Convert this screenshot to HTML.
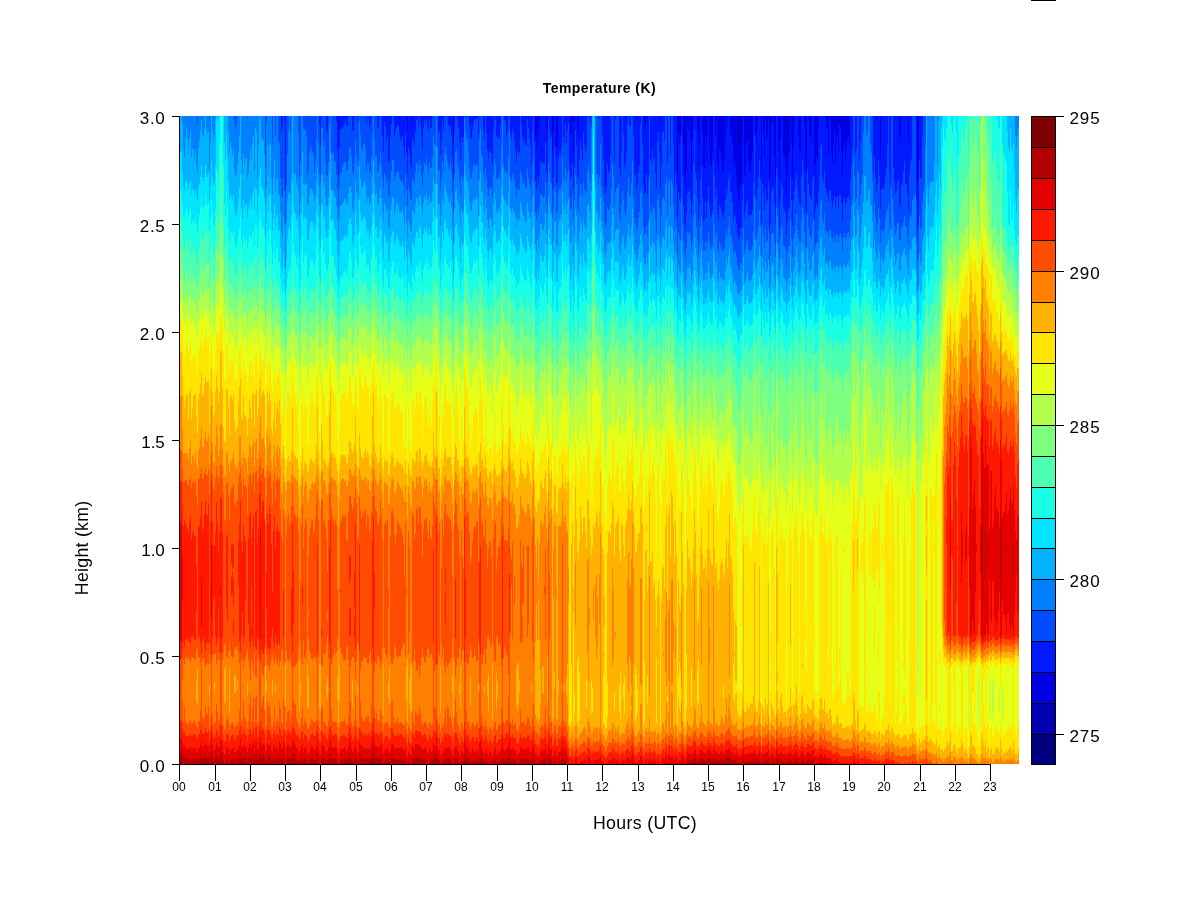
<!DOCTYPE html>
<html>
<head>
<meta charset="utf-8">
<title>Temperature (K)</title>
<style>
html,body{margin:0;padding:0;background:#fff;}
body{width:1200px;height:900px;overflow:hidden;}
svg{display:block;will-change:transform;}
text{font-family:"Liberation Sans",sans-serif;fill:#000;}
.xt{font-size:12px;text-anchor:middle;}
.yt{font-size:17px;text-anchor:end;}
.ct{font-size:17px;text-anchor:start;}
</style>
</head>
<body>
<svg width="1200" height="900" viewBox="0 0 1200 900">
<rect x="0" y="0" width="1200" height="900" fill="#fff"/>
<rect x="1031" y="0" width="25" height="1" fill="#000"/>
<!-- heat map -->
<g transform="translate(179,116)" fill="none" stroke-width="1" shape-rendering="crispEdges">
<path stroke="#0000B2" d="M558.5 0v2m1-2v28m1-28v26m30-26v10m17-10v14m6-14v2"/>
<path stroke="#0000E5" d="M159.5 0v13m69-13v13m4-13v8m29-8v1m13-1v25m7-25v2m28-2v1m47-1v21m1-21v33m1-33v12m1-12v23m1-23v6m7-6v10m1-10v24m5-24v35m1-35v16m3-16v30m1-30v31m13-31v19m1-19v18m1-18v5m1-5v37m1-37v7m3-7v14m1-14v19m58-19v5m8-5v18m1-18v8m2-8v8m13-8v6m17-6v56m1-56v17m1-17v27m1-27v22m3-22v30m1-30v60m1-60v72m1-72v55m1-55v10m1-10v14m1-14v6m1-6v23m1-23v57m1-57v23m5-23v15m1-15v55m1-55v31m3-31v15m1-15v50m1-50v52m1-52v21m1-21v46m1-46v22m1-22v1m1-1v33m1-33v49m1-49v51m1-51v37m3-37v21m1-21v4m1-4v49m1-49v56m1-56v32m1-32v35m1-35v44m1-44v56m1-56v57m1-57v43m1-43v22m2-22v10m3-10v21m1-21v19m1-19v27m1-27v50m1-50v43m1-43v51m1-51v62m1-60v73m1-47v57m1-59v56m1-82v69m1-69v69m1-69v27m2-27v59m1-59v48m1-48v29m1-29v24m1-24v45m1-45v55m1-55v55m1-55v45m1-45v37m3-37v18m1-18v26m1-26v8m4-8v55m2-55v17m1-17v40m1-40v3m1-3v25m1-25v21m1-21v3m1 7v60m1-70v58m1-58v8m2-8v7m1-7v39m1-39v66m3-66v34m1-34v63m1-63v23m2-23v3m1-3v39m1-39v42m1-42v49m1-35v65m1-79v60m1-60v43m1-43v35m2-35v27m1-25v62m1-64v32m1-32v8m4-8v18m1-18v34m1-34v35m4-35v7m1-7v53m1-53v57m2-57v4m1-4v21m1-21v20m1-20v27m3-27v59m1-59v48m1-48v40m1-40v45m1-45v13m7-13v2m1-2v10m1-10v13m1-13v39m1-39v2m1-2v4m1-4v37m1-37v47m1-47v28m1-28v16m1-16v47m1-47v25m1-25v20m1-20v37m1-37v8m1-8v11m1-11v36m1-36v60m1-60v34m1-34v26m1-26v46m1-46v34m1-34v24m1-24v20m1-20v29m27-29v5m4-5v42m19-42v20m1-20v25m8-25v25m8-25v6m1-6v67m1-67v64"/>
<path stroke="#0019FF" d="M102.5 0v15m1-15v11m2-11v5m1-5v74m22-74v1m12-1v8m1-8v30m6-30v14m1-14v17m9-17v5m1-5v34m1-21v46m1-59v31m1-31v13m1-13v13m1-13v12m1-12v10m1-10v8m1-8v3m1-3v10m1-10v10m1-10v1m4-1v14m1-14v15m1-15v1m3-1v5m9-5v8m2-8v1m1-1v12m1-12v9m7-9v12m1-12v11m4-11v20m1-20v36m1-36v6m1-6v11m1-11v25m1-25v20m1-20v45m1-45v46m1-46v20m1-20v8m3-8v20m1-20v16m1-16v12m1-12v9m1-9v10m1-10v18m1-18v25m1-25v21m1-21v20m1-20v30m1-30v42m1-42v17m1-17v37m1-24v44m1-57v32m1-32v38m1-38v48m1-40v44m1-52v22m1-22v24m1-24v30m1-30v16m1-16v4m1-4v3m1-3v11m2-11v8m1-8v22m1-22v34m1-34v13m1-13v4m1-4v7m1-7v3m1-3v10m1-10v15m1-15v2m1-2v12m1-12v12m7-12v16m1-16v15m1-14v38m1-39v25m1-25v6m1-6v15m4-15v1m1-1v9m1-9v13m1-13v10m1-10v19m1-19v41m1-16v39m1-64v15m3-15v5m1-5v12m1-12v26m1-24v43m1-45v21m1-21v26m1-26v21m6-21v10m1-10v23m1-23v22m1-22v14m1-14v7m1-7v3m1-3v5m1-5v2m1-2v3m1-3v19m5-19v14m1-14v23m2-23v17m1-17v34m1-33v42m1-43v36m1-36v34m1-34v38m1-38v47m1-47v14m2-14v4m1-4v20m1-20v23m1-23v21m1-21v23m1-23v9m4-9v5m1-5v4m1-4v20m1-20v16m3-16v18m1-18v23m1-23v13m1-13v17m1-17v25m1-25v35m1-35v47m1-47v33m1-33v38m1-38v36m2-36v10m1-10v21m1-21v27m1-27v24m1-24v30m1-30v29m1-29v3m1-3v12m1-12v22m1-22v30m1-30v50m1-50v15m2-15v26m1-5v44m1-32v40m1-61v49m1-38v45m1-62v53m1-59v44m1-44v48m1-48v47m1-47v47m1-47v47m1-47v26m1-16v45m1-31v42m1-66v1m1-1v14m1-14v22m1-22v21m1 14v38m1-57v46m1-62v31m1-31v41m1-11v37m1-36v36m1-67v43m1-43v37m1-37v38m1-38v30m2-30v21m1-21v27m1-27v9m1-9v27m1-27v14m1-14v7m1-7v49m1-30v44m1-45v43m1-56v43m1-11v36m1-66v44m1-51v15m1-15v30m1-16v45m1-40v44m1-63v43m1-43v24m1-24v35m1-35v44m1-44v17m1-17v29m1-29v36m1-36v33m3-33v2m1-2v8m8-8v3m4-3v21m1-21v43m1-43v71m1-71v78m1-78v71m1-71v48m1-48v57m1-57v55m1-55v39m4-39v47m1-47v3m4-3v52m1-52v61m1-61v37m2-37v18m1-18v49m1-49v53m1-53v37m1-37v8m2-8v11m1-11v10m3-10v20m1-20v58m1-58v59m1-54v68m1-73v67m1-67v56m1-56v50m1-50v9m2-9v28m1-28v69m1-51v60m1-70v69m1-77v58m1-50v71m1-79v62m2-62v44m1-44v48m1-48v33m1-33v43m1-43v41m1-41v57m1-57v72m1-72v26m1-26v17m1-17v37m1-31v68m1-74v50m1-50v16m1-16v16m1-16v25m3-25v48m3-48v39m3-39v29m1-29v72m1-72v57m1-57v68m1-12v45m1-84v59m1-49v57m1-62v64m1-86v19m1-19v61m1-31v59m1-29v48m1-36v42m1-59v43m1-88v68m1-64v62m1-70v68m1-51v60m1-26v42m1-76v63m1-86v48m1-48v14m1-14v56m1-56v64m1-49v67m1-27v49m1-73v58m1-89v64m1-64v51m1-36v67m1-32v55m1-53v52m1-83v65m1-40v56m1-80v63m1-84v69m1-37v56m1-40v50m1-48v51m1-65v57m1-94v45m1-45v60m1-39v61m1-78v69m1-24v49m1-42v48m1-72v57m1-54v56m1-47v52m1-40v44m1-43v46m1-60v53m1-74v62m1-84v72m1-62v68m1-78v64m1-64v57m1-36v55m1-57v58m1-50v59m1-36v54m1-61v56m1-48v50m1-39v46m1-33v43m1-33v39m1-42v39m1-52v43m1-43v43m1-85v58m1-85v68m1-9v43m1-54v47m1-66v58m1-63v60m1-39v54m1-44v45m1-45v43m1-53v54m1-62v57m1-94v67m1-67v19m1-1v62m1-54v59m1-77v64m1-72v61m1-61v44m1-44v64m1-9v51m1-106v68m1-51v61m1-38v54m1-91v70m1-48v62m1-66v63m1-81v62m1 5v47m1-59v50m1-100v69m1-77v71m1-64v67m1-35v50m1-23v41m1-107v52m1-52v59m1-25v56m1-27v50m1-90v59m1-82v66m1-63v68m1-32v53m1-50v52m1-45v48m1-18v40m1-59v45m1-62v51m1-59v57m1-92v61m1-34v57m1-20v46m1-78v52m1-76v67m1-75v65m1-65v57m1-57v72m1-54v64m1-48v54m1-53v55m1-90v61m1-61v44m1-44v56m1-49v68m1-22v43m1-39v41m1-98v53m1-49v64m1-47v59m1-60v62m1-55v57m1-84v66m1-66v60m1-1v45m1-56v46m1-54v48m1-43v46m1-78v63m1-76v59m1-59v31m1-31v27m1-27v62m1-62v66m1-66v54m1-52v70m1-62v67m1-64v66m1-40v47m1-84v73m1-71v70m1-37v48m1-38v44m1-63v57m1-69v64m1-33v45m1-67v56m1-61v61m1-44v55m1-84v71m1-68v68m1-43v51m1-27v45m1-71v52m1-60v56m1-36v44m1-56v52m1-62v57m1-61v60m1-51v55m1-84v64m1-64v50m1-50v33m3-33v37m1-37v33m3-33v45m1-45v25m13-25v56m1-56v40m1-40v61m1-56v70m1-75v68m1-68v45m1-45v60m1-18v51m1-93v74m1-74v72m1-72v74m1-74v69m1-69v61m1-61v51m1-51v29m2-29v58m1-58v69m3-69v52m1-52v65m1-65v78m1-78v75m1-75v67m1-67v63m1-43v68m1-63v65m1-90v69m1-69v67m1-67v56m1-56v45m1-45v68m1-68v68m1-68v78m1-53v70m1-95v58m1-58v47m1-47v43m5-37v79m1-18v47m1-50v45m1-109v45m1-45v62m1-62v62m1-62v19"/>
<path stroke="#004CFF" d="M18.5 0v8m12-8v3m25-3v3m1-3v13m1-13v8m11-8v2m18-2v51m1-51v7m6-7v29m3-29v20m3-20v25m1-25v27m1-27v62m1-47v66m1-70v70m1-81v62m1-57v70m1-1v34m1-108v69m1-69v38m1-38v14m2-14v16m8-16v15m1-15v60m1-60v46m3-46v12m1-12v14m1-14v14m1-14v21m1-20v58m1-59v56m1-56v38m1-38v29m1-29v33m1-33v36m1-36v39m1-39v56m1-56v45m1-45v23m2-23v27m1-19v50m1-28v37m1-67v11m1-11v12m1-12v31m1-31v24m1-24v46m1-32v45m1-42v43m1-60v46m1-46v7m2-7v37m1-37v37m1-37v38m1-38v45m1-45v46m1-41v54m1-25v39m1-14v32m1-60v39m1-57v44m1-44v43m1-44v39m1-41v38m1-40v38m1-43v43m1-36v44m1-44v44m1-53v44m1-45v32m1-32v31m1-31v39m1-25v42m1-41v44m1-58v46m1-47v23m1-23v39m1-34v45m1-50v45m1-45v5m1-5v19m1-19v32m1-32v35m1-35v29m1-29v27m1-27v32m1-24v47m1-55v47m1-46v46m1-35v45m1-48v48m1-57v41m1-41v18m2-18v23m1-23v40m1-40v40m1-28v44m1-45v45m1-56v48m1-48v36m1-36v49m1-29v42m1-26v37m1-67v51m1-46v49m1-35v42m1-47v43m1-18v35m1-34v35m1-61v43m1-55v47m1-55v44m1-44v44m1-24v45m1-49v44m1-48v44m1-47v46m1-45v46m1-38v43m1-36v40m1-44v43m1-44v45m1-35v40m1-28v36m1-61v42m1-22v37m1-17v32m1-57v39m1-33v38m1-28v34m1-30v32m1-62v42m1-40v40m1-34v37m1-51v40m1-52v43m1-44v45m1-37v45m1-56v44m1-36v41m1-27v38m1-26v36m1-57v44m1-53v43m1-40v42m1-46v39m1-32v41m1-36v43m1-56v44m1-34v40m1-40v40m1-52v42m1-42v20m1-20v28m1-28v29m2-29v32m1-16v39m1-40v39m1-15v36m1-50v38m1-57v40m1-31v40m1-55v37m1-37v30m1-30v39m1-38v44m1-36v42m1-38v40m1-43v38m1-29v38m1-16v35m1-12v32m1-81v43m1-58v36m1-36v34m1-29v44m1-37v41m1-27v38m1-19v34m1-58v38m1-33v38m1-43v40m1-61v2m1-2v15m1-15v24m1-24v22m1-22v36m1-26v43m1-30v40m1-41v39m1-47v41m1-48v43m1-47v45m1-43v46m1-49v47m1-46v46m1-30v43m1-62v23m1-23v13m1-13v38m1-38v41m1-27v43m1-34v42m1-65v52m1-35v45m1-28v38m1-29v37m1-44v37m1-39v37m1-33v35m1-26v33m1-66v44m1-58v43m1-39v44m1-28v43m1-40v40m1-42v40m1-38v40m1-54v47m1-56v30m2-30v48m1-43v52m1-53v51m1-35v37m1-41v41m1-57v41m1-41v14m1 4v45m1-40v42m1-52v45m1-41v44m1-36v40m1-30v37m1-25v34m1-48v39m1-34v36m1-38v38m1-74v55m1-45v49m1-38v43m1-37v41m1-44v43m1-37v42m1-43v43m1-69v50m1-41v50m1-40v46m1-38v41m1-21v33m1-68v49m1-64v42m1-16v41m1-2v31m1-23v31m1-43v32m1-25v31m1-40v31m1-46v34m1-30v31m1-32v34m1-34v35m1-35v33m1-54v40m1-11v31m1-20v31m1-96v46m1-33v44m1-36v43m1-44v46m1 6v29m1-40v31m1-62v41m1-31v35m1-9v29m1-29v30m1-54v34m1-40v36m1-35v35m1-43v38m1-68v41m1-20v41m1-35v38m1-56v43m1-25v40m1-53v44m1-51v47m1-5v32m1-18v31m1-33v31m1-44v32m1-7v30m1-52v34m1-70v44m1-29v38m1-9v32m1-28v33m1-53v37m1-56v44m1-33v40m1-31v37m1-64v49m1-37v44m1-37v42m1-45v43m1-76v55m1-55v50m1-48v56m1-50v58m1-66v13m4-13v2m1-2v58m1-58v58m1-55v65m1-68v61m1-61v28m1-28v71m1-50v58m1-36v43m1-15v35m1-28v33m1-40v36m1-59v43m1-34v37m1-39v39m1-55v49m1-88v72m1-72v47m1-47v60m1-13v43m1-87v74m1-77v73m1-73v72m1-72v68m1-16v46m1-37v45m1-69v52m1-89v75m1-57v65m1-34v46m1-42v47m1-63v54m1-83v69m1-77v61m1-50v69m1-70v69m1-79v67m1-67v45m1-25v62m1-24v44m1-43v48m1-34v42m1-48v45m1-56v46m1-52v46m1-87v68m1-77v74m1-46v63m1-22v42m1-33v41m1-42v41m1-60v52m1-31v41m1-58v44m1-106v59m1-15v51m1-47v49m1-64v56m1-46v50m1-52v52m1-36v47m1-32v45m1-91v58m1-67v61m1-41v55m1-18v43m1-67v49m1-83v67m1-67v65m1-56v60m1-85v68m1-68v62m1-14v50m1-98v66m1-66v64m1-25v51m1-90v64m1-64v69m1-40v61m1-18v43m1-58v46m1-35v44m1-11v37m1-62v40m1-32v38m1-36v39m1-106v63m1-21v48m1-20v37m1-18v30m1-24v30m1-46v34m1-54v39m1-41v42m1-44v42m1-33v39m1-23v34m1-47v40m1-78v54m1-88v64m1-22v42m1-34v47m1-29v41m1-19v34m1-49v39m1-64v46m1-59v49m1-18v42m1-19v30m1-31v31m1-49v40m1-24v33m1-50v40m1-55v47m1-28v38m1-28v33m1-30v32m1-40v35m1-84v54m1-39v49m1-27v39m1-48v43m1-18v34m1-28v32m1-47v37m1-35v38m1-33v36m1-32v34m1-31v32m1-39v36m1-48v39m1-51v41m1-35v42m1-56v47m1-54v44m1-25v42m1-41v44m1-35v42m1-24v34m1-39v36m1-34v35m1-28v33m1-23v31m1-25v30m1-33v33m1-42v35m1-35v35m1-62v39m1-56v43m1-9v35m1-42v38m1-46v40m1-43v40m1-25v35m1-34v35m1-37v36m1-35v35m1-40v36m1-63v48m1-96v62m1-1v41m1-36v39m1-52v45m1-56v50m1-67v51m1-31v46m1-4v32m1-70v42m1-32v42m1-26v38m1-59v40m1-26v38m1-41v41m1-60v48m1 4v31m1-40v31m1-62v42m1-48v46m1-43v43m1-28v39m1-21v34m1-89v40m1-33v41m1-10v38m1-15v29m1-60v40m1-56v44m1-39v42m1-21v37m1-35v36m1-33v36m1-14v31m1-45v32m1-43v36m1-38v38m1-69v44m1-21v39m1-13v31m1-57v39m1-48v43m1-53v45m1-53v41m1-26v42m1-32v40m1-34v38m1-36v35m1-64v44m1-61v48m1-36v43m1-24v41m1-20v35m1-33v34m1-79v46m1-31v44m1-32v40m1-38v39m1-37v39m1-57v43m1-49v44m1 0v31m1-41v35m1-41v38m1-35v36m1-51v38m1-55v40m1-68v55m1-59v56m1-21v41m1-37v42m1-54v43m1-25v42m1-37v40m1-38v37m1-30v35m1-46v39m1-40v40m1-29v37m1-31v34m1-40v37m1-42v40m1-28v34m1-45v38m1-38v38m1-27v35m1-48v41m1-41v39m1-31v35m1-17v30m1-49v35m1-39v35m1-27v34m1-38v35m1-40v36m1-37v36m1-32v37m1-57v40m1-54v40m1-57v50m1-83v42m1-42v61m1-24v48m1-52v49m1-82v55m1-55v57m1-12v45m1-65v54m1-79v68m1-68v58m1-58v17m3-17v20m1-20v16m3-16v28m1-28v37m1-37v65m1-9v39m1-55v46m1-25v40m1-26v40m1-47v40m1-63v47m1-32v42m1-9v34m1-53v40m1-42v42m1-40v43m1-48v43m1-51v42m1-52v45m1-67v64m1-93v87m1-29v51m1-40v45m1-114v73m1-73v83m1-31v46m1-33v45m1-32v40m1-43v39m1-47v40m1-44v44m1-19v36m1-34v35m1-56v42m1-44v45m1-56v50m1-61v55m1-32v42m1-42v43m1-33v42m1-25v35m1-72v46m1-57v52m1-56v58m1-101v84m1-84v83m1-83v80m1-80v78m1 7v42m1-13v32m1-37v35m1-99v55m1-38v52m1-52v49m1-92v68m1-87v76m1-76v68m1-68v30"/>
<path stroke="#007FFF" d="M3.5 0v7m1-7v32m1-32v41m1-41v21m1-21v12m1-12v23m1-23v34m1-34v23m1-23v16m1-16v41m1-41v33m1-33v33m1-33v42m1-42v33m1-33v50m1-42v49m1-57v32m1-32v25m1-25v15m1-15v4m1-4v18m1-18v20m1-20v12m2-12v12m1-12v17m1-17v16m1-13v51m1-54v27m2-27v14m1-14v23m1-23v19m1-19v3m13-3v15m1-15v37m1-37v26m1-26v32m1-32v40m1-40v33m1-30v50m1-40v47m1-52v50m1-58v48m1-48v36m1-36v20m2-20v44m1-44v57m1-57v38m1-38v48m1-48v43m1-43v42m1-40v60m1-62v57m1-57v45m1-45v33m1-33v44m1-44v27m1-27v20m1-20v55m1-55v12m1-12v15m1-15v61m1-61v29m1-29v4m2-4v23m1-23v23m1-23v25m1-25v38m1 13v37m1-81v63m1-70v30m1-30v59m1-59v28m1-28v29m1-29v62m1-33v50m1-79v63m1-63v43m1-23v56m1-76v63m1-63v62m1-37v52m1-50v52m1-17v35m1-16v36m1-36v40m1-59v38m1-25v34m1-1v44m1-83v37m1-68v47m1-71v64m1-78v76m1-60v63m1-79v62m2-62v56m1-56v59m1-59v58m1-58v69m1-69v65m1-50v60m1-15v39m1-53v41m1-87v61m1-61v36m1-24v56m1-54v55m1-55v53m1-46v47m1-9v31m1-34v32m1-50v40m1-49v43m1-39v40m1-37v39m1-36v39m1-22v29m1-40v34m1-56v42m1-65v51m1-24v43m1-12v31m1-22v30m1-86v47m1-46v47m1-28v40m1-47v42m1-20v35m1-22v31m1-30v30m1-44v35m1-74v48m1-55v35m1 2v37m1-37v37m1-36v37m1-30v35m1-34v35m1-22v32m1-18v32m1-14v34m1-55v33m1-46v33m1-34v33m1-38v37m1-40v38m1-40v37m1-37v37m1-29v34m1-34v32m1-41v33m1-46v39m1-40v39m1-31v37m1-20v36m1-33v38m1-50v37m1-61v41m1-25v37m1-26v35m1-40v36m1-76v45m1-31v44m1-31v40m1-37v36m1-42v40m1-42v39m1-34v37m1-14v31m1-39v34m1-34v35m1-25v32m1-32v30m1-46v37m1-60v44m1-62v45m1-22v44m1-27v39m1-39v37m1-21v33m1-33v32m1-40v34m1-46v36m1-23v33m1-20v33m1-22v31m1-47v30m1-27v30m1-23v30m1-34v30m1-13v32m1-31v32m1-50v31m1-39v33m1-44v37m1-37v38m1-17v34m1-39v33m1-37v32m1-33v31m1-30v34m1-29v34m1-30v32m1-33v32m1-31v29m1-24v29m1-21v32m1-51v32m1-17v32m1-17v33m1-51v33m1-28v33m1-27v32m1-30v32m1-52v31m1-31v31m1-28v31m1-42v33m1-42v35m1-34v35m1-27v33m1-45v34m1-29v32m1-21v30m1-20v28m1-41v30m1-40v33m1-31v34m1-41v36m1-27v33m1-26v31m1-43v34m1-28v34m1-34v33m1-43v34m1-56v41m1-33v39m1-38v39m1-68v30m1 2v37m1-14v34m1-35v34m1-13v35m1-47v36m1-53v36m1-27v34m1-52v36m1-43v38m1-29v37m1-31v35m1-29v34m1-32v34m1-39v34m1-25v34m1-15v34m1-14v32m1-70v35m1-57v39m1-41v39m1-24v35m1-31v35m1-24v34m1-19v32m1-52v34m1-29v34m1-37v34m1-93v45m1-32v44m1-35v41m1-43v43m1-29v38m1-21v34m1-24v33m1-35v33m1-39v32m1-37v33m1-35v34m1-31v33m1-35v32m1-32v33m1-20v38m1-77v41m1-51v43m1-18v37m1-34v35m1-19v32m1-24v32m1-45v30m1-20v30m1-20v32m1-24v33m1-40v31m1-33v30m1-28v30m1-23v31m1-53v30m1-45v34m1-29v35m1-20v33m1-33v32m1-34v31m1-29v32m1-39v31m1-57v41m1-71v51m1-3v32m1-23v29m1-31v29m1-27v31m1-31v32m1-48v36m1-63v46m1 3v30m1-28v31m1-38v34m1-31v36m1-32v31m1-24v29m1-20v30m1-39v31m1-29v31m1-31v29m1-48v31m1-27v32m1-27v32m1-28v32m1-33v34m1-29v34m1-34v33m1-52v34m1-25v33m1-27v33m1-30v31m1-19v31m1-50v32m1-54v37m1-12v33m1-4v32m1-24v32m1-43v31m1-25v32m1-41v30m1-42v30m1-29v29m1-27v32m1-31v32m1-34v29m1-43v30m1-10v32m1-21v32m1-82v34m1-23v31m1-24v31m1-29v31m1 4v32m1-41v32m1-53v33m1-29v30m1-10v33m1-32v34m1-54v32m1-36v31m1-31v30m1-35v30m1-57v35m1-14v28m1-25v29m1-42v33m1-18v31m1-40v30m1-34v29m1-2v30m1-17v34m1-36v34m1-46v30m1-7v37m1-55v34m1-60v34m1-25v32m1-9v33m1-28v34m1-50v35m1-47v33m1-26v34m1-28v36m1-51v37m1-30v36m1-31v35m1-37v35m1-56v35m1-40v38m1-30v37m1-29v38m1-91v62m4-73v70m1-14v40m1-40v37m1-27v39m1-46v41m1-74v54m1-11v34m1-26v34m1-27v34m1-14v31m1-26v30m1-34v29m1-45v35m1-32v33m1-33v33m1-39v36m1-52v39m1-64v45m1-32v39m1-9v34m1-47v38m1-42v40m1-41v42m1-46v44m1-14v36m1-28v33m1-50v38m1-52v43m1-35v39m1-27v36m1-31v34m1-43v36m1-50v41m1-57v47m1-28v41m1-42v41m1-53v44m1-66v48m1-11v37m1-17v32m1-27v31m1-23v31m1-34v30m1-40v32m1-38v33m1-52v42m1-45v43m1-26v35m1-15v31m1-23v30m1-31v30m1-38v28m1-18v29m1-43v31m1-78v45m1-9v35m1-33v33m1-41v36m1-32v35m1-35v35m1-24v32m1-19v33m1-66v40m1-46v42m1-28v37m1-12v32m1-50v34m1-50v39m1-41v40m1-36v39m1-56v43m1-49v42m1-6v34m1-66v46m1-48v45m1-19v37m1-63v46m1-41v44m1-23v37m1-12v31m1-43v32m1-23v31m1-5v31m1-53v33m1-27v33m1-30v32m1-75v42m1-15v32m1-15v30m1-18v29m1-23v29m1-41v32m1-47v34m1-33v34m1-36v31m1-25v30m1-19v31m1-38v33m1-57v36m1-60v43m1-23v34m1-21v30m1-18v32m1-17v30m1-40v32m1-50v32m1-42v34m1-10v29m1-18v29m1-29v29m1-38v32m1-23v29m1-39v30m1-38v29m1-19v30m1-25v30m1-28v29m1-34v29m1-59v33m1-23v29m1-17v30m1-35v30m1-14v31m1-27v30m1-40v30m1-27v32m1-29v31m1-29v30m1-29v30m1-33v32m1-41v32m1-42v29m1-22v30m1-39v29m1-39v32m1-15v31m1-28v31m1-24v31m1-21v30m1-33v30m1-29v30m1-25v29m1-21v27m1-22v25m1-25v25m1-32v27m1-27v28m1-51v32m1-45v30m1-4v30m1-34v33m1-39v34m1-37v32m1-22v30m1-29v31m1-32v31m1-31v30m1-34v29m1-44v30m1-64v43m1-3v30m1-27v29m1-36v29m1-35v30m1-46v35m1-20v30m1-2v30m1-58v32m1-22v32m1-20v32m1-51v33m1-21v31m1-31v29m1-41v31m1 4v26m1-35v29m1-49v31m1-33v29m1-29v32m1-21v34m1-21v30m1-79v35m1-27v34m1-6v32m1-18v27m1-47v31m1-43v33m1-30v35m1-19v32m1-31v32m1-29v31m1-14v25m1-38v30m1-37v32m1-32v32m1-57v34m1-16v33m1-15v29m1-47v32m1-37v33m1-41v31m1-43v32m1-16v32m1-24v34m1-30v33m1-34v29m1-49v31m1-44v36m1-29v36m1-19v32m1-17v32m1-31v32m1-65v34m1-21v33m1-25v34m1-33v35m1-33v31m1-45v31m1-36v31m1 0v29m1-35v32m1-35v33m1-32v34m1-47v33m1-48v34m1-47v37m1-40v38m1-18v33m1-28v32m1-43v34m1-17v33m1-30v31m1-32v30m1-25v31m1-38v31m1-31v31m1-23v31m1-28v30m1-33v30m1-32v30m1-24v30m1-37v31m1-31v32m1-24v30m1-37v30m1-32v31m1-27v31m1-18v28m1-42v30m1-34v30m1-23v28m1-31v30m1-34v31m1-32v30m1-25v30m1-47v30m1-44v35m1-42v38m1-79v45m1-26v39m1-15v36m1-39v37m1-64v39m1-37v41m1-8v43m1-54v42m1-53v41m1-51v40m1-81v69m1-86v60m1-60v60m1-40v66m1-70v68m1-84v75m1-75v73m1-45v61m1-52v52m1-24v40m1-10v37m1-46v37m1-22v33m1-19v30m1-37v34m1-50v37m1-27v34m1-9v29m1-42v29m1-29v30m1-27v31m1-36v31m1-40v31m1-38v33m1-36v35m1-41v37m1-15v28m1-23v29m1-70v40m1-30v38m1-23v33m1-21v30m1-22v31m1-35v30m1-37v30m1-30v30m1-13v30m1-29v30m1-44v28m1-27v28m1-34v29m1-35v32m1-22v29m1-28v31m1-22v30m1-20v29m1-55v33m1-38v34m1-32v33m1-50v39m1-40v40m1-43v41m1-43v43m1 6v31m1-12v28m1-30v30m1-74v38m1-24v35m1-38v35m1-59v38m1-49v44m1-52v47m1-85v64m2-94v70m1-70v89m1-89v71m1-71v66m1-66v65m1-65v66m1-66v66m1-66v45m3-45v49m1-49v4m77-4v20m1-20v31m1-31v19m1-19v11"/>
<path stroke="#00B2FF" d="M0.5 0v41m1-41v35m1-35v37m1-30v50m1-25v39m1-30v33m1-53v46m1-55v52m1-41v44m1-33v39m1-50v44m1-51v48m1-23v37m1-45v40m1-40v40m1-31v36m1-45v40m1-23v31m1-24v29m1-54v39m1-46v43m1-53v46m1-57v46m1-32v44m1-42v45m1-53v49m1-61v48m1-36v46m1-41v44m1-45v42m1-4v30m1-57v43m1-70v45m1-31v48m1-39v46m1-50v47m1-63v46m1-49v3m1-3v1m1-1v6m6-6v26m1-26v44m1-44v18m1-18v41m1-26v50m1-28v47m1-58v52m1-46v49m1-41v44m1-51v46m1-26v38m1-31v38m1-40v42m1-52v43m1-55v46m1-62v52m1-72v58m1-14v48m1-35v45m1-64v46m1-36v45m1-50v47m1-48v46m1-26v39m1-44v36m1-48v42m1-54v51m1-40v46m1-63v53m1-60v54m1-19v39m1-82v59m1-56v58m1-12v38m1-70v51m1-76v57m1-61v53m1-30v48m1-48v49m1-47v49m1-36v44m1 6v34m1-52v37m1-77v50m1-21v36m1-67v50m1-49v49m1-16v35m1-18v36m1-52v39m1-59v45m1-12v35m1-48v36m1-37v37m1-22v38m1-36v35m1-17v34m1-14v34m1-30v34m1-55v38m1-29v42m1 1v24m1-70v38m1-59v38m1-45v35m1-37v35m1-32v37m1-54v37m1-99v69m1-13v34m1-31v37m1-38v40m1-29v36m1-40v37m1-27v39m1-15v42m1-54v38m1-64v36m1-61v45m1-13v36m1-35v33m1-35v34m1-33v36m1-14v34m1-36v36m1-46v36m1-42v34m1-33v32m1-30v31m1-28v33m1-26v31m1-37v30m1-44v31m1-45v31m1-12v31m1-12v34m1-26v35m1-74v30m1-29v31m1-19v32m1-37v34m1-19v33m1-24v32m1-32v31m1-40v32m1-58v32m1-52v39m1 0v31m1-31v29m1-28v29m1-24v33m1-32v33m1-23v33m1-19v34m1-14v37m1-59v38m1-51v36m1-37v35m1-36v37m1-39v36m1-39v37m1-37v36m1-31v35m1-37v33m1-41v30m1-37v32m1-33v32m1-26v32m1-16v35m1-30v34m1-47v36m1-56v31m1-19v33m1-24v34m1-38v34m1-65v34m1-21v34m1-25v33m1-34v32m1-34v34m1-37v34m1-31v34m1-17v32m1-37v32m1-31v32m1-25v34m1-36v32m1-41v33m1-49v35m1-52v33m1-11v32m1-20v33m1-35v34m1-22v33m1-34v34m1-40v32m1-42v29m1-19v32m1-19v35m1-26v39m1-56v31m1-28v31m1-24v31m1-35v32m1-13v33m1-32v33m1-52v32m1-38v32m1-39v34m1-33v34m1-17v30m1-36v33m1-38v33m1-35v32m1-28v34m1-29v34m1-32v34m1-35v33m1-35v31m1-26v32m1-21v33m1-52v34m1-19v35m1-19v35m1-53v32m1-27v30m1-25v32m1-30v35m1-56v32m1-32v32m1-29v33m1-42v33m1-40v33m1-32v33m1-27v33m1-44v31m1-28v31m1-22v33m1-25v34m1-45v31m1-38v32m1-29v33m1-38v33m1-27v33m1-28v32m1-41v33m1-27v33m1-34v33m1-42v30m1-45v30m1-24v32m1-31v35m1-73v38m1 1v33m1-13v32m1-33v33m1-11v34m1-45v33m1-50v34m1-27v35m1-51v34m1-39v35m1-27v36m1-32v33m1-28v33m1-31v33m1-38v32m1-23v33m1-14v33m1-15v34m1-69v33m1-51v36m1-38v35m1-24v32m1-28v33m1-23v34m1-21v35m1-53v35m1-30v33m1-36v32m1-80v36m1-24v31m1-25v32m1-32v34m1-25v34m1-21v32m1-23v32m1-34v32m1-39v32m1-36v32m1-33v32m1-30v31m1-34v30m1-29v31m1-13v30m1-66v36m1-44v34m1-15v31m1-30v31m1-18v32m1-24v31m1-46v30m1-20v31m1-19v31m1-22v30m1-39v31m1-34v31m1-29v30m1-22v29m1-52v31m1-42v32m1-26v32m1-19v31m1-32v32m1-35v31m1-28v30m1-38v30m1-46v29m1-49v30m1-1v30m1-24v29m1-31v29m1-25v32m1-31v30m1-42v32m1-49v32m1 1v31m1-28v31m1-35v31m1-26v33m1-34v32m1-27v31m1-21v31m1-39v33m1-31v32m1-34v31m1-48v32m1-27v31m1-26v32m1-28v31m1-30v32m1-27v31m1-32v30m1-48v33m1-25v31m1-25v30m1-29v32m1-20v31m1-49v31m1-48v32m1-11v32m1-4v33m1-25v31m1-43v30m1-23v32m1-43v31m1-43v30m1-30v33m1-28v33m1-32v31m1-36v30m1-43v32m1-10v32m1-21v32m1-80v32m1-24v33m1-26v33m1-31v31m1 5v31m1-40v31m1-51v32m1-31v36m1-13v36m1-34v35m1-57v36m1-41v35m1-36v34m1-39v32m1-54v31m1-17v31m1-27v32m1-41v33m1-20v33m1-43v31m1-36v30m1-2v38m1-21v38m1-40v37m1-53v37m1-7v34m1-55v36m1-62v34m1-27v34m1-10v35m1-29v35m1-50v35m1-49v37m1-29v38m1-30v37m1-51v35m1-29v37m1-33v38m1-40v38m1-59v34m1-36v33m1-26v32m1-23v32m1-61v43m1-118v58m2-58v65m1 7v43m1-17v32m1-35v32m1-20v30m1-35v31m1-51v35m1-12v32m1-24v30m1-23v29m1-12v30m1-26v29m1-34v30m1-40v31m1-30v28m1-28v30m1-33v31m1-44v31m1-50v35m1-28v34m1-9v31m1-40v30m1-32v32m1-31v33m1-35v33m1-11v31m1-26v30m1-42v32m1-41v30m1-26v32m1-23v32m1-29v30m1-37v30m1-39v29m1-39v30m1-17v29m1-30v30m1-39v32m1-50v36m1-10v31m1-16v29m1-25v30m1-22v27m1-31v27m1-35v30m1-35v29m1-39v28m1-30v29m1-20v30m1-14v29m1-22v27m1-28v26m1-36v27m1-16v27m1-39v30m1-63v31m1-5v30m1-30v30m1-35v30m1-27v31m1-31v30m1-22v30m1-16v28m1-54v36m1-40v34m1-25v32m1-12v27m1-43v30m1-41v31m1-32v32m1-29v32m1-45v32m1-39v33m1-5v31m1-51v30m1-33v31m1-13v33m1-50v32m1-29v31m1-17v30m1-11v27m1-38v30m1-22v29m1-3v25m1-45v28m1-22v25m1-23v25m1-58v36m1-19v29m1-14v26m1-15v26m1-20v26m1-35v23m1-36v25m1-24v26m1-31v28m1-23v26m1-14v25m1-30v24m1-45v31m1-48v33m1-22v30m1-21v29m1-15v26m1-13v24m1-32v25m1-43v30m1-38v31m1-12v25m1-14v24m1-24v24m1-30v24m1-18v23m1-32v24m1-33v27m1-16v25m1-20v23m1-22v23m1-28v26m1-52v29m1-23v28m1-15v27m1-32v28m1-11v25m1-22v24m1-34v25m1-20v23m1-21v22m1-21v23m1-22v24m1-25v22m1-31v25m1-38v28m1-20v27m1-37v29m1-36v29m1-13v27m1-24v26m1-19v24m1-15v23m1-26v23m1-22v24m1-20v23m1-17v23m1-20v23m1-23v22m1-27v22m1-21v22m1-41v24m1-39v28m1-2v21m1-22v22m1-27v23m1-28v24m1-16v22m1-20v22m1-23v22m1-23v23m1-28v25m1-39v28m1-49v33m1-6v26m1-24v25m1-32v27m1-32v29m1-40v30m1-20v29m1-1v25m1-51v30m1-20v27m1-15v24m1-42v28m1-18v26m1-28v27m1-37v28m1 2v23m1-29v24m1-42v27m1-31v27m1-24v27m1-14v24m1-15v23m1-67v32m1-25v31m1-5v23m1-14v23m1-39v26m1-36v29m1-24v28m1-15v23m1-22v23m1-21v23m1-12v22m1-30v22m1-27v23m1-23v23m1-46v30m1-13v25m1-11v22m1-37v25m1-29v26m1-36v29m1-40v30m1-14v28m1-18v24m1-21v23m1-28v25m1-43v29m1-37v31m1-24v32m1-19v27m1-12v23m1-22v24m1-55v31m1-19v28m1-19v25m1-23v24m1-26v26m1-40v29m1-34v30m1-1v23m1-26v23m1-25v24m1-22v23m1-37v28m1-42v31m1-41v30m1-32v30m1-15v30m1-26v29m1-38v31m1-15v28m1-27v27m1-29v26m1-20v27m1-34v28m1-28v28m1-20v25m1-23v26m1-29v26m1-28v26m1-20v24m1-30v26m1-25v26m1-20v25m1-32v26m1-27v26m1-22v26m1-16v24m1-36v26m1-30v27m1-22v25m1-26v25m1-28v26m1-28v28m1-23v26m1-43v30m1-39v31m1-35v34m1-68v36m1-23v34m1-13v32m1-34v34m1-59v36m1-32v38m1-3v37m1-49v41m1-53v44m1-55v45m1-57v46m1-72v50m1-50v51m1-25v46m1-48v46m1-55v45m1-47v43m1-27v44m1-44v43m1-27v41m1-14v34m1-43v35m1-24v31m1-20v27m1-30v30m1-43v33m1-26v30m1-10v24m1-37v27m1-26v28m1-24v27m1-32v27m1-36v29m1-34v29m1-30v30m1-34v29m1-16v28m1-22v28m1-58v29m1-21v30m1-20v31m1-22v28m1-19v28m1-33v28m1-35v28m1-28v28m1-11v25m1-24v24m1-40v28m1-27v28m1-33v29m1-32v29m1-22v28m1-25v28m1-20v26m1-17v24m1-46v30m1-34v31m1-30v29m1-40v30m1-30v31m1-33v32m1-32v33m1 4v25m1-9v24m1-24v24m1-60v32m1-21v29m1-32v30m1-51v34m1-39v38m1-43v40m1-61v43m1-137v82m1-12v50m1-31v45m1-63v48m1-53v45m1-46v46m1-45v47m1-47v45m1-66v53m1-98v78m1-78v65m1-16v50m1-95v79m1-83v56m1-56v71m1-71v10m66-10v15m1-15v31m1-31v36m1-36v13m1-13v32m1-32v37m1-37v27m1-27v54m1-34v63m1-52v65m1-77v60m1-68v62"/>
<path stroke="#00E5FF" d="M0.5 41v36m1-42v38m1-36v38m1-18v31m1-17v29m1-26v28m1-35v28m1-31v28m1-25v27m1-21v28m1-34v29m1-32v28m1-14v31m1-36v32m1-32v31m1-26v30m1-35v28m1-20v28m1-23v30m1-45v32m1-35v30m1-37v30m1-41v32m1-20v30m1-27v29m1-33v29m1-42v32m1-22v30m1-27v29m1-32v29m1-3v30m1-44v33m1-58v39m1-22v34m1-27v39m1-42v43m1-60v44m1-90v50m1-52v55m1-50v56m1-62v27m4-27v50m1-24v62m1-44v56m1-82v56m1-33v50m1-26v46m1-27v40m1-46v38m1-35v36m1-33v35m1-40v37m1-25v33m1-26v32m1-30v32m1-41v34m1-43v36m1-46v39m1-53v41m1-7v32m1-22v29m1-47v36m1-27v33m1-36v33m1-35v35m1-22v31m1-39v33m1-39v34m1-37v36m1-30v34m1-44v38m1-44v39m1-19v35m1-58v37m1-35v37m1-11v33m1-52v38m1-57v44m1-52v45m1-27v40m1-39v40m1-38v38m1-30v36m1 4v32m1-47v31m1-58v36m1-21v34m1-51v36m1-36v36m1-17v34m1-16v34m1-47v35m1-49v37m1-14v32m1-44v33m1-33v34m1-18v31m1-32v32m1-15v32m1-12v23m1-19v22m1-39v31m1-18v24m1 1v18m1-50v28m1-49v40m1-50v43m1-45v39m1-34v38m1-55v41m1-71v37m1-16v39m1-33v41m1-39v42m1-35v44m1-47v40m1-28v40m1-13v32m1-48v40m1-68v40m1-56v39m1-16v42m1-44v38m1-39v36m1-33v35m1-15v38m1-38v38m1-48v39m1-47v39m1-40v37m1-36v37m1-32v37m1-32v37m1-44v35m1-48v34m1-48v31m1-12v37m1-15v38m1-29v35m1-79v33m1-31v34m1-21v36m1-39v36m1-22v33m1-25v32m1-33v34m1-42v35m1-61v34m1-47v32m1-1v35m1-37v35m1-34v36m1-27v37m1-36v38m1-28v36m1-21v29m1-6v20m1-41v30m1-45v37m1-39v36m1-35v35m1-38v35m1-37v35m1-36v36m1-32v36m1-40v38m1-49v38m1-43v34m1-35v34m1-28v36m1-17v35m1-31v32m1-43v33m1-58v36m1-22v35m1-25v34m1-38v34m1-65v33m1-20v33m1-25v33m1-35v35m1-35v33m1-36v34m1-31v34m1-19v35m1-40v34m1-33v34m1-25v35m1-39v32m1-40v31m1-45v32m1-51v29m1-8v32m1-19v30m1-31v30m1-19v33m1-33v34m1-42v34m1-47v34m1-21v35m1-19v34m1-21v29m1-54v35m1-32v32m1-25v32m1-35v32m1-12v27m1-26v27m1-47v31m1-37v31m1-36v30m1-29v29m1-16v29m1-32v33m1-38v35m1-38v33m1-27v35m1-30v34m1-32v33m1-35v32m1-36v32m1-26v32m1-20v28m1-46v34m1-18v30m1-14v23m1-44v29m1-26v28m1-21v26m1-21v25m1-49v31m1-31v33m1-29v34m1-43v33m1-40v34m1-33v34m1-28v33m1-46v35m1-32v37m1-26v38m1-29v34m1-48v35m1-41v35m1-31v35m1-40v32m1-26v31m1-27v33m1-41v33m1-27v33m1-34v34m1-46v35m1-50v33m1-25v34m1-30v33m1-68v33m1 1v33m1-14v32m1-32v30m1-7v29m1-41v32m1-48v32m1-24v35m1-52v35m1-39v34m1-25v36m1-35v36m1-31v33m1-31v32m1-38v32m1-22v33m1-14v29m1-10v23m1-59v30m1-45v31m1-34v32m1-24v29m1-24v31m1-20v32m1-18v28m1-46v34m1-31v33m1-37v32m1-76v34m1-27v33m1-26v33m1-31v32m1-23v32m1-21v32m1-23v30m1-32v31m1-38v33m1-37v32m1-33v29m1-28v33m1-37v33m1-31v31m1-14v28m1-58v31m1-41v32m1-16v32m1-31v34m1-20v33m1-26v31m1-47v31m1-20v30m1-18v30m1-22v28m1-36v31m1-34v31m1-30v30m1-23v28m1-49v29m1-39v29m1-23v29m1-17v30m1-30v31m1-35v32m1-30v30m1-38v30m1-47v30m1-49v30m1-1v31m1-26v32m1-34v33m1-26v33m1-34v30m1-40v29m1-46v31m1 1v31m1-28v31m1-35v30m1-23v31m1-33v31m1-27v32m1-22v30m1-36v31m1-30v31m1-34v31m1-47v31m1-27v31m1-25v30m1-27v31m1-29v31m1-27v30m1-32v29m1-44v31m1-25v30m1-25v30m1-27v33m1-22v28m1-46v31m1-47v32m1-11v32m1-3v29m1-23v27m1-40v28m1-19v28m1-40v30m1-43v30m1-27v31m1-26v31m1-32v31m1-37v29m1-40v32m1-10v29m1-18v27m1-75v32m1-23v34m1-27v34m1-34v32m1 4v30m1-39v29m1-48v32m1-27v33m1-10v30m1-29v30m1-51v33m1-39v34m1-36v34m1-41v33m1-56v34m1-20v35m1-30v35m1-43v34m1-21v34m1-46v34m1-40v34m1 2v34m1-17v31m1-34v31m1-47v33m1-6v30m1-49v32m1-60v35m1-28v35m1-10v33m1-27v31m1-46v32m1-44v35m1-26v33m1-26v32m1-48v34m1-26v32m1-27v33m1-35v35m1-60v32m1-35v31m1-25v31m1-22v30m1-48v34m1-94v53m1-111v19m1 46v51m1-1v32m1-17v29m1-32v29m1-19v29m1-33v29m1-45v31m1-11v30m1-24v30m1-24v29m1-11v26m1-23v26m1-30v25m1-34v25m1-27v26m1-24v25m1-27v26m1-39v29m1-44v31m1-25v31m1-9v26m1-36v28m1-28v28m1-26v28m1-30v29m1-9v23m1-19v23m1-33v26m1-37v28m1-22v27m1-18v25m1-24v22m1-29v25m1-35v27m1-36v29m1-17v27m1-27v28m1-35v29m1-43v32m1-11v27m1-14v26m1-21v24m1-19v23m1-27v24m1-29v23m1-29v25m1-36v27m1-28v28m1-18v26m1-11v24m1-19v24m1-26v24m1-33v25m1-14v24m1-33v24m1-56v30m1-5v25m1-25v26m1-31v27m1-23v25m1-26v26m1-18v25m1-13v25m1-43v24m1-30v26m1-19v26m1-11v24m1-37v26m1-36v28m1-28v28m1-25v28m1-41v30m1-36v31m1-5v24m1-45v29m1-31v30m1-10v26m1-44v30m1-28v29m1-16v26m1-10v24m1-32v25m1-18v26m1-4v24m1-41v24m1-21v24m1-22v24m1-46v23m1-13v24m1-12v25m1-14v25m1-19v26m1-38v24m1-35v22m1-20v23m1-26v23m1-20v25m1-14v26m1-32v24m1-38v23m1-38v27m1-19v25m1-17v26m1-15v26m1-15v24m1-31v24m1-37v24m1-31v24m1-11v24m1-14v24m1-24v24m1-30v23m1-18v23m1-31v23m1-29v22m1-13v23m1-20v23m1-22v24m1-26v24m1-47v25m1-20v26m1-14v26m1-30v26m1-12v24m1-22v24m1-33v24m1-21v22m1-21v23m1-21v23m1-21v25m1-28v22m1-28v22m1-32v25m1-18v25m1-33v25m1-32v25m1-11v23m1-21v24m1-19v24m1-16v23m1-26v23m1-21v23m1-20v24m1-18v24m1-21v25m1-26v24m1-29v22m1-21v22m1-39v23m1-34v23m1-4v21m1-21v21m1-25v22m1-26v22m1-16v22m1-20v22m1-23v22m1-22v23m1-26v24m1-35v24m1-40v25m1-5v22m1-21v23m1-28v24m1-27v23m1-33v25m1-16v26m1-2v26m1-47v25m1-18v25m1-16v24m1-38v23m1-15v24m1-25v25m1-34v24m1 1v24m1-29v23m1-38v24m1-28v22m1-19v24m1-14v24m1-16v23m1-58v24m1-18v24m1-6v23m1-14v23m1-36v23m1-30v24m1-20v22m1-14v22m1-21v23m1-21v23m1-13v22m1-30v22m1-26v22m1-22v23m1-39v24m1-12v23m1-12v23m1-35v24m1-27v22m1-29v23m1-33v25m1-11v23m1-17v23m1-21v22m1-25v22m1-36v24m1-30v25m1-17v23m1-15v23m1-12v23m1-21v24m1-48v24m1-15v22m1-16v22m1-21v23m1-23v24m1-35v24m1-28v23m1-1v23m1-26v24m1-25v24m1-23v23m1-32v24m1-35v25m1-36v27m1-29v28m1-13v24m1-21v22m1-29v23m1-10v23m1-23v23m1-26v24m1-17v25m1-31v25m1-25v24m1-19v23m1-20v25m1-28v24m1-26v22m1-18v23m1-27v23m1-22v23m1-18v25m1-31v23m1-24v24m1-20v25m1-17v23m1-33v25m1-28v24m1-21v24m1-25v24m1-26v24m1-24v24m1-21v25m1-38v24m1-32v25m1-26v26m1-58v34m1-23v31m1-12v28m1-28v27m1-50v33m1-27v33m1 1v23m1-31v26m1-35v32m1-42v37m1-48v39m1-61v45m1-44v44m1-23v39m1-41v39m1-49v44m1-48v46m1-29v38m1-39v39m1-25v32m1-12v27m1-35v27m1-20v25m1-18v24m1-24v23m1-33v24m1-20v23m1-9v23m1-33v23m1-21v23m1-20v23m1-28v23m1-30v25m1-30v26m1-26v24m1-29v24m1-12v23m1-17v24m1-53v29m1-20v26m1-15v22m1-16v23m1-14v25m1-30v26m1-33v25m1-25v24m1-10v23m1-23v23m1-35v24m1-23v24m1-28v24m1-27v25m1-19v24m1-21v24m1-18v23m1-16v23m1-39v23m1-26v24m1-25v25m1-35v26m1-25v26m1-27v27m1-26v27m1 2v24m1-9v25m1-25v25m1-53v25m1-17v26m1-28v27m1-44v27m1-28v26m1-29v28m1-46v35m1-90v45m1-7v38m1-24v36m1-51v44m1-52v45m1-45v43m1-41v41m1-43v44m1-57v44m1-64v46m1-59v41m1-7v41m1-57v45m1-72v53m1-38v48m1-109v71m1-81v33m1-33v12m1-12v23m1-23v25m1-25v13m5-13v10m1-10v18m1-18v4m3-4v16m1-16v39m39-39v2m1-2v6m1-6v12m1-12v13m3-13v29m1-29v37m1-37v40m1-40v43m1-43v47m1-32v61m1-45v77m1-72v73m1-96v60m1-41v70m1-65v67m1-77v60m1-33v59m1-30v40m1-27v32m1-49v41m1-47v45"/>
<path stroke="#19FFE5" d="M0.5 77v30m1-34v31m1-29v31m1-18v31m1-19v31m1-29v34m1-41v31m1-34v30m1-28v29m1-22v31m1-36v30m1-34v30m1-13v30m1-34v29m1-30v29m1-25v30m1-37v30m1-22v32m1-25v32m1-45v30m1-35v30m1-37v29m1-38v30m1-20v31m1-29v31m1-35v30m1-40v30m1-22v30m1-28v30m1-33v30m1-3v31m1-42v30m1-49v34m1-22v31m1-19v29m1-28v28m1-44v33m1-73v45m1-42v43m1-37v44m1-79v55m1-82v48m1-48v35m1-35v57m1-7v59m1-21v41m1-29v34m1-60v43m1-26v35m1-15v29m1-16v31m1-39v27m1-26v27m1-25v29m1-32v29m1-21v30m1-24v30m1-28v29m1-36v29m1-36v28m1-35v27m1-39v31m1-6v26m1-19v26m1-37v29m1-23v27m1-30v27m1-27v27m1-18v29m1-35v29m1-34v28m1-29v27m1-23v30m1-36v30m1-35v31m1-15v32m1-53v32m1-30v31m1-9v30m1-44v31m1-44v31m1-38v33m1-20v33m1-32v31m1-31v32m1-26v33m1 3v24m1-40v29m1-51v30m1-17v33m1-48v35m1-35v34m1-17v32m1-14v27m1-39v31m1-43v33m1-15v28m1-39v32m1-31v31m1-18v26m1-26v26m1-9v19m1-8v18m1-15v18m1-26v18m1-12v18m1 1v19m1-41v20m1-29v20m1-27v23m1-29v26m1-22v24m1-38v32m1-66v47m1-24v39m1-31v35m1-32v33m1-24v28m1-35v32m1-20v27m1-8v23m1-31v24m1-52v35m1-52v40m1-14v30m1-36v32m1-35v32m1-30v32m1-9v24m1-24v22m1-31v25m1-33v30m1-33v31m1-30v31m1-26v28m1-23v26m1-35v29m1-43v34m1-51v38m1-13v33m1-10v23m1-17v23m1-69v40m1-37v38m1-23v31m1-34v32m1-21v28m1-21v26m1-25v25m1-32v28m1-55v35m1-50v35m1-1v30m1-32v31m1-29v31m1-21v27m1-25v26m1-18v21m1-13v21m1-7v21m1-32v21m1-29v21m1-24v21m1-21v20m1-23v22m1-24v23m1-23v24m1-20v22m1-24v23m1-34v28m1-37v30m1-31v31m1-23v28m1-10v21m1-20v21m1-31v25m1-47v35m1-22v28m1-19v24m1-28v27m1-59v37m1-24v34m1-26v31m1-31v31m1-33v31m1-33v31m1-28v30m1-14v24m1-30v26m1-25v26m1-16v22m1-29v25m1-34v27m1-40v31m1-53v33m1-9v31m1-20v27m1-28v27m1-13v24m1-23v24m1-32v27m1-40v32m1-18v26m1-11v21m1-13v20m1-39v24m1-24v25m1-18v22m1-25v23m1-8v21m1-20v21m1-37v23m1-29v24m1-30v26m1-26v26m1-13v23m1-22v23m1-26v23m1-28v25m1-17v22m1-18v21m1-20v22m1-25v22m1-26v24m1-18v22m1-14v21m1-33v22m1-10v20m1-11v21m1-36v20m1-18v21m1-16v21m1-17v20m1-38v23m1-21v23m1-18v22m1-32v25m1-31v27m1-26v26m1-21v24m1-35v29m1-24v27m1-15v23m1-18v22m1-35v27m1-33v29m1-25v26m1-34v28m1-23v28m1-22v26m1-34v29m1-23v27m1-27v26m1-37v31m1-48v35m1-26v32m1-29v31m1-66v35m1-1v32m1-14v26m1-28v27m1-5v23m1-32v23m1-39v27m1-16v24m1-41v30m1-35v32m1-21v28m1-27v27m1-25v27m1-26v26m1-32v28m1-17v25m1-10v23m1-10v24m1-53v24m1-38v28m1-30v30m1-25v27m1-20v27m1-15v24m1-14v23m1-35v23m1-21v23m1-28v25m1-67v31m1-25v34m1-27v33m1-32v32m1-23v30m1-19v27m1-20v27m1-28v28m1-33v28m1-33v28m1-32v28m1-23v28m1-32v30m1-30v29m1-15v27m1-54v29m1-38v30m1-14v30m1-27v30m1-17v27m1-22v27m1-43v29m1-19v27m1-15v25m1-19v24m1-29v24m1-27v25m1-25v26m1-21v25m1-45v28m1-38v29m1-23v27m1-14v26m1-25v26m1-29v26m1-26v26m1-34v27m1-44v29m1-48v30m1 0v30m1-24v29m1-30v30m1-23v27m1-31v28m1-39v28m1-43v31m1 1v27m1-24v27m1-32v28m1-20v25m1-27v27m1-22v27m1-19v27m1-32v27m1-26v27m1-30v28m1-44v29m1-25v28m1-23v28m1-24v27m1-25v28m1-25v28m1-31v29m1-42v29m1-24v28m1-23v29m1-23v28m1-22v26m1-41v27m1-42v31m1-10v31m1-5v28m1-24v27m1-39v27m1-18v28m1-38v28m1-41v29m1-25v28m1-23v28m1-29v29m1-37v30m1-38v29m1-10v28m1-19v27m1-70v30m1-19v30m1-23v30m1-32v32m1 2v29m1-39v29m1-45v28m1-22v29m1-9v27m1-26v27m1-45v29m1-34v28m1-30v31m1-39v34m1-56v33m1-18v33m1-28v31m1-40v32m1-19v31m1-43v32m1-38v33m1 3v31m1-17v29m1-32v29m1-43v31m1-7v28m1-45v30m1-55v33m1-26v34m1-11v31m1-27v29m1-43v30m1-39v29m1-22v30m1-24v31m1-45v30m1-24v29m1-23v30m1-30v33m1-61v33m1-37v31m1-25v30m1-22v31m1-45v37m1-78v40m1-132v69m1 28v37m1-6v32m1-20v31m1-34v30m1-20v28m1-32v28m1-42v29m1-10v29m1-23v29m1-24v29m1-14v26m1-23v25m1-30v26m1-35v25m1-26v26m1-25v25m1-26v24m1-34v27m1-40v27m1-21v25m1-8v25m1-33v26m1-26v26m1-24v24m1-25v24m1-10v24m1-20v24m1-31v25m1-34v25m1-20v25m1-18v24m1-26v23m1-27v24m1-32v25m1-32v25m1-15v25m1-24v25m1-31v26m1-37v25m1-9v25m1-13v25m1-22v25m1-21v24m1-27v23m1-29v24m1-28v25m1-34v26m1-26v25m1-17v26m1-13v26m1-21v25m1-27v24m1-32v24m1-14v24m1-33v25m1-51v25m1-5v25m1-24v26m1-30v26m1-24v24m1-24v25m1-18v26m1-14v24m1-43v23m1-27v25m1-18v25m1-12v26m1-37v25m1-33v26m1-26v27m1-24v26m1-37v26m1-31v25m1-6v25m1-41v25m1-26v26m1-10v26m1-40v25m1-24v25m1-15v24m1-10v24m1-31v25m1-17v25m1-5v23m1-40v24m1-21v24m1-22v24m1-47v23m1-12v24m1-11v24m1-13v23m1-16v25m1-39v25m1-38v22m1-19v23m1-26v24m1-19v24m1-12v23m1-31v25m1-40v24m1-35v25m1-19v26m1-17v25m1-14v24m1-15v25m1-32v23m1-36v24m1-31v23m1-10v23m1-13v22m1-22v22m1-29v22m1-17v22m1-30v23m1-30v23m1-13v23m1-20v24m1-22v25m1-27v27m1-49v25m1-19v26m1-14v24m1-28v25m1-13v24m1-22v24m1-33v23m1-22v23m1-21v22m1-20v22m1-18v25m1-31v25m1-31v23m1-30v25m1-18v25m1-33v25m1-32v25m1-13v25m1-22v24m1-19v24m1-17v24m1-27v26m1-24v25m1-21v25m1-19v24m1-20v26m1-28v27m1-34v26m1-25v25m1-41v25m1-36v22m1-5v24m1-24v24m1-27v22m1-26v22m1-16v28m1-26v25m1-26v23m1-22v23m1-25v25m1-36v25m1-40v24m1-7v25m1-23v27m1-31v25m1-29v23m1-31v24m1-14v25m1-1v27m1-49v26m1-19v25m1-17v26m1-41v24m1-15v24m1-24v24m1-34v24m1 1v29m1-35v29m1-43v25m1-31v24m1-19v26m1-16v26m1-19v26m1-60v24m1-18v23m1-6v26m1-17v30m1-43v26m1-32v24m1-22v25m1-17v26m1-24v26m1-24v26m1-17v27m1-35v26m1-30v26m1-25v24m1-39v23m1-12v24m1-13v27m1-38v25m1-30v25m1-31v23m1-31v25m1-13v24m1-18v25m1-24v26m1-29v25m1-37v24m1-29v24m1-18v24m1-16v24m1-13v27m1-24v26m1-50v25m1-18v24m1-18v25m1-23v26m1-25v27m1-38v24m1-29v23m1-1v28m1-30v29m1-30v28m1-28v27m1-35v26m1-36v25m1-34v26m1-27v25m1-14v23m1-22v23m1-29v24m1-11v25m1-25v25m1-27v25m1-17v26m1-32v25m1-26v24m1-20v25m1-20v29m1-33v27m1-31v24m1-19v27m1-31v24m1-23v24m1-17v25m1-33v27m1-27v27m1-22v26m1-20v26m1-34v25m1-29v25m1-22v26m1-27v25m1-27v24m1-24v24m1-20v27m1-41v24m1-31v25m1-25v25m1-49v25m1-17v26m1-10v25m1-26v25m1-42v25m1-19v24m1 0v24m1-29v27m1-30v29m1-34v28m1-37v26m1-42v29m1-29v30m1-14v28m1-30v29m1-34v27m1-29v26m1-17v29m1-29v27m1-20v27m1-12v27m1-35v26m1-21v25m1-19v25m1-26v24m1-33v23m1-20v23m1-9v26m1-36v23m1-21v23m1-20v25m1-30v23m1-28v24m1-28v25m1-27v25m1-30v23m1-12v24m1-17v25m1-49v27m1-21v24m1-17v23m1-16v22m1-11v24m1-28v25m1-33v24m1-25v24m1-11v26m1-26v28m1-39v24m1-23v24m1-28v25m1-27v25m1-20v25m1-22v24m1-19v25m1-18v28m1-44v24m1-26v25m1-25v25m1-34v23m1-22v24m1-24v24m1-23v25m1 1v25m1-9v28m1-28v29m1-57v25m1-16v25m1-26v25m1-42v27m1-29v25m1-26v25m1-36v26m1-71v38m1-7v30m1-18v30m1-37v30m1-37v33m1-35v33m1-33v33m1-32v33m1-46v38m1-56v44m1-62v52m1-18v38m1-50v39m1-58v41m1-31v42m1-80v48m1-96v59m1-80v48m1-37v53m1-51v57m1-69v59m1-72v39m1-39v45m1-45v33m1-33v7m1 3v52m1-44v55m1-69v55m1-59v41m1-41v55m1-39v62m1-39v70m1-109v52m1-52v41m1-41v35m1-35v11m1-11v21m1-21v27m1-27v24m1-24v11m1-11v1m1-1v9m1-9v53m11-53v5m10-5v21m2-21v6m1-6v46m1-46v45m1-45v39m1-39v38m1-36v51m1-47v58m1-52v61m1-60v53m2-66v29m1 0v80m1-72v75m1-72v71m1-68v68m1-64v68m1-39v48m1-16v23m1-22v22m1-58v48m1-19v27m1-25v26m1-43v36m1-10v22m1-12v23m1-18v24m1-32v25m1-27v23"/>
<path stroke="#4CFFB2" d="M0.5 107v30m1-33v30m1-28v30m1-17v29m1-17v32m1-27v31m1-41v32m1-36v31m1-30v34m1-25v31m1-37v32m1-36v32m1-15v28m1-33v29m1-30v29m1-24v28m1-35v30m1-20v28m1-21v27m1-42v29m1-34v31m1-39v30m1-38v28m1-17v31m1-29v31m1-36v31m1-41v33m1-25v31m1-29v29m1-32v30m1-2v27m1-39v30m1-45v28m1-19v30m1-20v28m1-28v28m1-39v28m1-56v34m1-33v34m1-27v32m1-56v43m1-77v59m1-72v64m1-42v57m1-5v32m1-12v32m1-27v30m1-47v30m1-21v28m1-14v27m1-12v25m1-37v26m1-25v26m1-22v26m1-29v26m1-17v24m1-18v22m1-21v22m1-29v24m1-32v26m1-34v27m1-35v27m1-7v25m1-18v23m1-31v25m1-21v24m1-27v25m1-25v25m1-14v23m1-29v23m1-29v24m1-26v24m1-17v24m1-30v25m1-29v26m1-9v22m1-43v29m1-28v28m1-7v22m1-35v26m1-39v29m1-34v30m1-17v28m1-29v28m1-27v28m1-21v25m1 2v22m1-33v22m1-43v27m1-11v21m1-34v26m1-27v28m1-13v24m1-11v23m1-31v23m1-33v24m1-11v24m1-31v23m1-23v22m1-14v20m1-20v18m1-8v18m1-8v18m1-15v19m1-27v18m1-12v18m1 2v20m1-41v19m1-28v20m1-24v20m1-23v20m1-18v21m1-27v21m1-40v26m1-11v22m1-18v22m1-21v22m1-18v21m1-24v22m1-15v22m1-7v22m1-29v24m1-41v24m1-36v25m1-9v22m1-26v23m1-26v23m1-21v23m1-8v23m1-25v23m1-29v22m1-25v22m1-24v23m1-22v23m1-21v24m1-21v22m1-28v23m1-32v23m1-36v27m1-7v22m1-9v23m1-17v23m1-52v23m1-22v23m1-15v23m1-25v24m1-17v24m1-19v23m1-23v24m1-28v22m1-42v25m1-40v30m1-1v23m1-24v22m1-20v22m1-16v22m1-21v21m1-18v21m1-13v20m1-6v22m1-33v21m1-29v20m1-23v20m1-21v20m1-21v20m1-21v21m1-20v21m1-19v21m1-22v20m1-26v20m1-27v21m1-21v21m1-16v21m1-10v21m1-20v21m1-27v20m1-32v21m1-15v20m1-15v22m1-23v22m1-44v25m1-15v22m1-17v21m1-21v21m1-23v22m1-24v22m1-20v21m1-11v20m1-24v20m1-19v20m1-14v20m1-24v21m1-28v22m1-31v22m1-42v30m1-8v22m1-15v23m1-24v22m1-11v21m1-20v22m1-27v22m1-30v21m1-13v22m1-12v21m1-14v19m1-34v21m1-20v21m1-17v21m1-23v21m1-8v21m1-20v21m1-35v22m1-27v21m1-25v22m1-22v23m1-13v22m1-21v21m1-24v21m1-24v22m1-17v21m1-18v21m1-19v21m1-24v23m1-25v22m1-18v21m1-14v21m1-32v20m1-10v20m1-10v21m1-37v20m1-17v22m1-17v22m1-19v20m1-35v22m1-20v22m1-18v22m1-29v23m1-27v22m1-22v22m1-19v22m1-28v22m1-19v23m1-15v22m1-18v22m1-30v23m1-27v23m1-22v23m1-29v24m1-19v24m1-20v24m1-29v23m1-19v23m1-24v24m1-30v23m1-36v24m1-18v23m1-21v23m1-54v32m1-1v22m1-10v23m1-24v26m1-8v25m1-34v23m1-35v23m1-15v24m1-35v23m1-26v23m1-16v23m1-23v23m1-21v23m1-23v24m1-28v24m1-16v23m1-10v24m1-10v28m1-57v23m1-33v24m1-24v24m1-22v24m1-17v24m1-15v24m1-15v25m1-37v23m1-21v23m1-26v24m1-60v28m1-19v27m1-21v26m1-26v24m1-17v25m1-17v26m1-19v25m1-25v27m1-32v26m1-31v25m1-29v25m1-20v25m1-27v25m1-26v26m1-14v27m1-52v27m1-35v28m1-12v24m1-21v24m1-14v25m1-20v27m1-41v26m1-18v26m1-16v25m1-20v25m1-30v24m1-26v25m1-24v25m1-21v25m1-42v27m1-36v26m1-22v23m1-11v26m1-25v26m1-29v25m1-25v25m1-32v26m1-41v27m1-45v29m1 1v26m1-21v27m1-27v27m1-23v26m1-29v27m1-38v28m1-40v27m1 1v26m1-23v27m1-31v28m1-23v24m1-24v26m1-21v27m1-19v30m1-35v27m1-26v28m1-30v28m1-43v26m1-23v27m1-22v26m1-23v27m1-24v28m1-25v28m1-30v28m1-41v27m1-23v29m1-23v29m1-24v28m1-24v27m1-41v27m1-38v28m1-7v29m1-6v27m1-24v27m1-39v29m1-19v27m1-37v28m1-40v28m1-25v27m1-22v26m1-26v25m1-32v27m1-36v28m1-10v27m1-19v27m1-67v28m1-17v30m1-23v30m1-30v30m1 1v25m1-35v27m1-44v28m1-21v28m1-10v24m1-23v24m1-40v27m1-33v29m1-28v28m1-33v30m1-53v31m1-16v31m1-28v31m1-39v30m1-18v29m1-40v32m1-37v34m1 0v32m1-20v26m1-29v25m1-37v29m1-8v26m1-41v26m1-48v31m1-23v33m1-13v27m1-25v26m1-39v29m1-39v28m1-20v26m1-19v24m1-39v28m1-23v27m1-20v26m1-23v27m1-55v32m1-38v31m1-26v29m1-20v28m1-36v35m1-73v44m1-107v52m1 13v37m1-11v33m1-22v29m1-33v30m1-22v28m1-32v27m1-40v26m1-7v27m1-21v28m1-23v26m1-14v27m1-25v27m1-31v26m1-36v28m1-28v28m1-28v25m1-27v24m1-31v26m1-39v26m1-22v25m1-8v26m1-33v25m1-25v25m1-25v25m1-26v25m1-11v22m1-18v23m1-29v24m1-33v25m1-20v25m1-19v26m1-29v26m1-29v24m1-31v25m1-32v25m1-15v24m1-23v25m1-30v26m1-38v25m1-9v24m1-12v23m1-20v26m1-23v26m1-30v25m1-30v24m1-27v25m1-33v25m1-26v26m1-17v27m1-14v28m1-24v28m1-31v27m1-35v22m1-12v25m1-33v25m1-51v25m1-5v28m1-26v26m1-30v24m1-24v23m1-22v25m1-17v25m1-15v26m1-46v24m1-26v26m1-19v29m1-15v28m1-40v28m1-35v27m1-26v25m1-23v26m1-37v26m1-32v26m1-7v29m1-45v25m1-25v25m1-9v24m1-39v25m1-24v25m1-16v26m1-12v26m1-32v25m1-17v24m1-6v28m1-44v27m1-24v27m1-25v25m1-49v24m1-12v23m1-10v23m1-13v27m1-18v37m1-51v27m1-43v25m1-21v22m1-24v24m1-19v26m1-15v27m1-33v26m1-42v26m1-36v24m1-17v23m1-15v26m1-16v28m1-18v27m1-36v24m1-36v23m1-31v24m1-11v24m1-15v27m1-27v27m1-34v25m1-20v26m1-33v25m1-32v25m1-15v23m1-19v25m1-22v26m1-26v25m1-49v26m1-19v24m1-14v24m1-27v23m1-12v27m1-25v29m1-39v27m1-26v27m1-26v26m1-24v27m1-20v26m1-32v25m1-33v27m1-32v27m1-20v26m1-34v25m1-32v25m1-13v24m1-22v24m1-19v25m1-18v30m1-31v28m1-27v28m1-24v29m1-24v32m1-26v42m1-43v42m1-50v37m1-37v33m1-49v26m1-40v29m1-10v27m1-27v27m1-32v27m1-31v26m1-14v29m1-30v32m1-35v32m1-31v31m1-31v28m1-39v27m1-43v24m1-6v30m1-26v29m1-35v30m1-36v28m1-35v26m1-15v27m1-1v52m1-75v28m1-22v30m1-21v34m1-51v27m1-18v33m1-33v33m1-43v27m1 3v47m1-53v36m1-54v30m1-37v35m1-28v30m1-20v32m1-25v43m1-79v25m1-20v27m1-7v29m1-16v39m1-56v30m1-38v31m1-28v35m1-26v31m1-29v28m1-26v29m1-19v34m1-43v31m1-35v29m1-30v29m1-45v27m1-15v30m1-16v33m1-46v28m1-33v28m1-36v29m1-35v27m1-16v31m1-24v31m1-29v33m1-37v36m1-49v29m1-34v29m1-23v30m1-22v31m1-17v35m1-33v39m1-64v33m1-27v33m1-26v32m1-29v30m1-28v27m1-41v28m1-34v27m1 0v42m1-43v39m1-41v39m1-40v44m1-53v37m1-48v30m1-38v29m1-31v30m1-21v35m1-34v33m1-38v29m1-15v31m1-31v33m1-35v33m1-24v30m1-37v28m1-30v28m1-23v30m1-21v34m1-40v32m1-39v32m1-24v35m1-42v30m1-29v29m1-21v33m1-39v34m1-34v33m1-29v34m1-28v41m1-50v33m1-37v32m1-28v32m1-34v32m1-35v31m1-31v31m1-24v37m1-54v35m1-41v31m1-31v28m1-52v25m1-16v25m1-10v30m1-31v28m1-45v24m1-19v24m1 0v40m1-42v32m1-33v30m1-36v34m1-45v32m1-45v26m1-25v26m1-12v30m1-31v33m1-40v29m1-32v26m1-14v32m1-34v29m1-22v28m1-13v31m1-40v27m1-23v27m1-21v29m1-31v29m1-39v27m1-24v29m1-12v32m1-45v30m1-28v29m1-24v29m1-36v31m1-35v25m1-28v23m1-25v23m1-30v25m1-13v28m1-20v30m1-52v25m1-22v26m1-20v27m1-21v28m1-15v31m1-34v28m1-37v28m1-29v25m1-10v28m1-26v29m1-44v33m1-32v30m1-33v29m1-31v29m1-24v30m1-28v30m1-24v31m1-21v47m1-67v29m1-30v25m1-25v25m1-36v25m1-23v24m1-24v25m1-23v25m1 1v30m1-11v43m1-42v39m1-71v29m1-20v30m1-31v29m1-44v29m1-33v27m1-28v28m1-38v29m1-62v27m1-4v29m1-17v33m1-40v31m1-35v31m1-33v30m1-30v30m1-29v31m1-39v34m1-46v33m1-43v31m1-11v35m1-46v37m1-54v38m1-27v38m1-70v40m1-77v47m1-79v53m1-37v49m1-43v45m1-55v49m1-82v58m1-52v63m1-75v60m1-86v50m1 5v54m1-43v47m1-61v54m1-72v59m1-45v54m1-31v43m1-12v25m1-82v61m1-72v62m1-68v58m1-82v53m1-43v56m1-50v55m1-58v54m1-67v57m1-67v57m1-49v55m1-11v56m1-109v36m1-36v5m1-5v21m1-21v34m1-34v30m1-30v18m1-18v5m1-5v22m1-22v34m1-34v39m1-34v66m1-71v8m6-8v18m1-18v23m1-23v32m1-11v63m1-84v57m1-51v59m1-19v66m1-67v67m1-73v66m1-67v59m1-44v59m1-48v54m1-45v49m1-56v53m1-119v52m1-23v78m1 2v24m1-21v25m1-26v24m1-24v25m1-21v26m1-17v24m1-17v22m1-22v23m1-33v23m1-15v23m1-22v23m1-30v24m1-12v22m1-11v24m1-18v25m1-32v24m1-28v24"/>
<path stroke="#7FFF7F" d="M0.5 137v28m1-31v30m1-28v29m1-17v25m1-10v20m1-16v20m1-29v23m1-28v25m1-21v22m1-16v21m1-26v22m1-26v24m1-11v21m1-25v21m1-22v22m1-18v23m1-28v22m1-14v22m1-16v23m1-36v23m1-26v23m1-32v26m1-36v27m1-13v25m1-23v24m1-29v25m1-33v28m1-22v26m1-26v26m1-28v27m1-2v22m1-31v21m1-38v26m1-15v25m1-17v26m1-26v27m1-38v28m1-50v32m1-31v32m1-27v30m1-43v32m1-50v33m1-41v36m1-21v30m1-3v32m1-12v27m1-24v26m1-43v27m1-20v26m1-13v24m1-11v22m1-33v23m1-22v24m1-20v24m1-27v22m1-15v22m1-18v22m1-21v22m1-27v22m1-28v21m1-28v21m1-29v25m1-7v23m1-18v22m1-28v21m1-18v22m1-24v23m1-23v23m1-14v23m1-29v20m1-25v20m1-22v22m1-15v21m1-26v21m1-24v21m1-8v22m1-36v21m1-21v21m1-6v21m1-30v24m1-34v23m1-27v23m1-12v22m1-23v24m1-23v22m1-18v22m1 2v22m1-33v22m1-38v22m1-12v20m1-28v21m1-20v22m1-11v24m1-12v23m1-31v23m1-32v23m1-10v23m1-31v23m1-24v21m1-15v20m1-22v19m1-9v19m1-9v23m1-19v21m1-30v20m1-14v23m1-1v23m1-45v21m1-29v20m1-24v21m1-24v21m1-18v22m1-28v21m1-35v22m1-11v23m1-19v23m1-22v23m1-20v23m1-25v23m1-16v25m1-10v28m1-33v27m1-44v25m1-36v24m1-11v24m1-27v23m1-26v24m1-22v25m1-10v26m1-28v25m1-32v23m1-26v23m1-24v23m1-22v24m1-21v24m1-23v24m1-29v22m1-31v23m1-32v22m1-7v22m1-8v24m1-18v20m1-49v23m1-22v22m1-14v24m1-25v23m1-16v24m1-20v25m1-24v24m1-30v23m1-40v22m1-32v23m1-1v22m1-24v22m1-20v21m1-15v22m1-22v21m1-18v23m1-16v27m1-11v25m1-37v22m1-31v22m1-25v21m1-22v21m1-22v22m1-22v22m1-21v21m1-19v23m1-25v24m1-30v20m1-26v21m1-21v21m1-16v21m1-10v24m1-23v25m1-32v22m1-33v20m1-15v21m1-14v22m1-23v22m1-41v22m1-15v22m1-18v22m1-22v22m1-23v22m1-24v21m1-20v20m1-11v20m1-24v20m1-19v20m1-14v22m1-25v21m1-27v21m1-30v22m1-34v21m1-7v22m1-14v22m1-24v23m1-13v23m1-21v23m1-28v23m1-32v22m1-13v22m1-13v23m1-18v25m1-38v23m1-22v22m1-18v23m1-25v21m1-8v25m1-24v25m1-38v23m1-29v22m1-25v22m1-21v22m1-13v24m1-24v22m1-25v23m1-25v22m1-18v23m1-20v24m1-22v24m1-25v23m1-26v24m1-21v27m1-20v30m1-42v22m1-12v25m1-14v25m1-42v23m1-18v24m1-19v26m1-25v30m1-43v23m1-21v22m1-18v23m1-29v23m1-28v23m1-23v23m1-20v23m1-29v23m1-19v22m1-15v22m1-18v23m1-30v23m1-27v24m1-23v25m1-30v24m1-19v24m1-20v25m1-31v24m1-20v25m1-25v27m1-34v25m1-37v23m1-18v23m1-21v23m1-45v23m1-2v23m1-10v25m1-23v25m1-8v27m1-38v29m1-41v25m1-16v24m1-36v23m1-26v22m1-15v25m1-25v24m1-22v25m1-24v26m1-30v25m1-18v26m1-12v28m1-10v28m1-62v27m1-36v23m1-23v24m1-22v25m1-18v24m1-15v25m1-15v27m1-41v25m1-23v26m1-28v26m1-58v25m1-17v26m1-21v25m1-27v24m1-16v26m1-17v26m1-20v27m1-25v25m1-31v27m1-33v27m1-31v27m1-22v26m1-28v26m1-26v27m1-14v30m1-55v27m1-34v26m1-14v23m1-20v24m1-13v26m1-19v25m1-40v26m1-18v28m1-19v30m1-25v30m1-36v29m1-30v29m1-28v31m1-27v34m1-49v27m1-37v27m1-26v26m1-11v32m1-31v30m1-34v28m1-28v27m1-33v27m1-41v26m1-42v26m1 1v27m1-21v29m1-29v28m1-25v30m1-32v30m1-40v28m1-41v27m1 0v30m1-26v29m1-32v27m1-26v31m1-29v28m1-22v28m1-17v27m1-35v29m1-27v27m1-29v25m1-42v25m1-21v27m1-23v30m1-26v31m1-27v27m1-24v25m1-27v26m1-40v32m1-26v29m1-23v27m1-23v27m1-24v26m1-40v27m1-37v28m1-6v26m1-5v31m1-28v34m1-44v28m1-20v29m1-38v27m1-39v27m1-25v27m1-23v27m1-28v28m1-33v26m1-34v26m1-9v24m1-16v26m1-65v27m1-14v26m1-19v25m1-25v23m1 3v33m1-41v28m1-44v26m1-19v26m1-12v31m1-30v32m1-45v31m1-35v28m1-28v27m1-30v26m1-48v34m1-19v30m1-27v28m1-37v29m1-18v27m1-35v26m1-29v28m1 4v32m1-26v35m1-39v30m1-38v24m1-6v39m1-54v28m1-45v24m1-14v26m1-12v28m1-27v29m1-39v25m1-36v26m1-20v26m1-21v30m1-41v28m1-24v27m1-21v30m1-26v33m1-56v26m1-33v27m1-24v27m1-19v26m1-27v29m1-58v41m1-96v50m1 0v35m1-13v24m1-17v21m1-24v24m1-18v24m1-29v26m1-40v28m1-8v27m1-20v28m1-25v33m1-20v37m1-35v45m1-50v36m1-44v30m1-30v24m1-27v29m1-32v34m1-39v28m1-41v26m1-23v27m1-9v27m1-35v27m1-27v27m1-27v28m1-29v26m1-15v33m1-28v31m1-36v27m1-35v28m1-23v28m1-21v30m1-33v29m1-34v27m1-33v26m1-33v26m1-17v27m1-25v26m1-30v25m1-38v26m1-11v26m1-15v32m1-26v35m1-32v42m1-47v31m1-37v27m1-29v30m1-38v25m1-25v25m1-15v29m1-15v43m1-39v40m1-44v30m1-43v30m1-17v31m1-39v30m1-56v28m1-5v28m1-28v30m1-36v28m1-29v34m1-31v31m1-23v34m1-23v44m1-66v27m1-27v25m1-15v28m1-15v45m1-57v34m1-42v29m1-30v28m1-25v32m1-43v28m1-34v27m1-5v29m1-49v27m1-27v24m1-9v23m1-37v26m1-25v27m1-17v28m1-14v29m1-36v27m1-20v31m1-9v40m1-57v36m1-33v41m1-41v39m1-64v25m1-14v28m1-15v36m1-22v43m1-24v33m1-57v40m1-58v36m1-35v32m1-32v33m1-26v37m1-25v38m1-45v41m1-57v31m1-43v27m1-21v28m1-17v33m1-21v44m1-35v42m1-54v39m1-52v30m1-37v28m1-15v32m1-20v33m1-33v30m1-39v27m1-21v34m1-42v29m1-36v26m1-18v30m1-24v31m1-27v34m1-35v43m1-66v27m1-22v30m1-20v37m1-41v34m1-19v44m1-40v44m1-56v43m1-42v40m1-40v38m1-35v36m1-30v40m1-47v40m1-46v35m1-40v30m1-24v39m1-48v32m1-39v30m1-19v34m1-32v36m1-30v48m1-36v44m1-47v46m1-45v43m1-38v42m1-34v52m1-36v53m1-54v56m1-69v60m1-64v59m1-82v38m1-49v28m1-11v55m1-55v59m1-64v54m1-59v50m1-35v52m1-50v55m1-58v63m1-63v62m1-65v61m1-73v43m1-62v32m1-8v45m1-42v60m1-65v60m1-68v52m1-61v37m1-25v51m1 0v55m1-102v53m1-45v60m1-47v64m1-88v40m1-25v68m1-68v65m1-81v50m1 0v64m1-81v69m1-93v54m1-56v44m1-42v60m1-48v71m1-53v65m1-119v32m1-25v34m1-12v63m1-40v66m1-92v67m1-74v51m1-44v67m1-62v69m1-70v66m1-63v65m1-50v71m1-83v69m1-75v66m1-67v63m1-81v35m1-20v63m1-46v70m1-88v56m1-61v56m1-63v48m1-56v41m1-26v66m1-59v72m1-68v72m1-73v65m1-85v46m1-51v38m1-31v64m1-55v62m1-44v69m1-63v69m1-100v42m1-36v57m1-51v65m1-64v63m1-64v70m1-83v37m1-44v38m1 4v60m1-64v68m1-70v72m1-68v71m1-87v72m1-90v56m1-65v44m1-45v43m1-29v55m1-56v56m1-65v39m1-23v67m1-65v68m1-70v60m1-54v75m1-84v62m1-64v56m1-49v58m1-45v68m1-76v69m1-76v59m1-48v65m1-77v49m1-49v48m1-36v62m1-67v55m1-56v57m1-52v61m1-48v65m1-82v61m1-66v58m1-54v69m1-71v65m1-69v60m1-60v63m1-50v66m1-85v60m1-70v44m1-47v46m1-73v29m1-20v33m1-13v43m1-46v37m1-58v35m1-30v41m1-1v79m1-89v65m1-68v60m1-62v45m1-58v36m1-55v36m1-35v34m1-16v40m1-38v43m1-54v43m1-49v42m1-24v40m1-45v45m1-39v52m1-34v57m1-70v49m1-45v50m1-42v59m1-61v62m1-74v37m1-32v40m1-20v73m1-88v42m1-41v47m1-42v51m1-56v48m1-58v35m1-40v29m1-31v26m1-31v27m1-12v37m1-27v48m1-75v30m1-26v33m1-26v40m1-33v58m1-42v67m1-73v63m1-72v55m1-59v48m1-30v57m1-54v59m1-70v57m1-59v43m1-47v35m1-37v33m1-27v34m1-32v43m1-36v68m1-42v58m1-96v65m1-70v38m1-38v33m1-44v29m1-28v29m1-28v32m1-30v37m1-6v64m1-32v51m1-54v54m1-96v44m1-34v59m1-61v63m1-78v37m1-43v36m1-36v37m1-46v33m1-68v29m1-4v34m1-18v36m1-45v33m1-37v27m1-30v31m1-31v37m1-35v34m1-39v33m1-46v34m1-46v31m1-7v36m1-45v37m1-53v39m1-28v34m1-64v36m1-66v39m1-65v49m1-37v39m1-37v35m1-41v32m1-56v37m1-26v33m1-48v40m1-76v59m1 0v28m1-24v28m1-35v27m1-40v32m1-23v27m1-15v26m1-13v25m1-46v27m1-37v30m1-40v35m1-64v52m1-39v42m1-37v39m1-43v41m1-51v46m1-56v51m1-45v47m1-2v23m1-96v54m1-85v51m1-35v54m1-41v61m1-65v59m1-71v58m1-71v65m1-48v65m1-53v65m1-60v67m1-35v49m1-112v70m3-78v44m1-44v65m1-65v45m1-27v62m1-57v64m1-55v68m1-16v38m1-65v56m1-48v52m1-5v21m1-21v21m1-28v24m1-32v31m1-16v24m1-18v23m1-19v23m1-26v26m1-93v63m1-8v25m1 1v24m1-20v24m1-26v25m1-24v25m1-20v25m1-18v24m1-19v24m1-23v23m1-33v23m1-15v24m1-23v24m1-30v24m1-14v26m1-13v26m1-19v25m1-33v26m1-30v26"/>
<path stroke="#B2FF4C" d="M0.5 165v22m1-23v21m1-20v21m1-13v21m1-11v20m1-16v20m1-26v22m1-25v22m1-21v21m1-16v22m1-26v22m1-24v21m1-11v21m1-25v21m1-21v21m1-16v22m1-28v22m1-14v22m1-15v24m1-37v23m1-26v22m1-28v22m1-31v24m1-12v23m1-22v22m1-26v22m1-27v22m1-18v23m1-23v24m1-25v24m1-4v21m1-31v22m1-34v22m1-12v24m1-15v26m1-25v27m1-37v27m1-45v26m1-25v26m1-23v27m1-38v30m1-47v32m1-37v32m1-23v32m1-3v29m1-14v27m1-25v25m1-41v24m1-18v24m1-13v24m1-13v25m1-35v23m1-21v24m1-20v23m1-28v23m1-16v25m1-21v29m1-28v27m1-32v26m1-33v22m1-29v22m1-26v23m1-7v23m1-19v23m1-30v21m1-17v24m1-25v25m1-25v25m1-16v27m1-36v23m1-28v21m1-21v22m1-16v24m1-29v21m1-24v21m1-7v26m1-41v22m1-22v21m1-6v25m1-31v25m1-36v23m1-27v21m1-11v23m1-22v23m1-24v24m1-20v22m1 2v30m1-41v25m1-41v23m1-15v24m1-31v22m1-20v23m1-10v27m1-16v25m1-33v21m1-30v23m1-10v22m1-30v21m1-24v21m1-16v20m1-23v21m1-11v23m1-9v24m1-22v23m1-33v23m1-14v22m1 0v38m1-62v22m1-31v23m1-26v25m1-28v28m1-24v27m1-34v26m1-39v22m1-10v26m1-22v25m1-24v25m1-22v28m1-30v27m1-18v27m1-9v37m1-43v34m1-53v27m1-39v25m1-12v29m1-33v32m1-34v32m1-29v31m1-15v31m1-34v28m1-37v28m1-31v27m1-28v27m1-25v27m1-24v27m1-26v28m1-35v28m1-36v24m1-34v23m1-8v29m1-13v31m1-29v34m1-60v24m1-24v27m1-17v29m1-31v27m1-19v27m1-22v26m1-26v26m1-33v26m1-44v25m1-34v23m1-2v25m1-27v28m1-27v28m1-21v25m1-26v26m1-21v27m1-16v27m1-13v30m1-45v27m1-36v24m1-28v23m1-24v27m1-27v26m1-26v25m1-25v25m1-21v27m1-28v28m1-38v31m1-36v26m1-26v24m1-19v26m1-12v31m1-29v28m1-38v28m1-41v25m1-19v30m1-22v30m1-31v29m1-48v24m1-17v24m1-20v24m1-24v25m1-26v29m1-32v28m1-28v26m1-17v25m1-29v27m1-26v28m1-20v28m1-32v28m1-34v27m1-35v25m1-38v22m1-7v24m1-16v25m1-26v25m1-15v26m1-24v25m1-30v25m1-35v25m1-16v25m1-15v26m1-19v25m1-40v26m1-26v26m1-21v23m1-27v24m1-7v24m1-23v26m1-41v25m1-32v26m1-29v26m1-25v27m1-16v28m1-30v27m1-29v26m1-29v29m1-24v26m1-22v27m1-25v27m1-29v26m1-28v26m1-20v25m1-15v28m1-48v30m1-17v29m1-18v30m1-49v25m1-19v25m1-18v30m1-25v31m1-51v25m1-24v25m1-20v27m1-33v26m1-31v25m1-25v25m1-22v27m1-33v24m1-21v25m1-18v26m1-21v28m1-35v27m1-30v27m1-25v28m1-34v28m1-23v29m1-24v29m1-36v26m1-21v29m1-27v31m1-40v33m1-47v26m1-21v26m1-24v28m1-50v23m1-2v28m1-13v28m1-26v26m1-7v35m1-44v28m1-44v28m1-20v27m1-40v26m1-30v27m1-17v26m1-27v29m1-26v28m1-26v26m1-31v29m1-21v29m1-13v29m1-11v38m1-73v29m1-42v28m1-27v25m1-22v29m1-23v25m1-15v23m1-11v29m1-45v26m1-23v28m1-30v30m1-63v26m1-17v28m1-24v29m1-32v30m1-20v28m1-19v28m1-21v35m1-35v32m1-36v28m1-34v29m1-33v31m1-27v27m1-29v27m1-26v28m1-12v34m1-62v29m1-37v27m1-18v31m1-27v28m1-15v26m1-20v29m1-43v26m1-16v29m1-18v30m1-25v29m1-36v27m1-28v28m1-25v30m1-23v46m1-68v36m1-46v33m1-33v37m1-16v36m1-37v34m1-40v30m1-31v35m1-41v32m1-47v30m1-46v27m1 1v34m1-26v32m1-33v28m1-23v27m1-29v26m1-38v28m1-42v27m1 3v29m1-26v30m1-35v31m1-26v36m1-37v33m1-27v32m1-22v44m1-50v39m1-39v37m1-41v33m1-50v25m1-19v27m1-20v31m1-26v32m1-32v33m1-32v32m1-33v30m1-38v28m1-25v30m1-26v32m1-28v31m1-29v37m1-50v26m1-35v25m1-5v36m1-10v45m1-39v44m1-60v44m1-35v45m1-56v49m1-61v46m1-44v34m1-30v45m1-45v42m1-49v31m1-39v31m1-16v46m1-36v52m1-90v28m1-16v32m1-26v34m1-36v32m1 4v50m1-63v53m1-71v34m1-27v39m1-20v46m1-44v47m1-61v42m1-49v41m1-42v40m1-44v38m1-52v29m1-18v31m1-30v34m1-42v30m1-21v44m1-53v36m1-37v34m1 2v52m1-43v44m1-53v45m1-59v39m1-6v41m1-67v44m1-65v35m1-23v37m1-21v46m1-44v48m1-62v48m1-58v35m1-29v44m1-35v48m1-61v43m1-40v46m1-37v47m1-40v51m1-81v30m1-36v27m1-24v30m1-23v45m1-43v72m1-89v44m1-90v45m1-10v30m1-19v36m1-32v34m1-34v31m1-25v35m1-38v32m1-44v26m1-7v50m1-42v54m1-46v49m1-32v54m1-44v58m1-72v55m1-69v49m1-55v50m1-48v49m1-47v49m1-60v56m1-71v35m1-31v36m1-18v54m1-62v55m1-55v53m1-52v51m1-54v43m1-25v51m1-48v49m1-58v47m1-54v46m1-41v49m1-40v47m1-51v48m1-55v49m1-56v41m1-48v34m1-24v51m1-50v47m1-52v36m1-48v32m1-17v47m1-30v48m1-39v48m1-38v43m1-59v49m1-59v48m1-47v49m1-62v41m1-41v43m1-29v48m1-20v46m1-45v40m1-54v42m1-55v44m1-30v48m1-57v45m1-73v29m1-6v47m1-45v45m1-53v44m1-39v43m1-43v47m1-36v45m1-24v39m1-78v49m1-51v49m1-36v47m1-17v50m1-73v44m1-57v48m1-50v52m1-45v47m1-62v42m1-49v34m1-10v44m1-66v38m1-41v35m1-21v48m1-59v39m1-37v37m1-26v39m1-24v38m1-47v39m1-28v35m1-4v32m1-53v33m1-25v30m1-32v30m1-69v34m1-20v35m1-14v32m1-11v41m1-32v50m1-67v32m1-54v31m1-34v37m1-36v39m1-28v33m1-20v31m1-35v33m1-59v38m1-54v37m1-30v44m1-28v39m1-16v36m1-29v35m1-50v35m1-57v39m1-48v39m1-22v36m1-23v27m1-30v28m1-40v35m1-22v34m1-47v36m1-46v35m1-23v31m1-24v30m1-23v28m1-20v21m1-60v43m1-35v42m1-25v37m1-44v38m1-13v36m1-32v35m1-48v33m1-35v31m1-33v33m1-32v35m1-25v34m1-41v35m1-46v38m1-48v43m1-28v36m1-52v43m1-52v46m1-31v41m1-37v44m1-26v33m1-25v34m1-35v34m1-36v38m1-34v45m1-27v45m1-28v41m1-39v44m1-53v47m1-52v48m1-92v58m1-79v56m1-12v46m1-42v44m1-54v52m1-61v59m1-42v50m1-45v49m1-44v45m1-46v43m1-47v43m1-73v63m1-93v75m1-38v61m1-43v49m1-54v50m1-66v52m1-76v64m1-38v58m1-3v49m1-98v64m1-49v55m1-38v43m1-91v68m1-25v42m1-45v41m1-72v54m1 10v45m1-57v48m1-87v54m1-66v56m1-38v51m1-28v45m1-33v42m1-129v69m1-60v69m1-18v48m1-22v46m1-71v44m1-67v59m1-36v41m1-34v46m1-50v48m1-46v47m1-26v45m1-59v43m1-52v41m1-45v40m1-86v68m1-25v45m1-21v55m1-87v51m1-56v53m1-68v61m1-76v67m1-27v45m1-32v48m1-44v56m1-64v49m1-88v68m1-81v77m1-44v53m1-46v52m1-27v47m1-41v49m1-107v63m1-42v54m1-40v48m1-49v51m1-45v47m1-93v69m1-75v66m1-2v49m1-45v51m1-49v52m1-49v51m1-66v47m1-81v61m1-82v70m1-72v66m1-40v56m1-56v55m1-81v71m1-27v47m1-44v43m1-53v50m1-29v52m1-74v50m1-58v54m1-45v55m1-32v55m1-62v52m1-69v53m1-36v46m1-74v60m1-61v62m1-36v50m1-62v55m1-54v52m1-43v47m1-30v48m1-69v47m1-55v54m1-39v56m1-62v51m1-60v55m1-52v54m1-38v51m1-76v58m1-84v76m1-77v71m1-115v53m1-40v77m1-47v81m1-90v80m1-103v61m1-50v71m1 7v57m1-81v67m1-75v78m1-95v95m1-117v81m1-100v47m1-48v54m1-30v91m1-86v78m1-89v77m1-84v80m1-64v82m1-82v77m1-64v66m1-43v49m1-70v56m1-51v53m1-36v46m1-45v45m1-82v62m1-54v59m1-6v41m1-87v61m1-55v54m1-45v51m1-59v52m1-75v60m1-71v63m1-68v69m1-73v59m1-34v62m1-41v54m1-99v51m1-44v68m1-54v64m1-39v52m1-27v36m1-46v39m1-56v47m1-58v51m1-24v46m1-41v49m1-62v49m1-65v62m1-74v65m1-69v64m1-57v62m1-51v59m1-27v47m1-31v44m1-75v44m1-76v65m1-70v64m1-79v57m1-56v65m1-61v65m1-58v60m1-2v48m1-29v216m0 1v17m1-234v190m0 7v17m0 6v12m1-284v53m1-28v48m1-46v49m1-90v66m1-73v65m1-64v64m1-77v66m1-105v32m1-2v64m1-46v77m1-89v82m1-92v55m1-54v54m1-48v62m1-63v66m1-72v61m1-73v41m1-56v43m1-14v63m1-71v52m1-66v38m1-32v44m1-72v40m1-67v34m1-50v31m1-29v30m1-32v28m1-37v28m1-47v32m1-25v31m1-39v31m1-48v29m1-1v29m1-25v28m1-36v27m1-35v28m1-24v28m1-17v28m1-16v30m1-49v28m1-35v27m1-32v27m1-39v25m1-22v26m1-24v25m1-27v23m1-28v24m1-29v24m1-22v24m1-3v23m0 395v61m1-521v34m1-68v53m1-34v42m1-22v32m1-38v36m1-49v44m1-50v48m1-31v38m1-26v31m1-24v27m0 434v35m1-482v28m0 402v59m1-531v45m1-123v71m1-71v55m1-11v63m1-42v49m1-69v64m1-29v42m1-35v38m1-25v29m1-7v24m0 417v38m1-488v23m1-19v22m1-6v20m0 414v30m1-464v20m0 411v42m1-477v22m1-23v24m1-16v24m1-19v23m1-19v25m1-25v28m0 398v25m1-481v25m1-8v23m1 2v28m0 383v37m1-444v26m1-27v25m1-24v25m1-20v25m1-19v24m1-19v24m1-24v24m1-34v23m1-14v24m1-23v25m1-31v25m1-13v28m1-15v25m1-19v22m1-29v24m1-28v26"/>
<path stroke="#E5FF19" d="M0.5 187v21m1-23v20m1-19v21m1-13v21m1-12v30m1-26v33m1-37v29m1-32v26m1-26v24m1-18v29m1-33v28m1-31v26m1-16v37m1-41v35m1-35v33m1-27v31m1-37v30m1-22v36m1-27v37m1-51v27m1-31v28m1-34v27m1-34v24m1-13v30m1-30v28m1-32v24m1-29v22m1-17v25m1-24v26m1-27v25m1-8v43m1-52v28m1-40v22m1-10v29m1-18v40m1-38v37m1-47v27m1-46v26m1-25v27m1-23v32m1-40v30m1-45v30m1-35v31m1-22v34m1-8v34m1-21v50m1-50v48m1-65v30m1-24v28m1-17v29m1-17v32m1-44v29m1-26v26m1-23v26m1-31v26m1-17v35m1-27v33m1-34v30m1-36v33m1-44v32m1-39v25m1-28v25m1-9v31m1-27v34m1-43v29m1-22v33m1-33v33m1-33v34m1-23v37m1-50v39m1-46v32m1-31v30m1-22v36m1-44v33m1-36v29m1-10v36m1-55v28m1-29v28m1-9v28m1-34v32m1-45v27m1-33v25m1-13v28m1-27v27m1-27v26m1-24v27m1 5v38m1-54v32m1-50v27m1-18v27m1-36v26m1-23v28m1-11v32m1-23v31m1-43v29m1-36v25m1-13v30m1-39v28m1-31v27m1-23v29m1-31v23m1-11v25m1-10v33m1-32v43m1-53v27m1-19v32m1 6v50m1-90v39m1-47v30m1-31v30m1-30v33m1-30v36m1-44v27m1-44v24m1-8v27m1-24v34m1-33v38m1-32v40m1-43v35m1-26v58m1-30v63m1-72v65m1-91v40m1-54v30m1-13v46m1-47v40m1-42v38m1-36v42m1-26v64m1-70v66m1-75v46m1-50v32m1-33v31m1-29v31m1-28v36m1-34v41m1-48v35m1-47v31m1-42v27m1-6v31m1-13v54m1-49v66m1-102v29m1-26v29m1-17v34m1-38v34m1-26v38m1-34v47m1-47v46m1-53v38m1-57v26m1-37v27m1-4v29m1-28v31m1-30v33m1-29v35m1-35v33m1-27v37m1-26v60m1-43v66m1-84v52m1-64v34m1-39v32m1-29v30m1-31v30m1-31v29m1-29v28m1-22v32m1-32v34m1-41v29m1-39v25m1-27v29m1-22v35m1-16v30m1-31v31m1-41v31m1-47v27m1-16v28m1-20v40m1-42v51m1-75v26m1-19v25m1-21v33m1-32v35m1-32v33m1-37v29m1-31v26m1-18v32m1-34v29m1-27v30m1-22v39m1-43v32m1-39v28m1-38v26m1-42v29m1-12v29m1-20v31m1-32v31m1-20v34m1-33v40m1-45v40m1-50v28m1-19v36m1-25v64m1-58v75m1-89v32m1-32v30m1-28v34m1-37v36m1-19v71m1-68v68m1-84v36m1-42v33m1-36v32m1-30v33m1-21v39m1-42v40m1-43v41m1-41v39m1-37v33m1-28v34m1-32v38m1-41v40m1-42v41m1-36v68m1-55v62m1-80v33m1-21v66m1-54v66m1-90v39m1-33v68m1-56v64m1-58v60m1-86v32m1-31v34m1-27v39m1-46v35m1-41v30m1-30v30m1-25v39m1-48v33m1-29v30m1-22v33m1-26v63m1-71v41m1-44v33m1-30v28m1-34v36m1-30v43m1-38v53m1-63v39m1-31v47m1-43v50m1-57v32m1-53v31m1-26v33m1-29v33m1-60v29m1-3v33m1-18v46m1-46v45m1-17v59m1-75v62m1-78v37m1-30v47m1-61v28m1-31v27m1-18v34m1-32v35m1-33v35m1-35v35m1-37v29m1-21v39m1-23v58m1-31v47m1-91v33m1-47v27m1-29v26m1-19v40m1-38v41m1-33v65m1-47v66m1-85v39m1-34v62m1-62v60m1-97v27m1-16v26m1-21v30m1-32v33m1-25v33m1-24v49m1-35v61m1-64v57m1-65v53m1-58v44m1-46v44m1-44v40m1-42v39m1-37v44m1-22v60m1-93v37m1-47v30m1-17v38m1-37v33m1-22v61m1-52v62m1-79v39m1-26v58m1-46v61m1-57v62m1-71v62m1-62v61m1-56v60m1-37v48m1-80v63m1-76v43m1-39v69m1-49v60m1-63v61m1-71v67m1-63v64m1-73v71m1-88v47m1-66v36m1-1v49m1-43v63m1-68v67m1-63v65m1-68v56m1-66v40m1-55v32m1 0v43m1-39v44m1-48v46m1-36v50m1-54v51m1-46v50m1-28v39m1-50v46m1-48v46m1-54v50m1-75v51m1-43v55m1-44v51m1-45v41m1-40v46m1-46v50m1-53v51m1-61v50m1-45v49m1-43v48m1-45v48m1-40v44m1-68v47m1-57v40m1-9v44m1-9v31m1-26v30m1-46v36m1-26v32m1-39v32m1-47v39m1-49v44m1-29v33m1-36v35m1-53v47m1-55v47m1-17v37m1-21v30m1-92v47m1-31v45m1-37v45m1-49v48m1 6v32m1-42v35m1-72v52m1-40v42m1-16v34m1-31v32m1-51v36m1-44v42m1-44v43m1-49v44m1-67v49m1-36v53m1-49v52m1-64v53m1-30v43m1-60v50m1-53v51m1 3v36m1-35v42m1-50v40m1-60v49m1-14v52m1-75v39m1-69v40m1-26v45m1-20v39m1-35v43m1-57v45m1-68v42m1-27v37m1-24v34m1-52v39m1-33v35m1-25v38m1-27v42m1-93v54m1-63v51m1-45v56m1-34v66m1-37v65m1-110v106m1-151v106m1-86v99m1-82v71m1-69v59m1-62v62m1-52v61m1-67v46m1-64v48m1-5v55m1-43v55m1-52v58m1-36v60m1-46v63m1-80v71m1-91v56m1-61v48m1-47v49m1-47v50m1-54v57m1-93v49m1-44v46m1-10v64m1-71v51m1-53v46m1-47v43m1-54v54m1-28v58m1-57v58m1-69v46m1-54v49m1-41v60m1-53v61m1-64v50m1-56v48m1-63v47m1-61v49m1-22v42m1-45v45m1-61v46m1-62v44m1-14v45m1-27v56m1-47v56m1-51v47m1-57v47m1-58v49m1-47v50m1-71v43m1-41v38m1-19v46m1-20v57m1-62v57m1-69v54m1-65v49m1-31v54m1-66v46m1-90v44m1-3v44m1-44v47m1-56v44m1-40v35m1-31v47m1-38v62m1-47v97m1-126v42m1-44v45m1-34v69m1-36v96m1-125v71m1-80v44m1-42v50m1-48v48m1-68v37m1-52v38m1-4v72m1-100v39m1-45v41m1-14v37m1-57v36m1-36v37m1-24v36m1-22v43m1-51v32m1-25v38m1-10v89m1-109v52m1-47v66m1-68v67m1-102v32m1-17v44m1-26v56m1-26v78m1-60v86m1-121v61m1-84v38m1-35v49m1-46v49m1-44v58m1-47v66m1-68v61m1-82v45m1-62v34m1-20v38m1-27v49m1-29v64m1-58v73m1-88v53m1-71v40m1-49v37m1-23v41m1-37v50m1-52v50m1-55v43m1-31v52m1-63v40m1-51v32m1-24v36m1-30v40m1-35v43m1-42v49m1-66v31m1-24v33m1-21v48m1-54v49m1-26v54m1-51v60m1-75v62m1-66v44m1-44v37m1-34v35m1-26v41m1-47v43m1-51v40m1-45v34m1-26v41m1-50v37m1-43v31m1-21v39m1-32v38m1-31v43m1-34v64m1-65v56m1-54v54m1-43v50m1-32v70m1-57v86m0 1v97m1-179v182m1-188v130m0 1v41m0 8v5m1-189v81m0 46v15m0 26v21m1-223v49m1-72v46m1-12v59m1-57v60m1-62v59m1-61v56m1-48v53m1-49v56m1-55v63m1-66v63m1-67v50m1-60v42m1-60v41m1-18v54m1-48v57m1-61v52m1-66v48m1-60v45m1-25v49m1-3v186m1-220v49m1-43v45m1-40v49m1-72v44m1-27v57m1-61v53m1-71v41m1 14v177m1-186v118m0 31v6m0 17v5m1-210v53m1-63v55m1-42v48m1-31v68m1-59v183m1-243v41m1-32v41m1-11v52m1-28v50m1-77v50m1-58v47m1-42v53m1-41v48m1-50v47m1-46v48m1-29v187m1-203v83m1-94v55m1-60v53m1-71v41m1-21v56m1-22v177m1-213v48m1-51v47m1-54v48m1-57v45m1-27v53m1-37v60m1-48v123m0 6v57m1-201v43m1-63v45m1-49v44m1-35v51m1-45v49m1-29v102m0 40v14m1-148v163m1-207v51m1-39v47m1-39v48m1-46v49m1-47v50m1-74v53m1-62v50m1-3v118m0 22v47m1-181v182m1-179v180m1-178v184m1-203v197m1-217v56m1-68v52m1-58v53m1-37v58m1-59v61m1-71v53m1-33v58m1-59v61m1-64v58m1-35v44m0 6v111m0 9v12m1-206v55m1-59v57m1-47v57m0 111v5m1-150v192m1-202v194m1-210v59m1-49v203m1-217v56m1-55v56m1-42v196m1-203v162m0 19v17m1-200v94m1-90v81m0 10v98m0 9v2m1-182v197m1-219v63m0 6v152m1-222v64m0 6v151m1-204v203m1-214v209m1-214v64m0 2v121m1-185v189m1-176v197m1-215v87m0 3v123m1-221v62m1-68v55m1-117v72m1-35v54m1-20v46m1-56v52m1-94v56m1-35v55m1 9v200m1-214v69m0 7v132m1-205v48m0 26v133m1-207v43m0 24v142m1-245v71m0 46v128m1-298v90m1-84v88m1-27v236m1-244v245m1-257v83m0 24v144m1-255v78m0 45v126m1-231v240m1-245v69m0 44v133m1-244v60m0 55v130m1-239v55m0 51v133m1-253v44m0 84v20m0 45v52m1-243v48m0 72v126m1-236v57m0 42v147m1-246v55m0 44v154m1-273v45m0 107v30m0 33v24m1-234v48m0 84v104m1-201v235m1-261v74m0 25v154m1-254v80m0 12v160m1-246v248m1-255v74m0 28v90m0 1v41m1-249v42m1-50v44m1-43v45m1-59v52m1-24v42m1-29v96m0 19v15m0 23v85m1-286v56m1-32v42m1-32v43m1-30v71m1-62v246m1-253v245m1-254v40m0 131v7m0 23v31m1-239v43m1-21v248m1-240v242m1-255v253m1-256v231m0 5v17m1-262v81m0 112v10m0 7v28m0 10v8m1-261v48m0 24v2m0 147v20m0 12v6m1-254v80m0 51v3m0 72v9m0 6v14m1-227v245m1-225v238m1-225v229m1-260v170m0 24v8m1-213v47m0 4v55m1-112v45m1-67v52m1-43v51m1-47v51m1-49v49m1-3v237m1-50v1m0 17v38m1-82v7m0 17v6m0 12v40m1-271v257m1-237v246m1-243v245m1-269v265m1-273v273m1-273v272m1-283v54m0 66v10m1-203v76m1-14v62m1-31v264m1-271v211m0 2v55m1-305v71m0 231v1m1-303v73m1-59v65m0 208v16m1-286v63m0 19v30m0 2v174m1-299v71m0 29v11m0 19v172m1-334v87m0 226v17m1-343v74m1-25v301m1-320v92m0 8v219m1-347v107m0 38v122m0 17v41m0 6v12m1-331v337m1-369v70m0 206v92m1-401v45m0 286v72m1-422v37m0 317v73m1-426v32m0 324v61m1-421v29m0 331v61m1-430v27m0 347v56m1-445v27m1-21v26m1-34v26m1-45v28m1 0v29m0 347v67m1-440v29m0 343v67m1-448v29m0 372v38m1-446v28m1-24v29m0 358v5m0 7v45m1-433v31m0 342v67m1-426v32m0 325v75m1-453v28m0 354v62m1-452v28m0 363v59m1-455v28m0 374v52m1-468v27m1-23v28m1-27v27m0 377v63m1-471v24m0 383v71m1-482v24m0 389v60m1-478v24m0 393v62m1-477v24m0 389v74m1-467v45m0 344v6m0 61v21m1-508v23m0 442v17m1-497v24m1-16v23m1-13v23m0 426v24m1-475v25m0 427v30m1-487v25m0 450v12m1-489v26m0 407v58m1-484v26m0 398v64m1-483v26m0 391v73m1-487v25m0 388v21m0 35v24m1-478v38m0 358v6m0 59v21m1-507v28m0 398v67m1-545v50m1-66v60m1-8v27m0 428v26m1-474v27m0 416v48m1-496v26m1-13v26m0 403v61m1-487v25m0 403v55m1-479v24m0 402v52m1-461v30m0 371v16m0 38v25m1-490v23m0 391v63m1-474v21m0 390v61m1-458v32m0 362v20m0 30v23m1-467v31m0 362v18m0 42v16m1-471v31m0 367v67m1-464v31m0 369v57m1-449v33m0 356v65m1-450v33m0 353v63m1-443v32m0 346v67m1-442v31m0 343v24m0 25v23m1-479v25m0 409v32m1-451v30m0 370v57m1-427v29m0 332v22m0 37v19m1-437v27m0 335v67m1-431v26m0 337v70m1-432v25m0 337v69m1-426v24m0 335v62m1-416v24m0 328v68m1-415v23m0 324v66m1-413v23m0 326v60m1-420v23m0 338v58m1-409v23m0 327v62m1-410v23m0 327v57m1-413v25m1-10v21m0 318v61m1-390v18m0 308v71m1-394v18m0 303v75m1-401v16m0 314v64m1-396v18m0 315v58"/>
<path stroke="#FFE500" d="M0.5 208v36m1-39v32m1-30v29m1-21v44m1-26v47m1-40v52m1-60v52m1-58v52m1-54v56m1-45v68m1-73v47m1-52v48m1-27v57m1-63v53m1-55v42m1-38v37m1-44v42m1-28v52m1-42v59m1-83v48m1-51v45m1-52v44m1-54v42m1-25v48m1-50v48m1-56v46m1-53v47m1-39v43m1-41v41m1-43v42m1-7v49m1-73v39m1-57v36m1-17v41m1-19v43m1-44v42m1-62v41m1-61v43m1-41v52m1-43v60m1-70v59m1-74v35m1-39v36m1-24v62m1-36v75m1-46v61m1-63v62m1-97v45m1-41v42m1-30v48m1-33v59m1-74v37m1-37v36m1-33v38m1-43v35m1-17v45m1-39v49m1-53v51m1-54v52m1-64v40m1-54v38m1-41v33m1-11v49m1-42v45m1-59v35m1-24v42m1-42v44m1-43v46m1-32v49m1-60v42m1-56v38m1-39v46m1-32v44m1-55v31m1-38v36m1-10v43m1-70v38m1-39v35m1-16v42m1-44v36m1-54v34m1-42v32m1-17v36m1-36v32m1-33v30m1-27v31m1 12v43m1-65v42m1-65v30m1-21v33m1-43v33m1-28v36m1-15v42m1-34v41m1-55v41m1-52v33m1-16v44m1-55v34m1-38v31m1-25v35m1-43v31m1-17v41m1-18v46m1-35v41m1-67v55m1-42v54m1 2v22m1-73v58m1-75v67m1-68v65m1-62v68m1-62v61m1-78v68m1-88v44m1-25v69m1-59v63m1-58v59m1-51v54m1-62v62m1-30v40m1-7v22m1-29v23m1-74v59m1-83v68m1-35v56m1-63v57m1-61v59m1-53v57m1-19v27m1-31v29m1-58v50m1-68v64m1-66v66m1-64v66m1-58v60m1-53v53m1-66v61m1-77v65m1-80v40m1-15v62m1-21v37m1-20v25m1-98v48m1-45v63m1-46v63m1-67v67m1-55v59m1-46v48m1-49v51m1-66v62m1-93v44m1-54v30m1-5v66m1-63v65m1-62v63m1-57v61m1-63v62m1-52v58m1-24v32m1-9v20m1-52v40m1-70v59m1-66v62m1-61v61m1-62v62m1-64v64m1-65v67m1-57v63m1-61v61m1-73v64m1-78v65m1-63v64m1-51v58m1-44v48m1-48v46m1-56v49m1-69v42m1-30v65m1-45v59m1-50v52m1-101v67m1-61v76m1-64v72m1-69v69m1-68v70m1-78v72m1-77v73m1-59v67m1-72v67m1-64v67m1-50v60m1-71v73m1-84v71m1-83v45m1-58v35m1-18v68m1-57v67m1-68v72m1-58v64m1-57v57m1-62v58m1-80v65m1-48v62m1-23v33m1-16v24m1-81v66m1-68v65m1-59v63m1-64v63m1-11v25m1-25v26m1-74v61m1-70v62m1-66v64m1-61v66m1-48v57m1-59v58m1-60v56m1-58v55m1-59v63m1-57v57m1-51v51m1-52v53m1-54v56m1-24v27m1-20v25m1-72v59m1-14v27m1-15v25m1-76v56m1-21v26m1-18v24m1-22v23m1-77v60m1-57v58m1-46v51m1-62v58m1-69v59m1-59v60m1-46v56m1-71v57m1-56v58m1-47v58m1-21v29m1-59v52m1-63v57m1-59v58m1-56v54m1-41v49m1-34v39m1-63v58m1-42v47m1-40v41m1-66v60m1-82v54m1-47v63m1-59v67m1-98v33m1-3v66m1-38v51m1-52v51m1-9v28m1-41v29m1-70v55m1-38v45m1-78v63m1-67v64m1-48v59m1-56v54m1-52v52m1-52v52m1-60v60m1-42v49m1-14v25m1-9v21m1-79v49m1-69v56m1-59v63m1-42v54m1-51v52m1-20v28m1-9v21m1-67v51m1-23v25m1-27v26m1-96v37m1-27v65m1-56v68m1-67v67m1-59v60m1-35v45m1-19v26m1-33v31m1-43v38m1-52v50m1-52v53m1-57v55m1-58v56m1-49v51m1-13v25m1-81v57m1-74v64m1-43v59m1-63v63m1-24v31m1-21v24m1-64v50m1-18v31m1-16v24m1-19v22m1-31v24m1-25v24m1-20v24m1-13v22m1-39v24m1-57v52m1-22v27m1-16v23m1-25v25m1-29v27m1-26v28m1-30v27m1-68v56m1-86v66m1-18v42m1-22v27m1-28v28m1-26v28m1-40v35m1-61v43m1-66v46m1-3v34m1-29v34m1-36v33m1-19v27m1-30v30m1-26v33m1-22v32m1-36v36m1-38v34m1-38v30m1-54v38m1-26v35m1-28v34m1-38v37m1-31v36m1-32v32m1-34v30m1-41v28m1-24v28m1-23v31m1-28v36m1-32v36m1-57v33m1-50v40m1-5v37m1-15v39m1-35v40m1-50v38m1-32v38m1-45v38m1-46v31m1-36v32m1-28v36m1-37v37m1-43v33m1-41v33m1-13v35m1-26v36m1-81v36m1-22v38m1-30v36m1-37v29m1 9v34m1-41v33m1-53v32m1-30v31m1-13v38m1-37v39m1-54v33m1-35v31m1-32v32m1-37v33m1-51v32m1-15v33m1-30v35m1-46v36m1-23v37m1-47v37m1-39v36m1 3v243m1-236v237m1-247v64m0 123v55m1-253v55m1-17v81m0 25v113m1-255v65m0 160v18m1-272v46m1-27v59m1-40v72m0 111v60m1-235v72m0 98v70m1-252v65m0 133v46m1-270v57m1-47v63m1-53v65m1-78v61m1-59v59m1-46v61m1-46v62m0 132v28m1-261v53m1-65v65m1-54v73m1-41v59m1-31v49m0 126v32m1-211v44m0 142v24m1-255v68m1-55v59m1-70v63m1-73v62m1-62v68m1-59v69m1-90v74m1-90v50m1 0v52m1-40v64m1-58v65m0 121v47m1-209v83m0 31v27m0 2v68m1-194v199m1-208v207m1-242v67m0 129v35m1-244v59m1-57v57m1-54v57m1-54v43m1-87v64m1-62v69m1-15v64m0 134v19m1-237v54m1-61v57m1-61v59m1-59v53m1-23v59m0 134v26m1-218v69m0 111v46m1-249v54m1-59v59m1-40v61m0 139v14m1-206v64m0 121v36m1-235v47m1-55v50m1-66v56m1-68v52m1-32v47m1-47v48m1-63v54m1-72v53m1-22v51m1-22v38m1-29v53m0 116v53m1-226v59m0 121v43m1-233v58m0 148v23m1-238v58m1-55v55m1-83v58m1-61v58m1-31v50m1-13v214m1-219v94m0 62v60m1-231v60m1-76v51m0 4v20m1-52v93m0 85v28m1-226v88m1-134v59m1-18v89m1-86v86m1-98v87m1-92v128m1-112v105m1-81v101m1-51v78m0 31v65m1-258v130m1-129v115m1-80v94m1-34v166m1-220v95m1-131v97m1-89v87m1-87v109m1-140v78m1-92v73m1-5v98m0 97v4m1-260v75m1-79v68m1-45v97m1-118v52m1-51v57m1-45v71m1-50v90m1-109v67m1-54v88m1-9v178m1-235v90m0 97v21m1-189v98m0 56v46m1-201v105m0 58v42m1-275v75m1-48v88m1-58v90m1-38v177m1-151v154m1-214v78m0 64v54m1-242v74m1-60v77m1-74v78m1-64v73m1-54v71m0 81v38m1-197v65m1-102v77m1-105v66m1-48v70m1-48v91m1-56v104m0 48v32m1-169v84m0 41v44m1-204v78m1-109v80m1-92v71m1-53v80m1-67v82m1-84v83m1-95v86m1-65v80m1-103v78m1-97v57m1-45v86m1-76v84m1-76v82m1-75v76m1-111v51m1-42v85m1-58v79m1-84v78m1-50v69m1-60v68m1-81v70m1-92v78m1-85v79m1-78v82m1-67v82m0 107v14m1-207v81m1-92v77m1-88v69m1-54v83m1-96v71m1-83v54m1-36v78m1-72v75m1-63v78m1-48v85m0 53v35m1-182v135m0 4v48m1-187v104m0 60v13m1-170v102m0 56v11m1-131v149m1-120v1m0 97v27m1-24v25m1-83v1m0 41v8m0 5v28m1-136v46m0 15v26m0 21v25m1-199v183m1-209v56m1-9v176m1-173v174m1-177v173m1-178v172m1-167v173m1-166v164m1-156v152m1-155v156m1-173v172m1-190v78m0 1v104m1-202v68m1-32v176m1-167v173m1-182v181m1-199v189m1-204v69m1-45v181m1 2v20m1-191v173m1-171v174m1-165v170m1-198v182m1-152v163m1-171v166m1-196v75m1 116v24m1-92v31m0 6v17m0 5v30m1-187v170m1-178v182m1-176v180m1-143v147m1-23v27m1-229v57m1-48v75m0 69v30m0 9v9m1-151v169m1-147v151m1-178v163m1-174v170m1-159v171m1-164v172m1-175v173m1-171v171m1-13v19m1-139v132m1-171v168m1-175v175m1-205v82m0 61v43m1-151v168m1-13v24m1-189v177m1-181v181m1-187v183m1-195v180m1-154v174m1-151v160m1-85v6m0 57v26m1-184v179m1-197v180m1-185v152m0 3v27m1-166v183m1-179v176m1-103v40m0 14v54m1-39v40m1-196v186m1-178v180m1-171v174m1-171v172m1-169v168m1-189v181m1-193v192m1-77v22m0 47v25m1-24v23m1-22v23m1-17v21m1-27v25m1-186v176m1-192v181m1-186v186m1-165v176m1-174v174m1-192v182m1-157v170m1-168v170m1-176v175m1-166v6m0 111v9m0 12v33m1-184v176m1-178v177m1-167v111m0 5v58m1-16v25m1-33v32m1-183v181m1-27v30m1-191v183m1-182v179m1-25v33m1-74v19m0 17v41m1-147v145m1-154v10m0 98v9m0 2v35m1-20v26m1-182v6m0 152v23m1-181v6m0 151v24m1-25v25m1-30v29m1-179v2m0 121v55m1-51v51m1-30v33m1-161v3m0 123v33m1-192v190m1-203v202m1-247v63m0 51v102m1-197v203m1-177v200m1-204v212m1-250v59m0 31v140m1-210v214m1-5v23m1-168v7m0 132v28m1-185v26m0 133v25m1-189v24m0 142v23m1-197v46m0 128v22m1-230v225m1-221v221m1-12v19m1-18v19m1-193v24m0 144v24m1-201v45m0 126v29m1-20v22m1-198v44m0 133v23m1-207v55m0 130v22m1-206v51m0 133v22m1-231v84m0 20v45m0 52v26m1-221v72m0 126v25m1-204v42m0 147v18m1-209v44m0 154v14m1-242v107m0 30v33m0 24v41m1-227v84m0 104v39m1-5v13m1-200v25m0 154v16m1-190v12m0 160v18m1-16v18m1-199v28m0 90v1m0 41v37m1-244v242m1-248v246m1-244v243m1-250v245m1-227v234m1-167v19m0 15v23m0 85v29m1-259v251m1-241v243m1-232v235m1-194v196m1-12v16m1-24v22m1-236v131m0 7v23m0 31v42m1-238v238m1-11v14m1-12v14m1-16v15m1-40v5m0 17v17m1-198v112m0 10v7m0 28v10m0 8v22m1-235v24m0 2v147m0 20v12m0 6v23m1-197v51m0 3v72m0 9v6m0 14v42m1-24v25m1-12v15m1-11v14m1-104v24m0 8v64m1-230v4m0 55v171m1-238v239m1-254v247m1-239v244m1-240v241m1-241v240m1-6v14m1-8v12m1-12v12m1-26v19m1-10v15m1-13v13m1-17v14m1-14v14m1-15v14m1-243v66m0 10v164m1-291v51m0 26v13m0 40v25m0 99v25m1-231v243m1-10v16m1-76v2m0 55v17m1-251v231m0 1v18m1-248v250m1-244v208m0 16v22m1-245v19m0 30v2m0 174v20m1-248v29m0 11v19m0 172v19m1-266v226m0 17v22m1-291v285m1-9v19m1-247v8m0 219v18m1-258v38m0 122v17m0 41v6m0 12v20m1-14v19m1-318v206m0 92v20m1-376v77m0 178v31m0 72v19m1-404v50m0 254v13m0 73v16m1-410v40m0 275v9m0 61v22m1-414v37m0 285v9m0 61v21m1-424v35m0 299v13m0 56v20m1-438v28m0 326v78m1-427v32m0 315v84m1-439v28m0 329v79m1-453v27m0 351v65m1-414v33m0 307v7m0 67v20m1-431v34m0 303v6m0 67v20m1-439v32m0 316v24m0 38v23m1-441v28m0 330v82m1-435v31m0 321v6m0 5v7m0 45v23m1-425v33m0 303v6m0 67v20m1-414v34m0 285v6m0 75v17m1-442v32m0 316v6m0 62v21m1-445v29m0 327v7m0 59v22m1-449v28m0 334v12m0 52v22m1-463v28m0 352v75m1-450v28m0 345v81m1-454v31m0 340v6m0 63v20m1-467v35m0 341v7m0 71v17m1-475v39m0 344v6m0 60v21m1-475v40m0 347v6m0 62v22m1-475v45m0 338v6m0 74v16m1-438v37m0 300v7m0 88v10m1-495v32m0 367v43m0 17v25m1-498v23m0 394v67m1-477v25m0 383v72m1-470v36m0 360v30m0 24v29m1-479v36m0 360v31m0 30v23m1-485v34m0 368v48m0 12v23m1-486v33m0 368v6m0 58v24m1-482v38m0 354v6m0 64v24m1-481v44m0 341v6m0 73v18m1-480v56m0 326v6m0 80v14m1-454v52m0 300v6m0 86v12m1-491v43m0 348v7m0 67v22m1-517v26m0 401v76m1-509v26m0 409v66m1-482v26m0 387v15m0 26v41m1-488v30m0 375v11m0 48v26m1-496v27m0 385v77m1-476v34m0 362v7m0 61v24m1-486v36m0 359v8m0 55v24m1-479v39m0 353v10m0 52v23m1-454v41m0 323v7m0 79v14m1-481v36m0 349v6m0 63v21m1-474v38m0 346v6m0 61v21m1-447v41m0 314v7m0 73v18m1-454v39m0 317v6m0 76v17m1-457v37m0 323v7m0 67v20m1-453v35m0 326v8m0 57v22m1-438v31m0 319v6m0 65v19m1-436v30m0 316v7m0 63v18m1-429v29m0 311v6m0 67v18m1-429v29m0 308v6m0 72v17m1-471v32m0 351v26m0 32v17m1-438v31m0 329v10m0 57v20m1-418v24m0 302v6m0 78v15m1-425v23m0 305v7m0 67v19m1-424v25m0 306v6m0 70v19m1-426v23m0 308v6m0 69v20m1-422v19m0 309v7m0 62v21m1-413v20m0 301v7m0 68v20m1-412v21m0 296v7m0 66v20m1-410v21m0 297v8m0 60v21m1-418v24m0 307v7m0 58v22m1-408v21m0 298v8m0 62v23m1-410v20m0 298v9m0 57v24m1-412v20m0 306v77m1-392v18m0 292v8m0 61v23m1-395v18m0 282v8m0 71v20m1-396v18m0 278v7m0 75v19m1-404v17m0 288v9m0 64v24m1-402v17m0 290v8m0 58v26"/>
<path stroke="#FFB200" d="M0.5 244v50m1-57v44m1-45v44m1-21v53m1-32v58m1-46v45m1-53v53m1-59v59m1-57v58m1-35v41m1-67v56m1-60v52m1-22v45m1-55v47m1-60v58m1-59v66m1-68v58m1-34v47m0 217v19m1-266v35m0 199v36m1-305v51m1-57v54m1-62v54m1-66v54m1-31v51m1-53v53m1-63v54m1-60v54m1-50v58m1-58v59m1-60v54m1-12v41m0 221v10m1-306v50m1-71v38m1-14v51m1-27v46m1-48v48m0 220v11m1-300v53m1-71v50m1-39v50m1-33v53m1-64v57m1-96v72m1-75v74m1-36v61m1-22v39m0 221v2m1-247v33m0 194v34m1-262v35m0 191v36m1-314v63m1-62v63m1-45v55m1-29v38m0 196v44m1-315v66m1-67v64m1-59v57m1-65v59m1-31v43m0 211v18m1-262v36m0 208v18m1-264v38m1-40v42m0 212v10m1-288v58m1-74v50m1-58v57m1-19v41m1-38v44m1-68v56m1-38v44m1-42v42m1-39v43m1-26v37m0 209v13m1-277v39m1-57v44m1-37v40m1-28v38m1-62v51m1-53v45m1-12v40m1-72v48m1-52v48m1-22v44m1-52v43m1-63v43m1-53v39m1-20v41m1-45v46m1-49v48m1-44v50m1 5v28m0 188v43m1-282v39m0 217v10m1-301v42m1-30v43m1-53v44m1-36v42m1-15v34m1-27v34m0 211v15m1-274v36m1-55v43m1-15v36m0 218v8m1-283v43m1-50v42m1-32v45m1-57v47m1-23v42m1-14v40m1-34v36m1-48v29m1-17v24m1 0v32m0 149v43m1-239v24m1-32v22m1-25v24m1-18v21m1-22v21m1-31v24m1-68v58m1-14v24m1-20v23m1-22v23m1-20v22m1-22v22m1-12v25m1-10v33m0 145v49m1-233v31m0 173v13m1-232v23m1-38v28m1-7v27m1-33v23m1-25v20m1-16v19m1-11v30m0 162v44m1-238v28m0 179v30m1-245v26m1-30v31m1-31v25m1-23v21m1-19v22m1-22v21m1-26v23m1-35v29m1-69v59m1-12v26m1-10v31m0 165v44m1-235v32m0 157v48m1-287v46m1-28v30m1-13v22m1-22v21m1-17v22m1-20v28m0 190v11m1-227v28m0 182v22m1-236v21m1-70v54m1-78v67m1-6v26m1-24v25m1-24v25m1-21v22m1-23v24m1-18v23m1-15v25m0 181v23m1-218v45m0 123v73m1-253v29m0 167v36m1-243v24m1-28v24m1-24v23m1-23v24m1-24v26m1-24v23m1-17v23m1-23v23m1-32v26m1-39v28m1-27v28m1-21v25m1-21v23m0 204v26m1-255v26m1-33v27m1-54v46m1-11v24m1-10v24m0 195v11m1-228v27m0 193v1m1-255v35m1-20v27m1-19v23m1-23v23m1-21v22m1-28v25m1-29v28m1-20v27m1-32v27m1-24v25m1-15v25m1-23v24m1-37v28m1-66v53m1-76v66m1-16v27m1-17v25m1-21v25m1-19v22m1-22v21m1-25v21m1-36v29m1-15v22m1-12v24m1-16v32m0 156v51m1-254v22m1-25v23m1-19v22m1-23v24m1-10v28m0 179v15m1-221v28m0 163v37m1-241v26m1-34v24m1-26v24m1-19v22m1-13v25m1-26v28m1-32v27m1-30v23m1-19v20m1-20v23m1-23v25m1-24v25m1-23v25m1-22v28m1-23v28m1-41v25m1-12v28m0 164v34m1-216v34m0 140v64m1-258v23m1-18v25m0 184v26m1-229v30m0 159v49m1-237v33m0 158v44m1-252v22m1-21v22m1-17v25m1-29v27m1-37v26m1-25v25m1-15v24m1-38v28m1-26v27m1-16v23m1-15v29m1-36v26m1-32v25m1-26v24m1-26v26m1-18v25m1-20v26m0 196v1m1-228v21m1-16v24m1-23v25m1-31v25m1-53v35m1-19v25m1-17v22m1-87v66m1-3v24m1-11v25m1-26v23m1-4v33m0 147v47m1-239v28m1-43v26m1-19v27m1-42v27m1-30v27m1-16v23m1-25v24m1-24v23m1-23v24m1-24v26m1-19v25m1-14v29m0 170v18m1-205v39m0 132v59m1-260v23m1-36v28m1-24v26m1-14v21m1-20v22m1-14v26m0 190v9m1-213v31m0 153v44m1-244v22m1-20v27m1-28v28m0 194v1m1-282v52m1-14v26m1-14v22m1-22v23m1-22v24m1-14v24m1-17v29m0 173v29m1-233v29m1-34v24m1-26v22m1-21v26m1-28v26m1-28v25m1-23v25m1-13v27m0 179v9m1-239v24m1-34v28m1-12v23m1-23v25m1-18v27m1-24v28m0 189v7m1-238v26m1-13v27m1-19v29m0 176v15m1-217v28m0 167v37m1-239v26m1-27v27m1-23v28m1-19v35m0 144v56m1-250v26m1-31v21m1-16v23m1-16v29m0 168v35m1-232v29m0 177v16m1-224v27m1-25v26m1-29v27m1-39v25m1-45v28m1-4v26m1-21v28m1-28v26m1-24v27m1-32v33m1-51v36m1-56v34m1-3v43m1-38v36m1-39v31m1-23v35m1-35v35m1-28v36m1-26v43m0 138v38m1-219v41m0 135v48m1-228v41m0 139v41m1-229v40m0 165v13m1-234v36m1-27v35m1-29v33m1-34v35m1-30v34m1-34v37m1-41v39m1-52v43m1-39v39m1-31v36m1-28v36m1-32v37m0 161v10m1-232v35m1-45v29m1 3v34m0 160v2m1-172v38m0 97v72m1-202v56m0 36v116m1-220v37m0 103v77m1-211v77m0 15v126m1-225v44m0 97v79m1-235v40m0 146v33m1-223v39m1-31v38m0 140v10m0 2v16m1-206v35m0 144v26m1-215v35m1-43v36m1-14v36m1-26v39m0 114v47m1-245v34m1-18v39m1-33v39m1-47v38m1 5v208m1-216v43m0 48v121m1-233v37m0 150v17m1-203v40m1-15v75m0 13v120m1-206v207m1-228v34m0 154v15m1-207v38m1-38v38m1-42v37m1-56v36m1-18v34m1-29v34m0 162v7m1-213v38m1-24v40m0 146v17m1-213v48m0 133v40m1-224v90m0 33v124m1-1v14m1-13v12m1-195v123m0 55v14m1-212v208m1-144v25m0 113v15m1-205v160m0 18v23m1-249v76m0 62v101m1-207v207m1-175v111m0 60v15m1-178v98m0 70v13m1-200v133m0 46v16m1-229v227m1-211v210m1-198v197m1-214v211m1-211v209m1-194v197m1-181v132m0 28v26m1-234v61m0 91v70m1-222v59m0 123v36m1-199v89m0 18v97m1-186v190m1-172v126m0 32v21m1-188v142m0 24v21m1-208v63m0 32v107m1-198v200m1-207v61m0 55v90m1-217v64m0 84v67m1-209v80m0 49v82m1-201v204m1-220v63m0 50v103m1-256v63m1-11v205m1-181v186m1-179v121m0 47v13m1-139v31m0 27v2m0 68v13m1-8v12m1-13v12m1-187v129m0 35v18m1-203v199m1-199v198m1-195v196m1-207v205m1-228v67m0 99v56m1-215v82m0 69v66m1-168v134m0 19v23m1-206v105m0 6v89m1-204v206m1-208v211m1-217v211m1-175v134m0 26v23m1-172v111m0 46v17m1-212v209m1-209v208m1-187v139m0 14v35m1-177v121m0 36v21m1-209v204m1-209v205m1-215v70m0 84v58m1-228v59m0 139v25m1-208v78m0 69v72m1-218v75m0 76v63m1-223v58m0 127v9m0 11v5m1-229v42m1-13v57m0 97v59m1-197v205m1-181v116m0 53v16m1-183v121m0 43v19m1-194v148m0 23v21m1-201v199m1-199v197m1-222v70m0 106v20m1-199v73m0 108v17m1-179v206m1-5v13m1-138v62m0 60v14m1-185v180m1-205v4m0 20v178m1-137v85m0 28v28m1-166v164m1-239v85m0 120v20m1-154v170m1-170v170m1-181v180m1-144v145m1-152v149m1-129v132m1-105v31m0 65v14m1-142v138m1-152v151m1-137v139m1-7v13m1-138v130m1-164v156m1-158v87m0 3v68m1-136v142m1-204v92m0 54v47m1-212v85m0 94v16m1-102v97m0 4v31m1-216v96m0 69v30m1-206v94m1-42v171m1-237v90m0 105v5m1-194v82m0 105v10m1-171v99m0 29v75m1-163v168m1-210v106m0 31v66m1-169v172m1-3v12m1-157v97m0 21v33m1-124v56m0 46v25m1-121v58m0 42v21m1-221v83m0 92v15m1-150v169m1-137v144m1-5v12m1-9v11m1-147v64m0 54v22m1-190v181m1-164v168m1-164v164m1-155v157m1-140v81m0 38v23m1-155v152m1-177v106m0 1v66m1-212v69m0 102v26m1-175v178m1-135v150m1-102v48m0 32v25m1-110v41m0 44v25m1-151v147m1-176v170m1-191v61m0 77v39m1-150v168m1-153v154m1-155v156m1-165v167m1-152v152m1-177v172m1-212v72m1-31v78m0 34v59m1-163v164m1-158v160m1-159v161m1-221v81m1-38v160m1-139v156m1-162v160m1-141v143m1-135v136m1-147v147m1-161v157m1-163v157m1-153v156m1-141v107m0 14v26m1-152v149m1-164v157m1-176v160m1-131v150m1-175v164m1-193v71m0 91v18m1-138v158m1-155v162m1-147v150m1-113v53m0 35v27m1-74v4m0 48v22m1-105v60m0 13v30m1-98v56m0 11v29m1-11v18m1-13v14m1-13v13m1-13v13m1-16v15m1-31v24m1-177v165m1 2v16m1-15v15m1-19v17m1-23v22m1-16v18m1-20v20m1-24v22m1-21v21m1-22v22m1-134v1m0 104v25m1-159v151m1-7v19m1-13v15m1-16v15m1-25v22m1-157v150m1-14v22m1 0v11m1-29v20m1-17v17m1-12v14m1-30v24m1-13v17m1-22v20m1-141v132m1 8v10m1-13v10m1-27v21m1-17v19m1-15v15m1-11v14m1-10v12m1-184v166m1-139v69m0 30v9m0 9v27m1-9v17m1-13v14m1-29v24m1-28v28m1-16v20m1-12v14m1-16v15m1-15v14m1-8v13m1-20v16m1-19v18m1-18v18m1-141v61m0 43v28m1-11v19m1-8v13m1-25v20m1-20v20m1-24v21m1-36v30m1-10v19m1-10v15m1-11v13m1-18v16m1-33v24m1-57v3m0 27v25m1-8v14m1-17v18m1-13v15m1-14v15m1-25v18m1-16v17m1-14v16m1-15v16m1-17v16m1-24v20m1-21v20m1-3v14m1-15v14m1-13v13m1-9v12m1-14v13m1-23v19m1-30v26m1-26v24m1-13v19m1-19v19m1-29v24m1-11v17m1-15v17m1-18v18m1-13v15m1-23v20m1-21v20m1-13v16m1-7v12m1-13v13m1-15v14m1-11v12m1-20v16m1-19v19m1-11v15m1-12v13m1-15v15m1-15v15m1-9v11m1-12v12m1-12v12m1-12v12m1-13v12m1-13v13m1-13v13m1-10v13m1-15v14m1-16v14m1-15v14m1-198v51m0 102v36m1-30v32m1-9v14m1-6v11m1-202v31m0 140v24m1-20v20m1-2v10m1-11v11m1-12v12m1-12v11m1-12v13m1-18v13m1-13v14m1-7v12m1-11v11m1-12v11m1-12v12m1-10v11m1-9v11m1-11v11m1-11v10m1-14v13m1-11v11m1-8v10m1-7v10m1-17v12m1-12v13m1-5v10m1-15v12m1-12v12m1-10v11m1-13v11m1-13v11m1-13v12m1-13v14m1-19v15m1-8v13m1-9v11m1-19v14m1-12v14m1-11v12m1-10v11m1-7v10m1-12v11m1-13v11m1-11v11m1-8v11m1-9v10m1-11v10m1-11v10m1-11v11m1-12v12m1-12v11m1-10v11m1-8v10m1-7v9m1-17v12m1-12v12m1-11v12m1-19v15m1-10v12m1-11v11m1-12v11m1-3v10m1-6v9m1-9v9m1-16v11m1-6v8m1-8v9m1-12v10m1-10v10m1-11v11m1-14v12m1-252v26m0 13v40m0 25v99m0 25v17m1-5v13m1-7v11m1-13v12m1-13v13m1-11v12m1-10v11m1-11v11m1-9v11m1-12v11m1-17v15m1-5v10m1-12v11m1-13v12m1-7v10m1-10v10m1-309v178m0 122v9m1-363v60m0 181v13m0 102v9m1-379v44m0 219v12m0 92v10m1-387v42m0 233v10m0 91v11m1-400v44m0 246v9m0 89v11m1-421v37m0 280v9m0 78v15m1-410v41m0 266v8m0 84v12m1-423v42m0 279v8m0 79v13m1-439v34m0 309v8m0 65v20m1-401v43m0 255v9m0 94v8m1-405v41m0 253v9m0 93v9m1-416v36m0 273v7m0 85v12m1-425v36m0 287v7m0 82v12m1-416v40m0 274v7m0 86v11m1-403v40m0 256v7m0 93v9m1-389v35m0 242v8m0 98v8m1-418v42m0 266v8m0 89v10m1-426v44m0 276v7m0 88v11m1-432v37m0 289v8m0 86v11m1-446v31m0 315v6m0 75v17m1-439v33m0 306v6m0 81v14m1-437v38m0 295v7m0 89v10m1-442v42m0 292v7m0 95v9m1-445v39m0 298v7m0 87v11m1-446v44m0 297v6m0 90v9m1-439v48m0 283v7m0 96v8m1-409v49m0 243v8m0 105v6m1-469v44m0 317v6m0 85v11m1-486v39m0 349v6m0 67v21m1-473v50m0 327v6m0 72v19m1-453v47m0 307v6m0 83v12m1-455v45m0 310v5m0 84v12m1-463v45m0 317v6m0 83v12m1-465v47m0 314v7m0 88v11m1-455v48m0 299v7m0 94v8m1-445v54m0 280v7m0 97v8m1-432v44m0 274v8m0 100v8m1-410v44m0 248v8m0 104v6m1-454v49m0 293v6m0 96v8m1-499v41m0 354v6m0 76v17m1-500v31m0 372v6m0 66v22m1-478v45m0 336v6m0 82v13m1-471v45m0 324v6m0 85v11m1-480v41m0 338v6m0 77v16m1-458v41m0 315v6m0 92v9m1-459v39m0 314v6m0 87v11m1-451v37m0 310v6m0 85v12m1-425v36m0 281v6m0 100v7m1-452v37m0 305v7m0 90v9m1-445v38m0 301v7m0 88v11m1-417v31m0 277v6m0 98v9m1-424v29m0 282v6m0 99v8m1-428v27m0 290v6m0 94v9m1-427v27m0 293v6m0 87v11m1-418v30m0 283v6m0 90v10m1-416v27m0 283v6m0 88v12m1-412v25m0 280v6m0 91v10m1-410v26m0 275v7m0 95v9m1-448v29m0 315v7m0 75v17m1-424v24m0 298v7m0 87v11m1-405v25m0 271v6m0 99v7m1-409v28m0 271v6m0 93v9m1-408v27m0 272v7m0 95v9m1-412v26m0 276v6m0 95v8m1-411v23m0 280v6m0 90v10m1-403v27m0 268v6m0 95v8m1-399v27m0 263v6m0 93v10m1-399v25m0 266v6m0 89v12m1-406v22m0 278v7m0 87v11m1-398v21m0 271v6m0 93v9m1-399v21m0 271v6m0 90v10m1-402v20m0 278v8m0 77v16m1-390v24m0 262v6m0 92v10m1-387v28m0 248v6m0 99v8m1-386v29m0 243v6m0 101v8m1-395v23m0 259v6m0 97v8m1-393v23m0 260v7m0 92v10"/>
<path stroke="#FF7F00" d="M0.5 294v45m0 230v8m1-296v54m1-55v54m1-22v41m0 211v21m1-247v28m0 178v61m1-268v28m0 183v43m1-254v27m0 179v62m1-268v28m0 176v66m1-269v30m0 175v65m1-264v26m0 171v66m1-274v31m0 180v61m1-280v36m0 185v57m1-255v25m0 168v67m1-268v26m0 175v66m1-269v27m0 177v63m1-260v23m0 176v60m1-269v30m0 178v64m1-259v32m0 155v30m0 19v26m1-257v37m0 141v21m0 36v23m1-277v29m0 178v64m1-274v31m0 180v63m1-282v35m0 188v48m1-283v41m1-21v32m0 181v57m1-270v31m0 180v63m1-283v35m0 190v53m1-284v37m0 198v38m1-265v35m0 190v48m1-272v34m0 188v51m1-279v35m0 194v43m1-243v31m0 158v32m0 10v32m1-288v34m0 191v52m1-310v47m1-10v32m0 184v54m1-251v25m0 167v70m1-262v29m0 162v29m0 11v32m1-279v33m0 175v68m1-297v41m0 199v39m1-268v39m0 185v52m1-256v27m0 170v69m1-273v28m0 183v59m1-294v40m1-41v41m1-16v29m0 182v55m1-249v28m0 159v34m0 2v36m1-250v46m0 124v24m0 34v26m1-253v44m0 123v24m0 36v26m1-277v32m0 172v64m1-267v29m0 176v58m1-253v33m0 155v71m1-250v48m0 122v26m0 44v18m1-267v30m0 158v74m1-265v27m0 169v68m1-266v29m0 171v65m1-271v31m0 174v66m1-259v38m0 147v26m0 18v34m1-260v40m0 140v28m0 18v34m1-260v34m0 149v72m1-253v31m0 146v35m0 10v34m1-264v23m0 169v69m1-285v37m0 189v47m1-274v33m1-11v25m0 178v59m1-256v32m0 162v64m1-270v27m0 190v32m1-243v28m0 175v56m1-259v27m0 172v62m1-257v27m0 164v68m1-248v42m0 134v33m0 13v33m1-271v28m0 174v62m1-277v31m0 192v37m1-257v27m0 206v14m1-237v28m0 174v63m1-276v30m0 188v44m1-270v34m0 201v24m1-231v27m0 160v70m1-281v31m0 203v22m1-260v33m0 207v17m1-235v22m0 175v67m1-273v27m0 182v61m1-290v35m1-49v41m1-20v36m0 191v42m1-268v30m0 204v26m1-261v30m0 208v20m1-252v33m0 190v43m1-233v47m0 122v19m0 43v21m1-264v32m0 158v27m0 10v33m1-292v37m0 195v37m1-256v32m0 188v41m1-270v34m0 200v32m1-260v30m0 192v50m1-253v27m0 169v68m1-257v36m0 149v26m0 15v32m1-270v25m0 178v62m1-277v30m0 189v43m1-241v33m0 158v27m0 8v33m1-273v28m0 182v59m1-277v33m0 186v54m1-260v24m0 178v63m1-275v32m0 187v36m1-236v43m0 152v48m1-217v43m0 116v71m1-228v47m0 109v74m1-249v35m0 156v33m1-217v35m0 145v45m1-193v149m0 43v24m1-239v44m0 116v70m1-240v37m0 142v52m1-232v34m0 148v49m1-228v43m0 132v52m1-228v39m0 139v61m1-246v31m0 161v47m1-249v19m1-9v31m0 163v31m1-222v35m0 153v37m1-224v37m0 150v39m1-224v37m0 146v54m1-237v35m0 145v61m1-228v39m0 115v77m1-208v145m0 49v17m1-219v73m0 59v41m0 13v30m1-239v37m0 136v59m1-242v29m0 160v43m1-212v52m0 93v84m1-239v42m0 129v64m1-240v38m0 141v58m1-234v39m0 128v72m1-220v130m0 2v30m0 44v20m1-230v57m0 54v6m0 23v39m0 30v21m1-240v46m0 116v75m1-236v38m0 126v69m1-239v35m0 140v60m1-237v38m0 140v60m1-235v48m0 125v65m1-239v47m0 126v65m1-241v36m0 140v65m1-247v28m0 159v57m1-254v26m1-12v41m0 137v64m1-221v165m0 44v19m1-222v157m0 48v19m1-260v29m0 167v40m1-234v28m0 166v43m1-228v41m0 131v69m1-242v40m0 135v67m1-237v42m0 126v71m1-231v45m0 106v39m0 11v32m1-231v77m0 38v12m0 13v42m0 22v28m1-243v36m0 138v63m1-253v26m0 194v2m1-233v25m1-5v31m0 156v46m1-232v38m0 144v62m1-243v41m0 135v67m1-242v44m0 124v74m1-241v38m0 136v67m1-236v39m0 127v71m1-227v93m0 49v39m0 23v27m1-200v123m0 73v13m1-237v90m0 4v73m0 36v26m1-245v40m0 125v75m1-244v40m0 135v67m1-243v37m0 139v68m1-243v37m0 143v62m1-240v36m0 144v58m1-239v34m0 146v62m1-236v53m0 108v78m1-239v55m0 105v79m1-245v32m0 149v56m1-248v27m1-26v26m0 170v36m1-228v29m0 157v62m1-246v34m0 147v23m0 26v21m1-250v30m0 150v68m1-254v27m0 164v57m1-256v24m0 192v16m1-219v27m0 157v60m1-230v49m0 104v42m0 11v31m1-232v42m0 106v45m0 1v38m1-258v28m1-21v34m0 160v31m1-221v38m0 143v55m1-236v32m0 149v58m1-238v36m0 140v65m1-244v34m0 145v64m1-244v32m0 149v59m1-233v43m0 131v61m1-240v36m0 148v53m1-236v37m0 146v53m1-226v42m0 124v66m1-231v38m0 123v71m1-241v30m0 152v41m1-236v27m1-37v22m1-11v27m0 174v38m1-231v31m0 153v56m1-236v29m0 153v49m1-228v37m0 135v62m1-235v41m0 131v66m1-242v39m0 141v61m1-248v29m0 167v41m1-230v35m0 148v52m1-223v47m0 109v76m1-216v156m0 51v16m1-248v42m0 122v77m1-243v40m0 133v68m1-238v40m0 131v68m1-238v35m0 139v62m1-218v85m0 20v74m0 15v30m1-223v163m0 37v24m1-239v47m0 120v69m1-246v32m0 152v39m1-225v32m0 155v37m1-221v35m0 144v58m1-225v42m0 111v78m1-229v49m0 105v75m1-234v46m0 120v66m1-239v38m0 138v60m1-235v40m0 133v68m1-238v40m0 130v67m1-235v40m0 128v66m1-233v41m0 120v73m1-232v44m0 112v77m1-227v47m0 100v81m1-223v75m0 66v83m1-240v36m0 134v65m1-219v87m0 5v72m0 34v29m1-211v140m0 64v12m1-247v44m0 123v71m1-231v53m0 85v46m0 26v24m1-223v159m0 49v18m1-222v158m0 44v19m1-249v32m0 150v50m1-231v33m0 145v62m1-232v48m0 111v77m1-238v45m0 128v50m1-234v32m0 161v43m1-236v31m0 163v44m1-229v37m0 142v52m1-241v30m0 172v29m1-230v31m0 158v47m1-229v40m0 134v63m1-223v59m0 92v77m1-238v41m0 128v66m1-242v39m0 143v59m1-243v39m0 144v60m1-243v39m0 138v68m1-238v44m0 119v78m1-235v47m0 108v41m0 1v39m1-246v40m0 136v64m1-232v47m0 117v70m1-232v48m0 114v71m1-239v39m0 134v65m1-256v25m1-19v28m0 169v35m1-227v30m0 157v43m1-251v22m1-1v34m0 152v53m1-225v40m0 120v72m1-235v33m0 133v67m1-204v147m0 47v19m1-230v66m0 76v84m1-243v36m0 138v64m1-230v45m0 111v78m1-249v33m0 155v52m1-243v29m0 170v34m1-226v35m0 145v61m1-242v33m0 153v39m1-226v36m0 149v43m1-227v38m0 143v56m1-235v37m0 141v55m1-227v41m0 128v64m1-218v71m0 64v35m0 18v36m1-202v132m0 59v15m1-252v33m0 149v54m1-244v27m0 177v23m1-225v30m0 162v46m1-231v43m0 133v67m1-241v47m0 128v68m1-231v59m0 94v37m0 9v36m1-218v153m0 44v23m1-245v43m0 130v62m1-228v62m0 95v76m1-233v74m0 81v39m0 1v40m1-270v23m1-11v28m1-20v36m0 147v48m1-230v31m0 153v58m1-240v30m0 153v56m1-229v41m0 124v69m1-222v60m0 80v33m0 29v23m1-227v55m0 93v75m1-233v50m0 116v65m1-235v43m0 126v67m1-231v33m0 124v77m1-236v37m0 128v70m1-238v33m0 139v64m1-234v32m0 139v61m1-218v57m0 78v44m0 9v36m1-251v30m0 178v5m1-219v27m1-16v37m0 146v50m1-231v39m0 140v59m1-229v42m0 120v71m1-229v42m0 110v37m0 7v34m1-246v38m0 145v56m1-225v49m0 105v76m1-220v62m0 70v44m0 15v34m1-223v42m0 85v40m0 37v22m1-235v43m0 100v87m1-230v45m0 104v80m1-224v54m0 87v86m1-211v144m0 56v15m1-239v42m0 108v82m1-242v35m0 140v62m1-230v32m0 138v60m1-217v65m0 66v37m0 35v22m1-225v52m0 80v45m0 16v31m1-228v46m0 98v80m1-223v45m0 96v81m1-224v40m0 107v78m1-239v31m0 149v42m1-239v28m1-6v34m0 133v63m1-223v42m0 106v78m1-228v45m0 109v72m1-223v41m0 114v65m1-219v41m0 115v64m1-235v42m0 147v23m1-234v40m1 0v52m0 81v87m1-222v59m0 26v137m1-230v49m0 97v80m1-214v221m1-221v71m0 29v118m1-210v211m1-194v138m0 38v24m1-202v135m0 48v21m1-208v139m0 41v27m1-216v165m0 13v33m1-231v45m0 103v67m1-207v63m0 77v79m1-215v62m0 35v13m0 22v84m1-215v38m0 57v118m1-209v212m1-209v210m1-212v210m1-219v42m0 91v80m1-213v42m0 77v94m1-208v213m1-205v209m1-204v161m0 10v34m1-231v41m0 104v77m1-238v39m0 143v42m1-187v160m0 2v47m1-181v97m0 72v18m1-164v36m0 116v13m1-196v103m0 77v15m1-149v15m0 126v12m1-193v97m0 79v15m1-210v146m0 33v25m1-209v206m1-199v140m0 10v2m0 16v33m1-204v144m0 26v33m1-213v73m0 8v129m1-217v43m0 92v67m1-180v197m1-184v114m0 47v29m1-240v34m1-13v61m0 65v79m1-199v205m1-214v60m0 2v150m1 1v12m1-185v48m0 121v15m1-211v150m0 17v38m1-201v198m1-138v13m0 120v15m1-14v14m1-208v154m0 15v31m1-200v200m1-200v200m1-205v201m1-221v42m0 141v7m1-174v204m1-199v162m0 7v34m1-209v206m1-190v146m0 17v32m1-197v133m0 40v29m1-163v33m0 124v15m1-2v9m1-10v10m1-13v11m1-15v12m1-3v9m1-13v10m1-183v62m0 101v14m1-14v14m1-3v10m1-7v9m1-14v11m1-13v11m1-12v12m1-13v12m1-15v13m1-15v15m1-12v14m1-9v11m1-184v91m0 70v16m1-179v123m0 36v19m1-129v18m0 97v15m1-11v15m1-8v11m1-12v12m1-157v32m0 107v14m1-12v14m1-160v55m0 90v15m1-168v84m0 67v15m1-144v49m0 82v13m1-10v12m1-169v50m0 103v13m1-206v201m1-7v13m1-8v11m1-9v11m1-9v10m1-6v10m1-11v10m1-15v11m1-15v12m1-13v13m1-12v12m1-14v14m1-175v99m0 56v15m1-148v69m0 66v14m1-6v11m1-112v6m0 89v14m1-12v13m1-10v12m1-18v14m1-6v11m1-9v10m1-13v10m1-11v10m1-9v11m1-10v11m1-16v13m1-17v15m1-160v84m0 58v16m1-185v139m0 25v19m1-149v69m0 72v13m1-156v76m0 63v15m1-180v127m0 9v11m0 5v23m1-210v205m1-161v97m0 59v13m1-5v11m1-7v11m1-11v11m1-13v11m1-13v10m1-12v12m1-164v106m0 20v31m1-157v108m0 17v32m1-5v13m1-5v10m1-12v11m1-16v12m1-15v13m1-9v12m1-14v13m1-167v120m0 20v21m1-5v12m1-12v12m1-13v12m1-11v11m1-14v12m1-9v11m1-6v11m1-15v11m1-12v11m1-9v11m1-5v9m1-17v12m1-20v15m1-86v3m0 68v15m1-9v12m1-124v54m0 47v18m1-145v94m0 16v32m1-2v12m1-132v69m0 30v25m1-137v136m1-7v12m1-159v105m0 5v43m1-155v105m0 10v42m1-114v29m0 75v15m1-10v13m1-117v31m0 66v14m1-11v12m1-3v10m1-16v12m1-9v11m1-11v10m1-148v92m0 15v31m1-12v14m1-7v12m1-5v9m1-7v9m1-16v11m1-20v13m1-9v12m1-12v11m1-9v10m1-8v10m1-13v10m1-81v1m0 66v11m1-154v102m0 26v24m1-21v21m1-6v11m1-8v11m1-11v10m1-14v12m1-18v15m1-145v77m0 39v27m1-9v12m1-11v12m1-11v12m1-10v11m1-11v11m1-16v12m1-152v148m1-101v34m0 59v11m1-10v11m1-9v11m1-9v11m1-151v143m1-21v24m1-7v11m1-13v12m1-10v11m1-10v11m1-11v11m1-15v12m1-18v16m1-13v14m1-8v12m1-15v13m1-20v18m1-34v31m1-12v13m1-24v22m1-144v91m0 18v33m1-13v18m1-11v13m1-10v12m1-10v11m1-11v11m1-13v12m1-14v13m1-6v10m1-9v10m1-10v10m1-10v9m1-10v11m1-18v11m1-23v20m1-2v10m1-10v10m1-12v11m1-12v11m1-9v11m1-11v10m1-12v11m1-11v11m1-11v11m1-15v13m1-21v16m1-4v12m1-10v11m1-12v11m1-14v12m1-19v15m1-7v12m1-1v9m1-18v11m1-11v11m1-9v10m1-16v12m1-8v10m1-12v10m1-19v15m1 3v9m1-12v10m1-16v11m1-9v10m1-10v11m1-8v10m1-8v10m1-28v16m1-11v13m1-5v11m1-10v11m1-16v12m1-12v11m1-7v11m1-9v10m1-11v11m1-12v11m1-6v10m1-14v10m1-11v10m1-10v11m1-20v14m1-6v11m1-6v10m1-15v11m1-11v11m1-14v13m1-19v15m1-6v11m1-6v9m1-7v9m1-11v9m1-18v12m1-14v13m1-7v12m1-11v11m1-9v11m1-10v11m1-18v12m1-11v12m1-10v11m1-10v11m1-12v11m1-15v12m1-13v13m1-2v10m1-11v10m1-10v10m1-7v9m1-10v10m1-14v10m1-14v11m1-13v13m1-7v12m1-12v12m1-17v12m1-6v11m1-9v10m1-10v10m1-8v10m1-13v11m1-12v12m1-9v11m1-6v10m1-10v9m1-10v9m1-8v9m1-13v10m1-10v10m1-6v10m1-9v9m1-9v10m1-10v10m1-8v9m1-9v9m1-9v9m1-9v9m1-10v10m1-10v9m1-9v9m1-6v8m1-9v8m1-10v9m1-10v9m1-18v13m1-11v12m1-7v11m1-6v10m1-17v11m1-11v11m1-3v10m1-10v9m1-9v8m1-9v10m1-9v9m1-14v10m1-9v10m1-5v8m1-8v9m1-10v9m1-9v9m1-8v8m1-6v8m1-8v9m1-10v9m1-10v9m1-9v9m1-7v9m1-6v8m1-13v10m1-9v9m1-4v9m1-12v9m1-9v9m1-8v8m1-10v9m1-11v9m1-10v9m1-8v9m1-13v10m1-5v8m1-6v9m1-14v11m1-9v9m1-8v8m1-7v9m1-6v8m1-9v9m1-11v10m1-10v10m1-7v8m1-7v8m1-9v9m1-10v9m1-9v9m1-9v9m1-10v9m1-8v9m1-7v8m1-6v7m1-12v9m1-9v9m1-8v9m1-13v10m1-8v9m1-9v10m1-11v10m1-3v8m1-5v8m1-8v8m1-13v8m1-6v8m1-7v8m1-10v9m1-9v9m1-9v9m1-11v10m1-17v11m1-3v9m1-5v8m1-9v8m1-8v8m1-7v8m1-7v9m1-9v9m1-7v8m1-9v8m1-10v8m1-3v6m1-7v7m1-8v8m1-5v5m1-5v5m1-5v5m1-308v181m0 124v3m1-338v57m0 139v23m0 114v5m1-350v53m0 169v11m0 112v5m1-361v49m0 187v10m0 109v6m1-390v52m0 219v9m0 102v8m1-377v45m0 212v9m0 104v7m1-388v40m0 230v9m0 100v9m1-414v43m0 258v8m0 93v9m1-367v43m0 203v9m0 111v4m1-368v36m0 209v8m0 111v4m1-384v37m0 227v9m0 104v7m1-396v37m0 241v9m0 101v8m1-384v32m0 233v9m0 104v6m1-369v32m0 215v9m0 109v4m1-358v40m0 193v9m0 114v2m1-378v33m0 225v8m0 107v5m1-387v33m0 234v9m0 106v5m1-400v40m0 241v8m0 105v6m1-421v41m0 266v8m0 98v8m1-414v46m0 252v8m0 101v7m1-406v44m0 243v8m0 106v5m1-405v44m0 240v8m0 111v2m1-408v41m0 249v8m0 105v5m1-407v41m0 248v8m0 105v5m1-396v40m0 235v8m0 111v2m1-362v37m0 198v8m1-306v45m0 264v8m0 102v6m1-453v45m0 297v7m0 94v8m1-431v50m0 270v7m0 97v8m1-414v45m0 255v7m0 101v7m1-417v44m0 258v8m0 101v6m1-424v46m0 264v7m0 101v6m1-424v58m0 249v7m0 106v4m1-411v50m0 241v8m0 109v3m1-394v38m0 234v8m0 112v2m1-390v38m0 229v7m1-250v31m0 210v7m1-287v43m0 242v8m0 110v2m1-460v48m0 299v7m0 99v7m1-476v46m0 320v6m0 94v9m1-442v47m0 282v7m0 101v6m1-432v46m0 271v7m0 102v6m1-445v45m0 286v7m0 99v8m1-425v46m0 262v7m0 107v3m1-423v43m0 264v7m0 104v5m1-419v40m0 263v7m0 103v6m1-395v36m0 238v7m0 113v1m1-416v39m0 259v7m0 106v5m1-412v36m0 259v6m0 106v5m1-391v38m0 232v7m0 113v1m1-396v38m0 237v7m0 113v1m1-402v37m0 247v6m0 109v3m1-403v34m0 252v7m0 104v6m1-394v32m0 244v7m0 106v5m1-394v32m0 245v6m0 106v5m1-392v35m0 238v7m0 107v5m1-389v37m0 232v6m0 111v3m1-422v26m0 283v6m0 99v8m1-408v28m0 264v6m0 105v5m1-385v34m0 230v7m0 112v2m1-383v29m0 236v6m0 108v4m1-385v31m0 235v6m0 111v2m1-388v31m0 238v7m0 109v3m1-391v29m0 245v6m0 106v5m1-381v31m0 231v6m0 109v4m1-376v28m0 229v6m0 109v4m1-378v25m0 235v6m0 107v5m1-389v26m0 246v6m0 105v6m1-383v27m0 237v7m0 108v4m1-382v27m0 237v7m0 106v5m1-387v27m0 245v6m0 101v8m1-374v25m0 230v7m0 108v4m1-363v33m0 209v6m0 113v2m1-359v39m0 198v6m0 115v1m1-373v34m0 219v6m0 111v3m1-373v29m0 225v6m0 109v4"/>
<path stroke="#FF4C00" d="M0.5 339v37m0 163v30m0 8v34m1-276v30m0 178v63m1-272v32m0 176v63m1-252v36m0 145v30m0 21v27m1-246v44m0 116v18m0 61v12m1-252v39m0 127v17m0 43v25m1-252v43m0 117v19m0 62v14m1-254v45m0 112v19m0 66v13m1-252v44m0 113v18m0 65v12m1-250v47m0 105v19m0 66v13m1-256v41m0 121v18m0 61v14m1-258v38m0 129v18m0 57v15m1-245v51m0 97v20m0 67v13m1-255v51m0 103v21m0 66v13m1-255v49m0 107v21m0 63v13m1-250v52m0 104v20m0 60v14m1-253v55m0 104v19m0 64v12m1-239v69m0 47v39m0 75v12m1-232v141m0 80v12m1-260v48m0 111v19m0 64v13m1-256v48m0 110v22m0 63v13m1-260v43m0 126v19m0 48v20m1-262v34m0 152v71m1-246v50m0 111v20m0 57v16m1-255v51m0 109v20m0 63v13m1-261v41m0 128v21m0 53v17m1-264v32m0 150v16m0 38v23m1-253v39m0 130v21m0 48v19m1-257v40m0 127v21m0 51v19m1-263v33m0 140v21m0 43v24m1-236v158m0 74v13m1-267v49m0 121v21m0 52v16m1-279v28m0 174v70m1-250v46m0 117v21m0 54v19m1-245v59m0 56v52m0 70v13m1-246v55m0 50v57m0 72v13m1-259v54m0 103v18m0 68v13m1-269v37m0 142v20m0 39v25m1-254v49m0 115v21m0 52v20m1-249v71m0 53v46m0 69v14m1-259v55m0 107v21m0 59v16m1-270v32m0 156v72m1-260v34m0 153v73m1-247v54m0 105v23m0 55v19m1-240v159m0 72v15m1-219v124m0 84v13m1-222v123m0 86v12m1-257v51m0 72v49m0 64v15m1-253v53m0 86v37m0 58v17m1-237v155m0 71v14m1-216v122m0 88v12m1-249v158m0 74v13m1-251v58m0 19v13m0 19v60m0 68v12m1-249v58m0 24v3m0 22v64m0 65v12m1-252v61m0 23v12m0 27v13m0 16v22m0 66v12m1-233v147m0 78v13m1-233v140m0 80v13m1-239v149m0 72v13m1-235v146m0 79v12m1-253v57m0 45v67m0 69v13m1-261v49m0 119v21m0 47v20m1-261v32m0 150v75m1-243v59m0 94v25m0 59v13m1-237v56m0 60v46m0 64v13m1-256v46m0 118v26m0 32v28m1-243v50m0 100v25m0 56v16m1-248v56m0 59v57m0 62v15m1-245v164m0 68v14m1-220v134m0 79v13m1-256v53m0 86v35m0 62v14m1-260v41m0 126v25m0 37v26m1-256v38m0 137v31m0 14v35m1-244v59m0 42v41m0 8v24m0 63v13m1-259v53m0 112v23m0 44v24m1-260v43m0 131v27m0 24v31m1-235v160m0 70v14m1-264v39m0 135v29m0 22v29m1-256v38m0 140v29m0 17v32m1-245v61m0 94v20m0 67v13m1-259v51m0 110v21m0 61v15m1-270v28m0 160v73m1-269v23m0 179v62m1-248v39m0 134v18m0 42v24m1-262v32m0 151v21m0 26v30m1-261v33m0 153v22m0 20v33m1-252v42m0 130v18m0 43v23m1-209v122m0 83v14m1-246v75m0 38v45m0 70v13m1-268v44m0 135v16m0 37v28m1-252v46m0 124v18m0 41v23m1-259v35m0 147v18m0 32v27m1-257v41m0 135v16m0 50v18m1-244v55m0 94v20m0 68v12m1-233v88m0 35v26m0 73v12m1-257v49m0 111v18m0 62v12m1-259v40m0 133v16m0 43v24m1-232v51m0 85v22m0 68v13m1-258v51m0 112v19m0 59v13m1-257v48m0 120v18m0 54v17m1-253v50m0 110v18m0 63v14m1-257v53m0 113v21m0 36v26m1-219v152m0 48v21m1-195v116m0 71v13m1-194v109m0 74v12m1-226v80m0 47v29m0 33v30m1-212v145m0 45v24m1-1v13m1-208v116m0 70v13m1-216v142m0 52v19m1-217v148m0 49v20m1-205v132m0 52v23m1-212v139m0 61v14m1-229v82m0 24v1m0 22v32m0 47v18m1-248v40m0 129v73m1-220v65m0 52v46m0 31v28m1-215v153m0 37v27m1-214v150m0 39v27m1-214v146m0 54v17m1-219v145m0 61v13m1-202v115m0 77v12m1-9v13m1-159v59m0 84v13m1-215v136m0 59v15m1-228v81m0 18v61m0 43v23m1-183v93m0 84v14m1-211v129m0 64v14m1-216v141m0 58v16m1-211v128m0 72v13m1-103v2m0 94v12m1-185v54m0 6v23m0 90v12m1-206v116m0 75v13m1-211v126m0 69v13m1-217v140m0 60v15m1-214v140m0 60v13m1-200v125m0 65v12m1-204v126m0 65v14m1-219v140m0 65v14m1-233v159m0 57v13m1-241v54m0 108v73m1-206v137m0 64v13m1-6v13m1-11v12m1-243v129m0 8v30m0 40v25m1-231v166m0 43v23m1-210v131m0 69v13m1-215v135m0 67v12m1-207v126m0 71v13m1-199v106m0 82v13m1-167v38m0 12v13m0 92v13m1-220v138m0 63v13m1-240v53m0 96v45m0 2v38m1-246v38m0 137v69m1-218v156m0 46v22m1-216v144m0 62v13m1-215v135m0 67v14m1-212v124m0 74v13m1-216v136m0 67v12m1-209v127m0 71v12m1-146v49m0 89v13m1-4v12m1-159v4m0 135v13m1-218v125m0 75v14m1-218v135m0 67v15m1-221v139m0 68v14m1-220v143m0 62v14m1-218v144m0 58v16m1-221v146m0 62v14m1-197v108m0 78v13m1-197v105m0 79v13m1-226v149m0 56v16m1-237v59m0 27v27m0 28v88m1-229v60m0 21v31m0 28v30m0 36v26m1-225v157m0 62v13m1-225v147m0 70v13m1-233v150m0 68v14m1-241v75m0 34v10m0 20v25m0 57v15m1-247v37m0 125v30m0 16v32m1-224v157m0 60v16m1-197v104m0 84v13m1-203v106m0 84v12m1-242v48m0 105v78m1-218v160m0 31v29m1-212v143m0 55v16m1-220v149m0 58v14m1-216v140m0 65v15m1-225v145m0 64v14m1-226v149m0 59v16m1-206v131m0 61v17m1-221v148m0 53v18m1-217v146m0 53v17m1-201v124m0 66v13m1-206v123m0 71v13m1-224v152m0 41v26m1-235v45m0 106v76m1-242v35m0 145v57m1-221v76m0 36v62m0 38v21m1-221v153m0 56v17m1-224v153m0 49v19m1-210v135m0 62v15m1-209v131m0 66v13m1-216v141m0 61v14m1-233v167m0 41v21m1-216v148m0 52v18m1-194v109m0 76v14m1-7v13m1-219v122m0 77v14m1-217v133m0 68v14m1-212v131m0 68v13m1-216v139m0 62v14m1-147v20m0 119v12m1-11v13m1-205v120m0 69v13m1-227v152m0 39v26m1-219v155m0 37v28m1-214v144m0 58v16m1-199v111m0 78v12m1-192v105m0 75v13m1-201v120m0 66v15m1-216v138m0 60v15m1-210v133m0 68v12m1-210v130m0 67v12m1-207v128m0 66v12m1-204v120m0 73v11m1-199v112m0 77v12m1-192v100m0 81v13m1-161v66m0 83v12m1-216v134m0 65v14m1-146v5m0 135v13m1-8v13m1-216v123m0 71v12m1-190v85m0 96v14m1-11v13m1-14v13m1-230v150m0 50v20m1-218v145m0 62v13m1-197v111m0 77v12m1-205v128m0 50v20m1-222v161m0 43v17m1-222v163m0 44v16m1-208v142m0 52v15m1-226v172m0 29v24m1-223v158m0 47v19m1-208v134m0 63v14m1-178v92m0 77v12m1-209v128m0 66v12m1-215v143m0 59v12m1-216v144m0 60v13m1-217v138m0 68v13m1-207v119m0 78v13m1-201v108m0 81v13m1-219v136m0 64v12m1-197v117m0 70v13m1-197v114m0 71v14m1-214v134m0 65v13m1-244v57m0 93v86m1-227v169m0 35v25m1-222v157m0 43v23m1-252v37m0 147v57m1-208v152m0 53v15m1-200v120m0 72v14m1-216v133m0 67v14m1-5v13m1-177v76m0 84v14m1-221v138m0 64v14m1-199v111m0 78v14m1-230v155m0 52v16m1-230v65m0 14v10m0 30v51m0 34v25m1-216v145m0 61v14m1-223v153m0 39v28m1-218v149m0 43v26m1-215v143m0 56v17m1-215v141m0 55v20m1-206v128m0 64v16m1-163v64m0 89v14m1-10v14m1-233v149m0 54v19m1-236v80m0 59v38m0 23v33m1-228v162m0 46v21m1-209v133m0 67v13m1-207v128m0 68v14m1-186v94m0 82v13m1-11v14m1-216v130m0 62v15m1-181v95m0 76v14m1-173v81m0 80v13m1-260v36m0 144v60m1-223v80m0 57v94m1-215v147m0 48v25m1-224v153m0 58v13m1-223v153m0 56v14m1-202v124m0 69v14m1-176v80m0 85v14m1-186v93m0 75v14m1-197v116m0 65v14m1-206v126m0 67v13m1-211v124m0 77v14m1-213v128m0 70v14m1-219v139m0 64v13m1-215v139m0 61v15m1-176v78m0 89v14m1-235v55m0 83v40m0 5v38m1-230v48m0 108v71m1-206v146m0 50v20m1-212v140m0 59v15m1-202v120m0 71v14m1-201v110m0 78v14m1-222v145m0 56v15m1-191v105m0 76v14m1-172v70m0 93v13m1-194v85m0 99v12m1-204v100m0 87v13m1-198v104m0 80v14m1-184v87m0 86v13m1-9v12m1-209v108m0 82v14m1-221v140m0 62v14m1-212v138m0 60v13m1-165v66m0 94v13m1-186v80m0 92v14m1-196v98m0 80v15m1-193v96m0 81v15m1-199v107m0 78v14m1-222v149m0 42v26m1-237v38m0 124v64m1-198v133m0 63v16m1-197v106m0 78v14m1-197v109m0 72v13m1-195v114m0 65v14m1-192v115m0 64v15m1-208v147m0 23v35m1-229v45m0 6v20m0 58v91m1-168v81m0 87v14m1-177v26m0 137v14m1-195v97m0 80v16m1-9v13m1-163v29m0 118v14m1-13v14m1-8v13m1-11v12m1-13v12m1-17v14m1-200v103m0 67v23m1-167v77m0 79v15m1-168v35m0 13v22m0 84v15m1-192v57m0 118v15m1-12v14m1-13v13m1-15v15m1-192v91m0 80v18m1-189v77m0 94v18m1-13v14m1-10v14m1-13v13m1-203v104m0 77v16m1-215v143m0 42v26m1-4v14m1-8v12m1-11v12m1-13v12m1-8v12m1-14v11m1-17v12m1-15v12m1-10v12m1-13v13m1-153v8m0 129v14m1-188v92m0 67v22m1-5v14m1-8v13m1-219v203m1-155v65m0 79v17m1-11v14m1-168v2m0 150v15m1-2v12m1-13v12m1-18v13m1-16v14m1-4v11m1-11v12m1-20v13m1-13v13m1-13v13m1-17v14m1-193v141m0 7v37m1-7v15m1-11v13m1-16v14m1-9v13m1-8v13m1-4v9m1-2v8m1-8v9m1-11v9m1-12v8m1-2v9m1-12v10m1-16v11m1-11v9m1-2v9m1-7v8m1-11v9m1-11v9m1-9v9m1-10v10m1-12v11m1-11v10m1-8v9m1-7v9m1-16v10m1-11v10m1-9v11m1-7v9m1-6v9m1-9v9m1-13v9m1-7v9m1-9v9m1-11v11m1-11v10m1-8v9m1-12v10m1-15v11m1-5v10m1-7v10m1-8v9m1-8v9m1-5v8m1-9v8m1-12v9m1-12v10m1-10v9m1-9v9m1-9v9m1-14v10m1-9v10m1-5v9m1-12v10m1-9v10m1-8v9m1-13v10m1-5v10m1-9v10m1-13v10m1-11v9m1-7v9m1-8v10m1-13v9m1-11v10m1-12v11m1-13v12m1-7v11m1-13v11m1-16v12m1-17v14m1-6v11m1-5v10m1-6v9m1-9v8m1-10v9m1-12v10m1-10v10m1-17v12m1-12v12m1-4v9m1-4v9m1-10v8m1-12v9m1-11v10m1-7v10m1-11v10m1-16v11m1-4v9m1-9v9m1-10v9m1-9v8m1-10v10m1-8v10m1-5v8m1-12v10m1-11v10m1-8v9m1-5v8m1-13v10m1-15v11m1-11v10m1-7v10m1-15v11m1-14v11m1-1v9m1-17v11m1-12v10m1-5v11m1-17v12m1-10v11m1-6v9m1-6v9m1-15v10m1-9v10m1-3v9m1-13v9m1-7v8m1-9v9m1-19v11m1-9v11m1-6v9m1-5v8m1-6v8m1-13v8m1-15v10m1-7v9m1-10v9m1-8v9m1-7v8m1-11v9m1-12v9m1-11v10m1-10v10m1-5v9m1-6v8m1-9v9m1-11v9m1-12v10m1-12v10m1-7v9m1-8v9m1-8v9m1-8v9m1-9v9m1-13v10m1-14v11m1-8v11m1-10v10m1-8v10m1-8v9m1-17v10m1-7v10m1-6v9m1-10v9m1-8v9m1-8v9m1-9v10m1-13v10m1-12v11m1-10v10m1-6v9m1-11v10m1-12v9m1-12v10m1-9v10m1-12v11m1-13v12m1-7v10m1-8v10m1-8v9m1-8v9m1-9v10m1-11v9m1-10v9m1-5v8m1-7v9m1-9v9m1-10v9m1-8v8m1-15v10m1-13v10m1-2v9m1-9v9m1-10v9m1-10v9m1-7v8m1-9v9m1-10v9m1-9v9m1-9v10m1-12v10m1-15v12m1-4v9m1-8v9m1-10v9m1-11v10m1-14v11m1-6v9m1-1v8m1-15v9m1-9v9m1-8v9m1-13v9m1-7v9m1-11v10m1-14v10m1 2v8m1-10v8m1-13v9m1-8v9m1-8v9m1-7v9m1-7v8m1-20v11m1-9v11m1-5v9m1-8v9m1-13v10m1-11v11m1-7v9m1-8v9m1-9v8m1-9v9m1-5v8m1-12v9m1-10v9m1-8v9m1-15v11m1-6v9m1-5v9m1-13v10m1-10v9m1-10v9m1-13v11m1-6v9m1-6v9m1-7v8m1-10v8m1-14v10m1-11v11m1-6v9m1-9v10m1-8v9m1-8v8m1-14v10m1-9v9m1-8v9m1-8v9m1-10v9m1-12v10m1-10v10m1-2v8m1-9v8m1-8v9m1-7v9m1-9v7m1-11v9m1-12v10m1-10v10m1-5v9m1-9v9m1-14v11m1-6v9m1-8v8m1-8v8m1-6v8m1-10v9m1-9v9m1-7v8m1-4v7m1-8v8m1-9v8m1-7v8m1-11v9m1-9v9m1-5v7m1-7v8m1-7v8m1-8v8m1-7v8m1-8v7m1-7v7m1-7v8m1-8v8m1-9v8m1-8v8m1-6v7m1-8v7m1-8v8m1-9v9m1-14v10m1-9v10m1-6v9m1-5v7m1-13v9m1-9v9m1-2v7m1-8v7m1-8v8m1-7v7m1-7v7m1-11v9m1-8v8m1-5v8m1-7v7m1-8v8m1-8v7m1-7v8m1-6v7m1-6v7m1-8v8m1-9v7m1-7v7m1-5v7m1-5v6m1-9v7m1-7v8m1-3v6m1-9v7m1-7v7m1-7v7m1-8v7m1-9v7m1-8v8m1-7v7m1-10v8m1-5v8m1-5v7m1-10v7m1-7v8m1-8v8m1-6v7m1-5v8m1-8v7m1-8v7m1-7v7m1-6v8m1-7v7m1-7v7m1-8v8m1-8v8m1-8v7m1-8v8m1-7v8m1-7v7m1-6v6m1-9v7m1-7v8m1-7v8m1-11v8m1-7v9m1-8v8m1-9v8m1-3v5m1-2v2m1-2v2m1-7v7m1-5v5m1-4v4m1-5v5m1-5v5m1-5v5m1-6v6m1-12v10m1-4v6m1-3v3m1-4v4m1-4v4m1-3v3m1-1v1m1-1v1m2-1v1m1-3v3m8-281v139m1-155v169m1-184v66m0 26v95m1-213v36m0 174v9m1-213v43m0 157v12m1-228v51m0 169v10m1-253v44m0 205v9m0 110v3m1-327v84m0 34v85m1-208v89m0 38v82m1-224v48m0 170v9m1-239v37m0 195v9m1-234v44m0 180v9m1-218v71m0 104v40m1-196v101m0 3v89m1-220v48m0 168v9m1-234v40m0 186v8m1-240v34m0 199v8m1-261v30m0 228v8m1-254v35m0 208v9m1-246v43m0 192v8m1-242v48m0 184v8m1-246v39m0 203v7m1-248v37m0 203v8m1-238v43m0 184v8m1-204v98m0 20v80m1-253v36m0 219v9m1-292v43m0 246v8m0 109v2m1-383v28m0 234v8m0 112v1m1-370v29m0 218v8m1-258v35m0 216v7m1-263v37m0 219v8m1-252v29m0 213v7m1-244v38m0 196v7m1-236v45m0 182v7m1-230v44m0 169v16m1-212v78m0 93v39m1-237v37m0 198v7m1-292v47m0 245v7m1-317v50m0 263v7m0 109v1m1-396v41m0 234v7m1-272v37m0 227v7m1-285v42m0 237v7m1-265v32m0 223v7m1-263v34m0 223v7m1-263v36m0 221v6m1-243v41m0 190v7m1-256v32m0 221v6m1-258v33m0 219v7m1-236v38m0 188v6m1-237v39m0 192v6m1-244v35m0 205v7m1-251v34m0 212v6m1-245v41m0 197v6m1-244v40m0 198v7m1-240v40m0 192v6m1-233v42m0 183v7m1-276v38m0 239v6m1-267v36m0 222v6m1-235v36m0 188v6m1-233v34m0 195v7m1-236v37m0 192v6m1-238v36m0 196v6m1-243v32m0 207v6m1-233v38m0 187v6m1-229v38m0 185v6m1-234v38m0 191v6m1-245v40m0 200v6m1-239v38m0 193v6m1-236v37m0 194v6m1-242v35m0 204v6m1-234v38m0 186v6m1-211v41m0 161v7m1-199v44m0 147v7m1-217v39m0 174v6m1-224v39m0 179v7"/>
<path stroke="#FF1900" d="M0.5 376v40m0 103v20m0 72v15m1-261v40m0 120v18m0 63v17m1-257v43m0 117v16m0 63v16m1-232v52m0 45v48m0 78v14m1-216v116m0 91v13m1-226v127m0 85v14m1-223v117m0 95v13m1-222v112m0 98v13m1-221v113m0 95v13m1-216v105m0 98v13m1-228v121m0 93v13m1-233v129m0 90v13m1-207v97m0 100v14m1-218v103m0 100v13m1-219v107m0 97v14m1-212v104m0 94v14m1-212v104m0 95v13m1-183v47m0 126v13m1-12v12m1-224v111m0 96v13m1-221v110m0 98v14m1-231v126m0 87v15m1-243v76m0 48v28m0 71v15m1-211v111m0 93v13m1-217v109m0 96v13m1-233v128m0 91v12m1-244v150m0 77v14m1-228v130m0 88v13m1-230v127m0 91v13m1-243v140m0 88v14m1-5v12m1-230v121m0 89v13m1-264v64m0 73v37m0 70v12m1-216v117m0 94v13m1-199v56m0 135v13m1-204v50m0 142v12m1-217v103m0 99v12m1-244v142m0 84v14m1-219v115m0 93v13m1-191v53m0 129v12m1-216v107m0 96v12m1-250v90m0 7v59m0 72v15m1-241v153m0 73v15m1-208v105m0 97v12m1-6v12m1-10v12m1-13v13m1-219v72m0 128v13m1-213v86m0 112v13m1-10v13m1-7v13m1-17v12m1-205v19m0 13v19m0 140v13m1-204v24m0 3v22m0 141v13m1-204v23m0 12v27m0 13v16m0 100v13m1-8v12m1-12v12m1-17v13m1-11v13m1-209v45m0 149v14m1-226v119m0 88v15m1-244v150m0 75v13m1-197v94m0 97v14m1-195v60m0 123v14m1-224v118m0 86v15m1-208v100m0 97v13m1-205v59m0 134v13m1-12v13m1-7v11m1-214v86m0 111v13m1-232v126m0 88v14m1-232v137m0 80v13m1-198v42m0 41v8m0 100v13m1-219v112m0 91v13m1-230v131m0 82v14m1-5v14m1-239v135m0 80v14m1-232v140m0 78v14m1-198v94m0 100v13m1-221v110m0 97v13m1-255v96m0 2v62m0 73v15m1-261v48m0 110v21m0 62v15m1-224v134m0 84v15m1-245v151m0 77v15m1-243v153m0 75v14m1-224v130m0 84v12m1-2v11m1-182v38m0 128v13m1-237v135m0 81v14m1-220v124m0 82v15m1-239v147m0 77v14m1-230v135m0 84v13m1-202v94m0 100v13m1-158v35m0 111v13m1-221v111m0 92v13m1-232v133m0 83v14m1-195v85m0 103v12m1-219v112m0 91v13m1-222v120m0 89v13m1-216v110m0 95v14m1-218v113m0 83v14m1-12v14m1-9v13m1-12v12m1-158v47m0 92v13m1-11v14m1-2v12m1-21v14m1-17v14m1-14v14m1-12v13m1-11v13m1-160v24m0 1v22m0 97v14m1-222v129m0 73v14m1-169v52m0 105v13m1-11v13m1-11v13m1-10v13m1-13v13m1-11v13m1-9v12m1-15v12m1-17v13m1-160v18m0 127v13m1-5v13m1-17v13m1-14v13m1-11v13m1-8v12m1-12v12m1-14v13m1-16v13m1-15v12m1-13v13m1-11v14m1-13v14m1-14v13m1-17v14m1-201v108m0 73v13m1-5v14m1-7v13m1-12v13m1-127v8m0 95v14m1-13v13m1-10v12m1-13v13m1-10v14m1-12v13m1-12v11m1-17v14m1-201v96m0 85v14m1-222v137m0 69v13m1-7v14m1-11v13m1-12v12m1-13v13m1-14v13m1-12v13m1-8v12m1-4v10m1-17v13m1-17v13m1-14v13m1-13v13m1-14v13m1-13v12m1-11v12m1-10v13m1-13v12m1-17v13m1-191v27m0 27v28m0 88v14m1-183v21m0 31v28m0 92v14m1-7v13m1-8v12m1-13v12m1-178v34m0 10v20m0 97v14m1-224v125m0 78v16m1-7v13m1-9v13m1-14v13m1-207v105m0 78v14m1-12v14m1-12v14m1-13v13m1-9v12m1-14v13m1-15v14m1-11v13m1-15v14m1-15v15m1-13v14m1-13v13m1-18v13m1-203v106m0 76v15m1-222v145m0 57v16m1-161v36m0 121v14m1-9v12m1-15v14m1-12v13m1-12v13m1-13v13m1-17v13m1-11v13m1-8v13m1-7v11m1-17v13m1-15v13m1-13v12m1-13v11m1-7v12m1-10v12m1-15v12m1-22v16m1-15v14m1-10v12m1-10v14m1-13v12m1-12v12m1-15v15m1-12v13m1-14v13m1-14v13m1-13v14m1-12v13m1-11v12m1-12v13m1-16v13m1-6v12m1-7v11m1-21v15m1-10v12m1-10v11m1-12v11m1-21v13m1-11v13m1-10v12m1-19v13m1-14v14m1-13v13m1-12v13m1-14v13m1-12v14m1-11v13m1-10v12m1-15v14m1-15v14m1-13v13m1-11v13m1-10v13m1-12v12m1-19v14m1-11v14m1-12v13m1-15v13m1-200v93m0 86v14m1-12v14m1-13v14m1-229v147m0 57v16m1-4v13m1-7v11m1-13v13m1-5v11m1-14v12m1-17v13m1-9v13m1-20v14m1-179v14m0 10v30m0 110v14m1-10v12m1-15v13m1-13v13m1-12v13m1-12v13m1-11v13m1-9v12m1-8v11m1-22v14m1-170v59m0 94v14m1-13v13m1-9v13m1-10v11m1-8v11m1-8v10m1-19v12m1-8v11m1-10v12m1-236v144m0 60v16m1-159v57m0 94v14m1-9v13m1-13v13m1-13v12m1-7v12m1-9v11m1-15v12m1-14v12m1-12v13m1-9v11m1-12v12m1-15v13m1-13v13m1-8v11m1-191v83m0 83v15m1-197v108m0 71v15m1-5v12m1-10v13m1-10v13m1-12v13m1-19v14m1-10v12m1-8v11m1-9v11m1-15v11m1-11v11m1-9v11m1-8v11m1-16v12m1-17v13m1-14v13m1-5v11m1-11v11m1-14v11m1-12v12m1-12v12m1-17v13m1-212v124m0 64v16m1-2v12m1-11v13m1-16v15m1-17v15m1-13v13m1-16v13m1-197v6m0 20v58m0 91v16m1-2v12m1-12v12m1-14v12m1-8v11m1-13v13m1-12v13m1-8v10m1-9v11m1-12v11m1-14v12m1-19v13m1-9v12m1-11v11m1-13v12m1-10v11m1-11v12m1-12v11m1-14v13m1-13v12m1-11v13m1-9v12m1-12v12m1-18v13m1-17v15m1-5v11m1-7v10m1-9v10m1-11v11m1-7v9m1-12v11m1-16v12m1-15v12m1-10v11m1-11v12m1-14v12m1-19v14m1-5v11m1-6v10m1-26v14m1-8v13m1-10v13m1-14v13m1-3v11m1-12v11m1-16v11m1-13v11m1-4v11m1-10v10m1-17v12m1-12v13m1-13v12m1-15v12m1-20v13m1-5v12m1-10v12m1-14v11m1-7v11m1-6v10m1-5v8m1-2v8m1-7v7m1-9v8m1-12v9m1-2v6m1-8v7m1-12v8m1-10v9m1-2v7m1-6v7m1-9v8m1-10v8m1-8v8m1-8v8m1-9v8m1-9v8m1-7v8m1-6v8m1-14v9m1-10v9m1-7v9m1-7v9m1-6v8m1-8v8m1-12v9m1-7v8m1-8v8m1-8v8m1-9v8m1-7v8m1-10v9m1-13v10m1-5v9m1-6v8m1-7v8m1-7v8m1-5v5m1-6v6m1-9v8m1-10v8m1-9v9m1-9v9m1-9v8m1-12v9m1-8v9m1-5v9m1-11v8m1-7v8m1-7v8m1-11v9m1-4v8m1-7v8m1-11v8m1-10v8m1-6v8m1-6v7m1-11v9m1-10v9m1-10v9m1-10v9m1-5v8m1-10v9m1-13v10m1-13v10m1-5v9m1-4v8m1-5v7m1-8v8m1-9v8m1-10v8m1-8v8m1-13v9m1-9v9m1-4v8m1-3v7m1-9v8m1-11v8m1-9v8m1-5v8m1-9v8m1-13v9m1-4v8m1-8v8m1-9v8m1-9v8m1-8v8m1-6v8m1-5v8m1-10v7m1-8v8m1-7v8m1-5v7m1-10v7m1-11v9m1-10v9m1-6v8m1-12v9m1-12v10m1-2v9m1-15v9m1-11v10m1-4v8m1-13v10m1-9v9m1-6v9m1-6v7m1-12v9m1-8v8m1-2v7m1-11v8m1-7v8m1-8v8m1-16v9m1-7v8m1-5v7m1-4v7m1-5v7m1-12v8m1-13v8m1-6v8m1-9v8m1-7v8m1-7v8m1-10v9m1-12v10m1-11v9m1-9v9m1-5v9m1-7v8m1-8v8m1-10v8m1-10v7m1-9v9m1-7v8m1-7v8m1-7v8m1-7v7m1-7v7m1-10v7m1-10v8m1-5v7m1-7v8m1-6v8m1-7v8m1-15v9m1-6v8m1-5v8m1-9v8m1-7v8m1-7v8m1-7v7m1-10v8m1-9v8m1-8v8m1-5v8m1-9v8m1-11v9m1-11v9m1-8v9m1-10v9m1-10v9m1-6v9m1-7v8m1-7v8m1-7v7m1-6v8m1-10v8m1-9v7m1-4v7m1-5v7m1-7v7m1-8v7m1-7v7m1-12v8m1-11v9m1-2v8m1-8v8m1-9v8m1-9v8m1-7v8m1-8v8m1-9v8m1-8v8m1-7v7m1-9v8m1-11v9m1-4v7m1-6v8m1-9v9m1-10v8m1-11v8m1-5v8m1-1v7m1-13v8m1-8v8m1-7v7m1-11v9m1-7v8m1-9v8m1-12v9m1 1v7m1-9v8m1-12v9m1-8v9m1-8v8m1-6v8m1-7v8m1-17v9m1-7v8m1-4v8m1-7v7m1-10v8m1-8v8m1-6v8m1-7v8m1-9v8m1-8v8m1-5v7m1-10v8m1-9v8m1-7v7m1-11v8m1-5v9m1-5v7m1-10v8m1-9v8m1-9v8m1-10v8m1-5v9m1-6v8m1-7v8m1-10v8m1-12v8m1-8v8m1-5v8m1-7v8m1-7v8m1-8v7m1-11v8m1-8v8m1-7v8m1-7v8m1-9v8m1-10v8m1-8v8m1-2v8m1-9v8m1-7v7m1-5v7m1-9v8m1-10v8m1-10v8m1-8v9m1-5v7m1-7v8m1-11v8m1-5v8m1-8v8m1-8v8m1-6v8m1-9v8m1-8v8m1-7v8m1-5v7m1-7v7m1-8v7m1-6v7m1-9v7m1-7v7m1-5v8m1-7v7m1-6v6m1-6v7m1-6v7m1-8v7m1-7v7m1-6v6m1-6v7m1-8v7m1-7v7m1-6v7m1-8v7m1-7v7m1-7v7m1-11v7m1-6v7m1-4v6m1-4v6m1-10v7m1-7v7m1-2v5m1-6v6m1-6v6m1-6v6m1-6v6m1-8v7m1-7v7m1-4v5m1-5v5m1-5v5m1-6v6m1-5v5m1-4v4m1-3v3m1-3v3m1-5v5m1-5v5m1-3v3m1-2v2m1-4v4m1-3v3m2-2v2m1-2v2m1-2v2m1-3v3m1-5v5m1-5v5m1-5v5m1-7v7m1-4v4m1-2v2m1-5v5m1-4v4m1-4v4m1-3v3m2-1v1m1-2v2m1-2v2m6-1v1m1-1v1m4-2v2m1-1v1m2-3v3m1-1v1m1-1v1m1-2v2m11-2v2m20-246v26m1-82v174m1-161v157m1-165v169m1-199v60m0 93v52m1-121v34m1-34v38m1-94v170m1-193v195m1-181v180m1-138v104m1-55v3m1-83v168m1-185v186m1-198v199m1-223v99m0 69v60m1-211v103m0 28v77m1-194v192m1-186v184m1-199v97m0 31v75m1-204v90m0 33v80m1-187v184m1-98v20m1-137v89m0 79v51m1-240v36m0 202v8m1-236v38m0 189v7m1-220v86m0 111v21m1-215v67m0 136v13m1-219v58m0 154v7m1-215v80m0 86v47m1-199v104m0 7v85m1-184v182m1-179v169m1-118v93m1-161v87m0 48v63m1-238v37m0 200v8m1-260v34m0 222v7m1-238v45m0 182v7m1-228v53m0 167v7m1-236v34m0 196v7m1-226v49m0 158v16m1-222v45m0 171v7m1-220v44m0 170v7m1-196v84m0 48v58m1-217v52m0 149v20m1-219v50m0 152v17m1-191v80m0 53v55m1-192v76m0 59v57m1-203v64m0 119v22m1-210v54m0 151v7m1-198v68m0 112v17m1-198v65m0 119v14m1-193v65m0 98v29m1-185v73m0 65v45m1-231v34m0 198v7m1-225v40m0 176v6m1-193v68m0 84v36m1-193v68m0 103v24m1-192v65m0 102v25m1-196v61m0 115v20m1-205v57m0 144v6m1-189v62m0 100v25m1-185v56m0 103v26m1-190v51m0 124v16m1-199v50m0 142v8m1-195v58m0 119v16m1-193v54m0 128v12m1-201v45m0 152v7m1-190v57m0 105v24m1-164v55m0 62v44m1-148v51m0 35v61m1-171v53m0 94v27m1-179v55m0 101v23"/>
<path stroke="#E50000" d="M0.5 416v103m0 107v12m1-233v120m0 98v15m1-229v117m0 95v15m1-195v45m0 140v12m1-8v11m1-11v11m1-9v10m1-9v10m1-10v10m1-10v10m1-11v10m1-11v12m1-8v10m1-12v10m1-11v11m1-11v11m1-11v11m1-8v10m1-10v10m1-14v11m1-10v10m1-13v11m1-178v48m0 114v12m1-6v11m1-10v11m1-13v12m1-15v12m1-9v12m1-11v12m1-13v12m1-5v10m1-17v12m1-212v73m0 119v15m1-7v12m1-7v10m1-10v11m1-14v11m1-15v12m1-10v12m1-9v11m1-12v11m1-171v7m0 146v14m1-14v13m1-7v11m1-5v9m1-7v9m1-9v9m1-15v11m1-13v12m1-9v11m1-5v9m1-14v11m1-12v10m1-11v11m1-11v11m1-7v10m1-10v9m1-13v11m1-9v10m1-11v10m1-14v12m1-18v14m1-6v11m1-9v10m1-15v11m1-9v11m1-10v11m1-10v11m1-7v10m1-14v10m1-14v12m1-14v13m1-7v11m1-14v11m1-14v12m1-3v9m1-19v14m1-14v14m1-5v10m1-11v10m1-169v2m0 150v13m1-226v110m0 98v15m1-6v11m1-13v12m1-13v12m1-10v11m1-2v9m1-12v10m1-17v12m1-11v12m1-13v12m1-10v11m1-6v10m1-9v9m1-14v11m1-13v11m1-6v10m1-13v11m1-11v11m1-8v10m1-18v12m1-10v12m1-8v11m1-11v11m1-17v12m1-9v12m1-2v9m1-16v11m1-14v12m1-12v12m1-11v12m1-10v11m1-13v11m1-17v13m1-12v12m1-10v12m1-10v11m1-8v11m1-11v11m1-9v10m1-7v9m1-12v10m1-14v11m1-13v13m1-5v9m1-13v10m1-11v10m1-8v10m1-6v10m1-10v10m1-11v9m1-12v11m1-14v11m1-11v11m1-8v11m1-10v10m1-11v11m1-14v12m1-19v13m1-4v11m1-5v9m1-8v9m1-19v12m1-12v12m1-10v11m1-11v11m1-7v10m1-9v10m1-11v10m1-13v11m1-17v13m1-16v14m1-7v11m1-9v10m1-10v11m1-11v10m1-11v11m1-10v11m1-7v10m1-4v6m1-10v9m1-13v10m1-11v10m1-10v11m1-12v11m1-12v11m1-10v11m1-8v9m1-10v10m1-14v12m1-19v14m1-11v13m1-7v11m1-7v10m1-11v10m1-13v10m1-15v12m1-6v10m1-6v9m1-10v10m1-20v12m1-10v12m1-10v11m1-11v10m1-7v10m1-11v11m1-12v11m1-9v10m1-11v10m1-10v10m1-9v10m1-10v10m1-15v12m1-18v14m1-18v15m1-5v11m1-8v11m1-12v11m1-10v11m1-10v11m1-11v11m1-15v12m1-10v11m1-6v10m1-6v9m1-13v10m1-12v11m1-12v11m1-13v11m1-6v10m1-8v9m1-12v9m1-15v11m1-12v12m1-10v12m1-8v11m1-12v11m1-11v11m1-11v11m1-10v11m1-12v11m1-12v11m1-10v10m1-9v11m1-10v11m1-10v10m1-13v11m1-5v9m1-5v6m1-12v9m1-7v9m1-8v9m1-10v10m1-18v11m1-9v10m1-8v9m1-15v12m1-12v11m1-11v12m1-11v12m1-13v13m1-11v11m1-9v11m1-9v10m1-11v10m1-11v11m1-11v11m1-9v11m1-8v10m1-10v10m1-15v11m1-8v9m1-8v9m1-11v10m1-17v12m1-10v11m1-10v11m1-20v14m1-5v11m1-7v10m1-10v10m1-4v8m1-10v9m1-13v10m1-6v8m1-14v11m1-12v11m1-9v10m1-12v10m1-10v10m1-9v10m1-9v10m1-8v9m1-6v9m1-6v7m1-15v10m1-13v11m1-11v11m1-7v10m1-9v10m1-7v9m1-7v8m1-15v10m1-7v9m1-7v8m1-24v14m1-8v12m1-8v10m1-10v10m1-11v11m1-6v9m1-7v10m1-13v10m1-12v11m1-10v10m1-8v10m1-10v10m1-12v10m1-10v9m1-6v9m1-19v13m1-16v14m1-7v11m1-8v9m1-6v8m1-7v8m1-13v10m1-8v10m1-7v9m1-7v8m1-12v9m1-9v9m1-7v9m1-6v7m1-11v8m1-12v10m1-11v11m1-5v9m1-9v9m1-12v10m1-10v10m1-10v10m1-14v11m1-19v12m1-2v10m1-8v10m1-11v10m1-12v10m1-10v10m1-13v11m1-17v12m1-2v10m1-10v10m1-12v11m1-8v10m1-10v9m1-8v9m1-7v10m1-8v9m1-10v9m1-11v9m1-15v11m1-8v10m1-10v11m1-12v11m1-10v10m1-9v9m1-10v10m1-11v11m1-12v12m1-10v10m1-7v9m1-9v9m1-14v11m1-13v11m1-5v9m1-6v9m1-8v9m1-9v8m1-6v7m1-8v8m1-12v9m1-12v10m1-9v10m1-9v9m1-11v10m1-15v11m1-5v10m1-6v10m1-22v13m1-8v11m1-8v9m1-10v10m1-2v7m1-8v8m1-13v10m1-12v12m1-5v8m1-8v8m1-13v10m1-9v10m1-11v10m1-13v11m1-18v13m1-6v11m1-9v10m1-13v10m1-6v10m1-6v8m1-5v6m3-1v1m1-4v4m2-1v1m1-5v5m1-6v6m1-1v1m2-1v1m1-3v3m1-3v3m1-3v3m1-4v4m1-5v5m1-4v4m1-2v2m1-7v7m1-8v8m1-6v6m1-4v4m1-2v2m1-2v2m1-5v5m1-4v4m1-4v4m1-4v4m1-5v5m1-4v4m1-5v5m1-8v8m1-4v4m1-2v2m1-1v1m4-1v1m1-3v3m1-3v3m1-3v3m1-4v4m1-7v7m1-6v6m1-2v2m1-5v5m1-4v4m1-3v3m1-5v5m1-1v1m2-3v3m1-5v5m1-3v3m1-2v2m1-4v4m1-5v5m1-6v6m1-7v7m1-4v4m1-5v5m1-8v8m1-11v9m1-5v7m1-3v3m1-1v1m1-1v1m1-2v2m1-4v4m1-4v4m1-8v8m1-8v8m1-4v4m2-1v1m1-4v4m1-5v5m1-2v2m1-3v3m1-7v7m1-3v3m1-3v3m1-4v4m1-5v5m1-5v5m1-3v3m2-3v3m1-3v3m1-2v2m2-3v3m1-5v5m1-6v6m1-4v4m1-7v7m1-9v8m1-1v2m1-8v8m1-9v8m1-4v5m1-8v8m1-8v8m1-5v5m1-4v4m1-7v7m1-7v7m1-2v2m1-5v5m1-4v4m1-4v4m1-11v8m1-7v7m1-5v7m1-4v5m1-3v3m1-7v7m1-12v8m1-6v7m1-8v7m1-6v6m1-5v7m1-8v6m1-8v7m1-9v7m1-7v8m1-4v6m1-5v7m1-7v7m1-9v6m1-9v8m1-8v7m1-6v7m1-6v7m1-6v7m1-7v7m1-7v8m1-11v8m1-10v8m1-6v8m1-7v8m1-6v7m1-6v7m1-13v8m1-6v7m1-4v7m1-8v7m1-6v7m1-6v6m1-6v7m1-9v7m1-8v7m1-7v8m1-5v7m1-8v7m1-9v7m1-9v8m1-7v7m1-8v7m1-8v8m1-5v7m1-6v7m1-6v7m1-7v7m1-5v6m1-8v7m1-9v7m1-4v8m1-6v7m1-7v7m1-8v7m1-7v8m1-12v8m1-10v8m1-2v7m1-7v7m1-8v8m1-9v8m1-7v8m1-8v7m1-8v7m1-7v8m1-8v8m1-9v7m1-9v7m1-4v8m1-6v7m1-7v7m1-9v8m1-11v8m1-5v7m1-1v5m1-10v7m1-7v7m1-7v8m1-10v7m1-6v8m1-9v8m1-11v8m1 0v7m1-8v7m1-10v7m1-6v7m1-7v7m1-5v7m1-6v7m1-15v8m1-7v8m1-4v7m1-7v7m1-9v7m1-7v7m1-5v7m1-6v7m1-8v8m1-8v7m1-5v7m1-9v7m1-8v7m1-7v8m1-11v8m1-4v7m1-5v7m1-9v8m1-9v8m1-9v7m1-9v7m1-3v6m1-4v6m1-5v6m1-8v7m1-11v8m1-8v8m1-5v7m1-6v7m1-6v7m1-8v8m1-11v8m1-8v8m1-7v8m1-7v7m1-8v7m1-9v8m1-8v8m1-2v7m1-8v7m1-7v7m1-5v6m1-7v7m1-9v7m1-9v7m1-6v6m1-4v7m1-6v6m1-9v7m1-4v7m1-7v7m1-7v7m1-5v5m1-6v6m1-6v6m1-5v5m1-3v3m1-3v3m1-4v4m1-3v3m1-5v5m1-5v5m1-2v2m1-2v2m1-2v2m1-1v1m2-1v1m1-1v1m1-1v1m2-1v1m1-1v1m2-1v1m1-1v1m1-1v1m1-5v5m1-4v4m1-2v2m2-3v3m1-3v3m6-1v1m1-1v1m85-267v93m11-77v69m1-48v28m3-29v31m1-39v33m3-49v79m1-153v202m1-190v189m1-127v111m1-127v136m1-148v154m1-128v86m1-48v7m4-26v48m1-138v89m0 46v65m1-218v51m0 144v27m1-186v93m0 2v87m1-168v167m1-195v81m0 56v59m1-170v158m1-161v84m0 2v85m1-169v77m0 11v82m1-105v48m1-107v149m1-149v152m1-94v53m1-61v59m1-82v119m1-134v151m1-123v112m1-116v119m1-114v98m1-83v65m1-152v71m0 98v29m1-178v66m0 52v58m1-119v84m1-89v103m1-103v102m1-110v115m1-128v55m0 6v83m1-121v100m1-104v103m1-113v124m1-133v57m0 1v84m1-129v119m1-123v128m1-144v56m0 37v59m1-126v105m1-85v62m1-53v35m1-57v94m1-97v101"/>
<path stroke="#B20000" d="M0.5 638v9m1-9v9m1-11v10m1-8v10m1-7v7m1-7v7m1-6v6m1-5v5m1-5v5m1-5v5m1-6v6m1-5v5m1-3v3m1-5v5m1-5v5m1-5v5m1-5v5m1-3v3m1-3v3m1-6v6m1-6v6m1-8v8m1-12v10m1-5v7m1-6v6m1-7v7m1-10v10m1-7v7m1-6v6m1-7v7m1-2v2m1-7v7m1-12v10m1-5v7m1-4v4m1-3v3m1-6v6m1-9v9m1-7v7m1-5v5m1-6v6m1-10v10m1-11v10m1-6v7m1-3v3m1-1v1m1-1v1m1-5v5m1-6v6m1-4v4m2-3v3m1-5v5m1-5v5m1-5v5m1-2v2m1-3v3m1-5v5m1-4v4m1-5v5m1-7v7m1-11v10m1-5v6m1-5v5m1-9v9m1-7v7m1-6v6m1-5v5m1-2v2m1-6v6m1-8v8m1-9v9m1-5v5m1-8v8m1-10v10m1-4v4m1-9v9m1-9v9m1-4v4m1-5v5m1-9v9m1-12v10m1-5v7m1-8v8m1-9v9m1-8v8m1-1v1m1-3v3m1-8v8m1-7v7m1-8v8m1-7v7m1-3v3m1-3v3m1-6v6m1-8v8m1-4v4m1-6v6m1-6v6m1-4v4m1-10v10m1-8v8m1-5v5m1-5v5m1-10v10m1-7v7m2-5v5m1-7v7m1-7v7m1-6v6m1-5v5m1-7v7m1-11v10m1-10v11m1-9v9m1-8v8m1-5v5m1-5v5m1-4v4m1-2v2m1-4v4m1-7v7m1-7v7m1-3v3m1-6v6m1-7v7m1-5v5m1-1v1m1-1v1m1-3v3m1-4v4m1-7v7m1-7v7m1-4v4m1-4v4m1-4v4m1-6v6m1-12v11m1-4v5m1-1v1m2-7v7m1-7v7m1-6v6m1-6v6m1-3v3m1-2v2m1-3v3m1-5v5m1-9v9m1-11v10m1-6v7m1-6v6m1-5v5m1-6v6m1-6v6m1-5v5m1-2v2m2-1v1m1-4v4m1-5v5m1-4v4m1-5v5m1-6v6m1-5v5m1-4v4m1-4v4m1-6v6m1-11v10m1-8v9m1-5v5m1-2v2m1-3v3m1-6v6m1-9v9m1-5v5m1-2v2m1-2v2m1-10v10m1-8v8m1-7v7m1-8v8m1-5v5m1-5v5m1-6v6m1-5v5m1-6v6m1-6v6m1-5v5m1-5v5m1-8v8m1-12v10m1-13v11m1-5v9m1-6v6m1-7v7m1-6v6m1-5v5m1-5v5m1-8v8m1-7v7m1-3v3m2-3v3m1-4v4m1-5v5m1-7v7m1-3v3m1-2v2m1-5v5m1-9v9m1-9v9m1-7v7m1-4v4m1-5v5m1-5v5m1-5v5m1-4v4m1-5v5m1-6v6m1-6v6m1-4v4m1-3v3m1-3v3m1-5v5m1-1v1m2-3v3m1-1v1m3-7v7m1-6v6m1-5v5m1-8v8m1-9v9m1-8v8m1-7v7m1-7v7m1-7v7m1-5v5m1-4v4m1-5v5m1-5v5m1-5v5m1-3v3m1-1v1m1-1v1m1-5v5m1-4v4m1-3v3m1-4v4m1-9v9m1-8v8m1-7v7m1-13v10m1-4v7m1-4v4m1-4v4m2-1v1m1-4v4m1-2v2m1-5v5m1-6v6m1-5v5m1-7v7m1-7v7m1-6v6m1-5v5m1-4v4m1-1v1m2-5v5m1-7v7m1-7v7m1-4v4m1-3v3m1-1v1m2-5v5m1-3v3m1-2v2m1-12v9m1-5v8m1-6v6m1-6v6m1-6v6m1-3v3m2-3v3m1-4v4m1-4v4m1-2v2m1-2v2m1-4v4m1-5v5m1-2v2m1-8v8m1-10v9m1-5v6m1-5v5m1-3v3m1-2v2m1-5v5m1-3v3m1-1v1m2-3v3m1-3v3m1-1v1m2-3v3m1-5v5m1-5v5m1-1v1m1-1v1m1-3v3m1-3v3m1-3v3m1-6v6m1-13v11m1-3v5m1-3v3m1-4v4m1-6v6m1-6v6m1-8v8m1-13v11m1-3v5m1-5v5m1-6v6m1-4v4m1-5v5m1-4v4m1-1v1m2-1v1m1-3v3m1-7v7m1-5v5m1-4v4m1-5v5m1-5v5m1-5v5m1-5v5m1-5v5m1-5v5m1-5v5m1-3v3m1-3v3m1-6v6m1-8v8m1-4v4m1-1v1m2-1v1m3-3v3m1-5v5m1-4v4m1-4v4m1-5v5m1-9v9m1-4v4m2-9v8m1-5v6m1-5v5m1-5v5m3-3v3m1-3v3m3-3v3m1-2v2m1-3v3m1-5v5m1-10v10m1-5v5m1-4v4m1-7v7m1-3v3m1-1v1m65-2v2m34-1v1m3-1v1m12-3v3m1-3v3m1-1v1m4-4v4m1-3v3m1-4v4m1-4v4m1-2v2m1-4v4m1-5v5m1-7v7m1-6v6m1-4v4m1-2v2m1-2v2m1-5v5m1-6v6m1-7v7m1-6v6m1-5v5m1-4v4m1-4v4m1-3v3m1-6v6m1-8v7m1-5v6m1-5v5m1-4v4m1-3v3m1-8v6m1-5v7m1-4v4m1-5v5m1-4v4m1-4v4m1-3v3m1-5v5m1-6v6m1-5v5m1-3v3m1-4v4m1-6v6m1-7v7m1-7v7m1-8v8m1-8v7m1-5v6m1-5v5m1-4v4m1-4v4m1-3v3m1-4v4m1-6v6m1-2v2m1-1v1m1-1v1m1-2v2m1-1v1m1-5v5m1-7v7m1-2v2m1-2v2m1-2v2m1-3v3m1-2v2m1-3v3m1-4v4m1-3v3m1-3v3m1-5v5m1-7v7m1-3v3m1-2v2m1-2v2m1-3v3m1-6v6m1-4v4m2-3v3m1-3v3m1-2v2m1-5v5m1-3v3m1-4v4m1-7v7m2-1v1m1-4v4m1-3v3m1-3v3m1-1v1m2-7v7m1-6v6m1-3v3m1-3v3m1-5v5m1-5v5m1-3v3m1-2v2m1-2v2m1-3v3m1-1v1m1-3v3m1-4v4m1-3v3m1-6v6m1-3v3m1-1v1m1-2v2m1-3v3m1-5v5m1-7v7m1-4v4m1-2v2m1-1v1m1-2v2m1-5v5m1-5v5m1-3v3m1-2v2m1-1v1m1-1v1m1-4v4m1-4v4m1-3v3m1-3v3m1-4v4m1-5v5m1-5v5m2-1v1m1-1v1m3-2v2m1-4v4m1-4v4m1-1v1m1-1v1m1-3v3m157-239v46m1-102v144m1-66v2m2-28v56m2-30v2m1-7v11m12-42v98m1-83v52m5-32v6m4-4v1m3-9v37"/>
<path stroke="#7F0000" d="M0.5 647v1m1-1v1m1-2v2m20-2v2m10-2v2m10-1v1m19-1v1m20-2v2m32-1v1m25-1v1m13-1v1m19-1v1m23-2v2m1-4v4m63-3v3m28-3v3m16-1v1m22-2v2m7-2v2m39-1v1m160-1v1m5-2v2m16-1v1"/>
</g>
<!-- axes -->
<g stroke="#000" stroke-width="1" fill="none" shape-rendering="crispEdges">
<path d="M179.5 116V765"/>
<path d="M172 116.5h7.5M172 224.5h7.5M172 332.5h7.5M172 440.5h7.5M172 548.5h7.5M172 656.5h7.5M172 764.5h7.5"/>
<path d="M179 764.5H991"/>
<path d="M179.5 764V781M215.5 764V781M250.5 764V781M285.5 764V781M320.5 764V781M356.5 764V781M391.5 764V781M426.5 764V781M461.5 764V781M497.5 764V781M532.5 764V781M567.5 764V781M602.5 764V781M638.5 764V781M673.5 764V781M708.5 764V781M743.5 764V781M779.5 764V781M814.5 764V781M849.5 764V781M884.5 764V781M920.5 764V781M955.5 764V781M990.5 764V781"/>
</g>
<g class="xt">
<text x="179.0" y="790.7">00</text>
<text x="215.0" y="790.7">01</text>
<text x="250.0" y="790.7">02</text>
<text x="285.0" y="790.7">03</text>
<text x="320.0" y="790.7">04</text>
<text x="356.0" y="790.7">05</text>
<text x="391.0" y="790.7">06</text>
<text x="426.0" y="790.7">07</text>
<text x="461.0" y="790.7">08</text>
<text x="497.0" y="790.7">09</text>
<text x="532.0" y="790.7">10</text>
<text x="567.0" y="790.7">11</text>
<text x="602.0" y="790.7">12</text>
<text x="638.0" y="790.7">13</text>
<text x="673.0" y="790.7">14</text>
<text x="708.0" y="790.7">15</text>
<text x="743.0" y="790.7">16</text>
<text x="779.0" y="790.7">17</text>
<text x="814.0" y="790.7">18</text>
<text x="849.0" y="790.7">19</text>
<text x="884.0" y="790.7">20</text>
<text x="920.0" y="790.7">21</text>
<text x="955.0" y="790.7">22</text>
<text x="990.0" y="790.7">23</text>
</g>
<g class="yt">
<text x="164.8" y="123.8" textLength="25" lengthAdjust="spacing">3.0</text>
<text x="164.8" y="231.8" textLength="25" lengthAdjust="spacing">2.5</text>
<text x="164.8" y="339.8" textLength="25" lengthAdjust="spacing">2.0</text>
<text x="164.8" y="447.8" textLength="23.6" lengthAdjust="spacing">1.5</text>
<text x="164.8" y="555.8" textLength="23.6" lengthAdjust="spacing">1.0</text>
<text x="164.8" y="663.8" textLength="25" lengthAdjust="spacing">0.5</text>
<text x="164.8" y="771.8" textLength="25" lengthAdjust="spacing">0.0</text>
</g>
<!-- colour bar -->
<g shape-rendering="crispEdges">
<rect x="1031" y="734" width="25" height="30" fill="#00007F"/>
<rect x="1031" y="703" width="25" height="31" fill="#0000B2"/>
<rect x="1031" y="672" width="25" height="31" fill="#0000E5"/>
<rect x="1031" y="641" width="25" height="31" fill="#0019FF"/>
<rect x="1031" y="610" width="25" height="31" fill="#004CFF"/>
<rect x="1031" y="579" width="25" height="31" fill="#007FFF"/>
<rect x="1031" y="548" width="25" height="31" fill="#00B2FF"/>
<rect x="1031" y="518" width="25" height="30" fill="#00E5FF"/>
<rect x="1031" y="487" width="25" height="31" fill="#19FFE5"/>
<rect x="1031" y="456" width="25" height="31" fill="#4CFFB2"/>
<rect x="1031" y="425" width="25" height="31" fill="#7FFF7F"/>
<rect x="1031" y="394" width="25" height="31" fill="#B2FF4C"/>
<rect x="1031" y="363" width="25" height="31" fill="#E5FF19"/>
<rect x="1031" y="332" width="25" height="31" fill="#FFE500"/>
<rect x="1031" y="302" width="25" height="30" fill="#FFB200"/>
<rect x="1031" y="271" width="25" height="31" fill="#FF7F00"/>
<rect x="1031" y="240" width="25" height="31" fill="#FF4C00"/>
<rect x="1031" y="209" width="25" height="31" fill="#FF1900"/>
<rect x="1031" y="178" width="25" height="31" fill="#E50000"/>
<rect x="1031" y="147" width="25" height="31" fill="#B20000"/>
<rect x="1031" y="116" width="25" height="31" fill="#7F0000"/>
<path d="M1031 734.5h25M1031 703.5h25M1031 672.5h25M1031 641.5h25M1031 610.5h25M1031 579.5h25M1031 548.5h25M1031 518.5h25M1031 487.5h25M1031 456.5h25M1031 425.5h25M1031 394.5h25M1031 363.5h25M1031 332.5h25M1031 302.5h25M1031 271.5h25M1031 240.5h25M1031 209.5h25M1031 178.5h25M1031 147.5h25" stroke="#000" stroke-width="1" fill="none"/>
<path d="M1031.5 116V765M1055.5 116V765M1031 116.5h25M1031 764.5h25" stroke="#000" stroke-width="1" fill="none"/>
<path d="M1056 734.5h8M1056 579.5h8M1056 425.5h8M1056 271.5h8M1056 116.5h8" stroke="#000" stroke-width="1" fill="none"/>
</g>
<g class="ct">
<text x="1069.5" y="741.7" textLength="30.2" lengthAdjust="spacing">275</text>
<text x="1069.5" y="586.7" textLength="30.2" lengthAdjust="spacing">280</text>
<text x="1069.5" y="432.7" textLength="30.2" lengthAdjust="spacing">285</text>
<text x="1069.5" y="278.7" textLength="30.2" lengthAdjust="spacing">290</text>
<text x="1069.5" y="123.7" textLength="30.2" lengthAdjust="spacing">295</text>
</g>
<text x="599.2" y="92.7" font-size="14" font-weight="bold" text-anchor="middle" textLength="112.8" lengthAdjust="spacing">Temperature (K)</text>
<text x="644.8" y="828.9" font-size="17.7" text-anchor="middle" textLength="103.8" lengthAdjust="spacing">Hours (UTC)</text>
<text transform="translate(88,548) rotate(-90)" font-size="17.7" text-anchor="middle" textLength="94.3" lengthAdjust="spacing">Height (km)</text>
</svg>
</body>
</html>
